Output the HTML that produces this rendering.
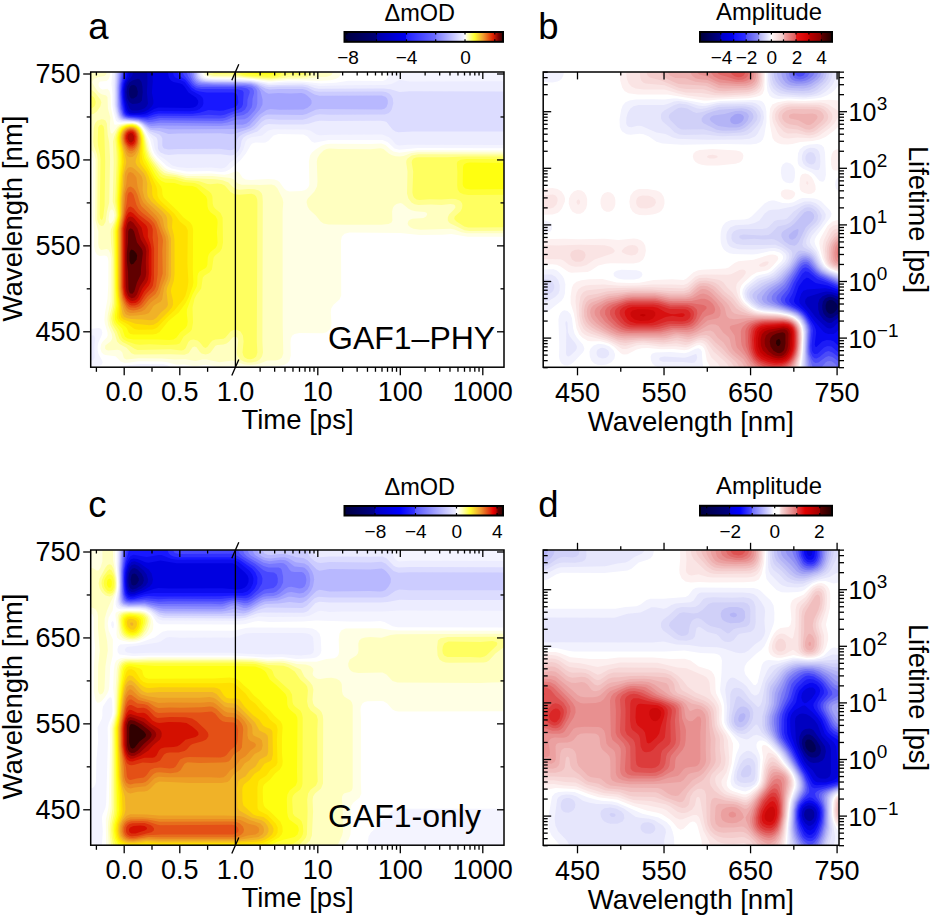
<!DOCTYPE html>
<html><head><meta charset="utf-8"><style>html,body{margin:0;padding:0;background:#fff;}svg{display:block;}text{font-family:"Liberation Sans",sans-serif;}</style></head><body><svg width="931" height="919" viewBox="0 0 931 919" font-family="Liberation Sans, sans-serif" fill="#000"><defs><linearGradient id="cba0" x1="0" x2="1" y1="0" y2="0"><stop offset="0.0000" stop-color="#000040"/><stop offset="0.2019" stop-color="#000078"/><stop offset="0.2025" stop-color="#0000a8"/><stop offset="0.3868" stop-color="#0000f0"/><stop offset="0.3874" stop-color="#2020ff"/><stop offset="0.5741" stop-color="#6c6cff"/><stop offset="0.5748" stop-color="#7a7aff"/><stop offset="0.7539" stop-color="#f4f4ff"/><stop offset="0.7603" stop-color="#ffffff"/><stop offset="0.7678" stop-color="#ffffe0"/><stop offset="0.8202" stop-color="#ffff30"/><stop offset="0.8738" stop-color="#f0a030"/><stop offset="0.9369" stop-color="#e02000"/><stop offset="0.9716" stop-color="#800000"/><stop offset="1.0000" stop-color="#300000"/></linearGradient><linearGradient id="cbb" x1="0" x2="1" y1="0" y2="0"><stop offset="0.0000" stop-color="#000038"/><stop offset="0.1576" stop-color="#000090"/><stop offset="0.1583" stop-color="#0000c8"/><stop offset="0.2553" stop-color="#0000f0"/><stop offset="0.2561" stop-color="#1010ff"/><stop offset="0.3500" stop-color="#3030ff"/><stop offset="0.3508" stop-color="#5050f4"/><stop offset="0.4447" stop-color="#8c8cf4"/><stop offset="0.4455" stop-color="#b0b0f4"/><stop offset="0.5364" stop-color="#f8f8ff"/><stop offset="0.5417" stop-color="#ffffff"/><stop offset="0.5492" stop-color="#fff4f4"/><stop offset="0.6326" stop-color="#f0c4c4"/><stop offset="0.6333" stop-color="#f0a8a8"/><stop offset="0.7273" stop-color="#e05858"/><stop offset="0.7280" stop-color="#e81818"/><stop offset="0.8250" stop-color="#d00000"/><stop offset="0.8258" stop-color="#c00000"/><stop offset="0.9197" stop-color="#880000"/><stop offset="0.9205" stop-color="#600000"/><stop offset="1.0000" stop-color="#200000"/></linearGradient><linearGradient id="cbc" x1="0" x2="1" y1="0" y2="0"><stop offset="0.0000" stop-color="#000040"/><stop offset="0.1924" stop-color="#000088"/><stop offset="0.1931" stop-color="#0000c0"/><stop offset="0.3502" stop-color="#0000ff"/><stop offset="0.4467" stop-color="#3434ff"/><stop offset="0.4473" stop-color="#5858ff"/><stop offset="0.7022" stop-color="#ececff"/><stop offset="0.7066" stop-color="#ffffff"/><stop offset="0.7129" stop-color="#ffffff"/><stop offset="0.7413" stop-color="#ffffc0"/><stop offset="0.7918" stop-color="#ffff30"/><stop offset="0.8549" stop-color="#f0a030"/><stop offset="0.9180" stop-color="#e03010"/><stop offset="0.9369" stop-color="#f00000"/><stop offset="0.9558" stop-color="#c00000"/><stop offset="0.9685" stop-color="#600000"/><stop offset="1.0000" stop-color="#300000"/></linearGradient><linearGradient id="cbd" x1="0" x2="1" y1="0" y2="0"><stop offset="0.0000" stop-color="#000040"/><stop offset="0.2235" stop-color="#000080"/><stop offset="0.2242" stop-color="#0000e0"/><stop offset="0.3030" stop-color="#0000ff"/><stop offset="0.3947" stop-color="#5050ff"/><stop offset="0.3955" stop-color="#7070ff"/><stop offset="0.5303" stop-color="#e0e0ff"/><stop offset="0.5606" stop-color="#ffffff"/><stop offset="0.5985" stop-color="#ffffff"/><stop offset="0.6136" stop-color="#f8dada"/><stop offset="0.7333" stop-color="#e07070"/><stop offset="0.7341" stop-color="#e04040"/><stop offset="0.7955" stop-color="#e00000"/><stop offset="0.9068" stop-color="#a00000"/><stop offset="0.9076" stop-color="#600000"/><stop offset="1.0000" stop-color="#200000"/></linearGradient><clipPath id="clipa"><rect x="90.7" y="72.0" width="413.30" height="295.20"/></clipPath><clipPath id="clipb"><rect x="543.2" y="72.0" width="295.80" height="295.30"/></clipPath><clipPath id="clipc"><rect x="90.7" y="550.0" width="413.30" height="295.20"/></clipPath><clipPath id="clipd"><rect x="543.2" y="550.0" width="295.80" height="295.30"/></clipPath></defs><g clip-path="url(#clipa)"><path fill-rule="evenodd" fill="#ffffe4" d="M257.5 367.5 242.1 367.5 232.5 366.1 218.5 367.0 205.5 364.7 194.5 366.4 184.5 364.4 176.5 364.8 167.5 362.2 161.5 361.4 138.5 361.3 128.5 362.8 124.5 362.8 120.6 361.5 115.5 356.2 105.5 355.1 103.5 354.3 101.5 352.2 100.4 348.5 101.0 344.5 102.5 341.7 106.8 337.5 107.7 335.5 107.5 332.5 104.8 323.5 104.4 319.5 104.9 313.5 107.5 298.7 108.3 284.5 108.4 261.5 107.7 257.5 106.5 255.9 104.5 255.5 99.5 255.9 96.9 254.5 95.1 251.5 94.1 246.5 94.2 231.5 92.5 215.5 92.9 161.5 92.5 158.2 90.5 155.5 90.5 72.5 110.2 72.5 109.7 76.5 108.4 79.5 106.5 80.9 100.3 81.5 99.0 82.5 98.4 84.5 98.9 86.5 100.5 88.6 102.5 89.4 107.5 88.7 109.5 90.9 110.6 95.5 110.9 107.5 114.3 124.5 115.5 124.8 123.5 123.2 131.5 122.7 135.5 123.2 139.5 125.1 142.0 127.5 145.1 132.5 148.3 139.5 151.6 151.5 153.6 155.5 156.5 159.2 164.5 167.4 167.5 169.4 184.5 173.5 190.5 174.1 211.5 173.5 224.5 174.7 228.5 174.1 235.5 171.4 237.5 171.4 239.5 172.9 242.5 177.7 245.5 179.5 250.5 180.0 268.5 179.0 274.5 179.4 277.5 180.4 279.5 181.9 284.1 188.5 286.5 190.6 289.5 191.4 301.5 190.9 304.5 190.3 306.5 189.2 308.5 186.9 309.4 184.5 308.9 161.5 310.0 155.5 312.0 152.5 315.6 149.5 321.5 145.7 325.5 144.2 330.5 143.7 370.5 144.1 381.5 143.6 385.5 145.0 390.5 149.6 393.4 151.5 399.5 152.8 417.5 150.3 503.5 150.5 503.5 236.7 467.5 236.8 451.5 234.0 442.5 234.8 419.5 235.1 400.5 233.1 349.5 232.6 344.5 233.7 341.9 236.5 341.0 240.5 341.2 295.5 339.5 299.6 333.5 304.8 331.2 308.5 330.8 312.5 331.5 323.5 331.1 326.5 329.8 329.5 326.5 332.3 322.5 333.3 299.5 333.0 294.5 333.9 292.3 335.5 290.8 338.5 290.5 342.5 290.8 355.5 289.5 360.5 287.5 363.1 284.5 364.8 280.5 365.7 267.5 366.1 257.5 367.5ZM272.5 81.5 266.5 81.4 253.5 79.3 235.5 78.1 210.5 77.7 205.5 76.1 204.0 74.5 203.4 72.5 340.7 72.5 340.0 75.5 338.5 77.5 335.5 79.1 330.5 80.2 320.5 80.7 288.5 80.2 272.5 81.5Z"/><path fill-rule="evenodd" fill="#ffffc0" d="M255.5 364.6 249.5 365.0 244.5 364.6 232.5 360.5 219.5 362.2 206.5 359.4 202.5 359.6 195.5 361.1 185.5 359.2 174.5 359.4 161.5 358.4 138.5 358.3 126.5 359.5 124.5 358.5 123.7 357.5 122.3 352.5 120.5 350.5 117.5 349.8 108.3 350.5 106.5 350.0 105.0 348.5 105.3 345.5 110.5 341.4 111.8 339.5 112.3 337.5 111.6 333.5 108.2 325.5 107.4 319.5 107.8 314.5 110.5 301.5 110.9 258.5 110.3 253.5 108.5 249.8 106.5 249.1 101.5 249.9 100.3 249.5 98.9 247.5 98.2 243.5 98.4 231.5 95.2 219.5 95.6 159.5 94.1 153.5 92.5 151.1 90.5 149.9 90.5 72.5 106.7 72.5 106.1 74.5 104.5 75.9 98.5 77.0 94.9 78.5 92.7 80.5 92.2 82.5 95.0 87.5 98.5 92.2 101.5 94.2 106.1 95.5 107.5 97.3 107.9 108.5 110.4 117.5 109.8 127.5 110.6 132.5 111.5 133.6 112.5 133.5 117.5 126.5 119.5 125.1 122.5 124.1 127.5 123.3 132.5 123.2 136.5 124.1 139.1 125.5 142.0 128.5 145.1 134.5 146.9 139.5 149.5 150.4 151.7 155.5 155.5 160.8 162.4 168.5 164.9 170.5 168.5 172.0 186.5 176.0 212.5 176.0 230.5 178.1 233.5 179.3 237.8 183.5 241.5 184.7 259.5 184.9 271.5 184.4 274.7 185.5 277.5 188.6 282.5 198.5 283.3 202.5 282.6 211.5 282.7 324.5 283.3 353.5 281.9 357.5 279.5 359.5 275.5 360.4 267.5 360.5 259.8 363.5 255.5 364.6ZM271.5 80.5 233.5 77.0 211.5 76.8 207.1 75.5 206.0 74.5 205.1 72.5 332.7 72.5 331.9 74.5 330.8 75.5 326.5 76.8 318.5 76.9 306.5 78.8 287.5 78.9 271.5 80.5ZM503.5 233.3 466.5 233.3 461.5 232.3 454.5 229.4 450.5 228.7 420.5 229.7 413.5 228.8 410.7 227.5 408.4 225.5 407.6 223.5 408.5 220.8 410.4 219.5 412.5 218.8 423.5 218.1 426.1 216.5 427.1 214.5 427.0 213.5 426.1 212.5 424.5 211.9 415.5 211.3 411.5 210.3 408.5 208.7 402.5 203.8 400.5 203.1 396.5 204.1 394.5 205.5 393.0 207.5 392.1 211.5 392.4 220.5 391.5 222.5 388.5 224.1 381.5 224.8 347.5 224.8 328.5 224.5 323.5 223.5 320.6 221.5 315.8 215.5 309.5 209.7 307.6 206.5 306.6 202.5 306.8 200.5 307.8 198.5 314.4 191.5 317.0 186.5 317.5 181.5 316.8 161.5 317.5 157.9 319.6 154.5 323.5 150.6 326.5 149.0 329.5 148.5 338.5 149.1 370.5 149.3 380.5 148.2 383.5 149.1 388.5 153.3 391.5 155.0 395.5 156.2 399.5 156.6 403.5 155.9 411.5 153.0 417.5 152.2 503.5 152.5 503.5 233.3ZM111.8 222.5 113.5 219.9 114.4 215.5 113.5 210.9 112.5 209.7 111.5 209.4 110.5 210.1 109.4 212.5 108.5 219.5 109.5 223.3 110.5 223.4 111.8 222.5Z"/><path fill-rule="evenodd" fill="#ffff90" d="M279.5 78.6 268.5 79.4 232.5 75.8 213.5 75.7 208.9 74.5 207.3 72.5 312.3 72.5 310.2 75.5 306.5 76.9 300.5 77.4 288.5 77.2 279.5 78.6ZM90.5 114.5 90.5 89.7 92.5 90.5 95.5 93.3 100.4 99.5 101.4 102.5 100.3 106.5 96.8 111.5 93.5 113.9 90.5 114.5ZM103.5 225.6 101.5 226.1 99.5 225.0 98.1 222.5 97.3 219.5 97.7 159.5 97.0 154.5 93.8 145.5 93.2 141.5 93.7 128.5 94.6 124.5 95.6 122.5 97.5 120.6 101.5 119.3 103.5 119.5 105.5 120.5 106.9 123.5 107.7 134.5 109.2 142.5 110.1 158.5 109.2 202.5 107.0 211.5 105.5 222.0 103.5 225.6ZM251.5 362.5 247.5 362.4 243.7 361.5 240.5 359.7 238.5 357.5 237.5 355.5 236.8 352.5 238.3 340.5 237.5 337.8 235.5 336.4 232.5 337.5 229.2 341.5 226.5 343.6 223.5 344.5 217.5 344.9 215.5 345.7 210.5 352.6 208.5 353.8 205.5 354.4 201.5 353.4 199.5 351.6 196.5 347.3 194.5 346.4 192.5 347.3 188.5 353.2 184.5 354.8 170.5 354.3 134.5 354.4 131.5 353.3 126.5 347.7 119.5 344.0 117.1 341.5 114.7 333.5 110.5 325.2 109.5 320.5 109.7 315.5 112.0 306.5 112.5 301.5 112.6 258.5 111.0 243.5 110.6 232.5 110.9 229.5 114.5 221.5 115.8 215.5 115.5 211.4 112.7 201.5 113.7 162.5 113.0 141.5 114.2 136.5 117.0 129.5 118.5 127.4 120.9 125.5 126.5 123.9 132.5 123.6 136.5 124.6 140.5 127.5 142.5 130.5 144.6 135.5 147.8 149.5 150.5 156.5 153.1 160.5 160.5 169.7 164.5 172.9 167.5 173.8 176.5 175.3 186.5 178.0 215.5 179.2 222.5 180.2 228.5 182.4 233.5 187.6 236.5 189.3 239.5 189.7 248.5 188.9 254.5 189.2 258.9 190.5 261.5 192.9 262.4 195.5 262.8 201.5 262.4 341.5 263.0 352.5 262.0 356.5 259.8 359.5 256.4 361.5 251.5 362.5ZM503.5 230.7 469.5 230.9 464.5 230.2 450.5 223.5 449.1 222.5 447.8 220.5 447.8 217.5 449.0 214.5 454.0 209.5 455.4 207.5 455.1 205.5 453.8 204.5 450.5 204.0 441.5 205.0 430.5 204.6 418.5 205.1 414.5 204.2 411.5 202.5 408.4 198.5 407.0 193.5 407.5 171.5 406.2 162.5 406.4 160.5 407.5 158.5 411.7 155.5 418.5 154.2 503.5 154.4 503.5 230.7Z"/><path fill-rule="evenodd" fill="#ffff60" d="M277.5 77.6 271.5 78.2 266.5 78.1 243.5 76.2 231.5 73.5 216.5 73.8 213.8 73.5 211.5 72.5 306.5 72.5 305.5 73.7 303.5 74.6 298.5 74.9 289.5 74.3 277.5 77.6ZM91.5 108.5 90.5 108.8 90.5 95.1 93.5 96.9 94.6 98.5 95.7 101.5 95.5 104.1 94.5 106.3 91.5 108.5ZM253.5 358.6 250.5 359.2 247.5 358.9 244.7 357.5 243.5 356.0 242.5 352.5 243.6 341.5 242.9 335.5 240.5 331.4 236.5 329.8 233.5 330.0 230.5 331.5 225.5 337.5 223.5 338.8 215.5 339.6 212.5 340.6 210.5 342.4 207.5 346.8 205.5 347.9 203.5 347.1 199.9 342.5 197.5 340.6 193.5 339.5 190.5 340.1 188.5 341.8 185.4 348.5 183.5 349.9 181.5 350.4 170.5 349.3 137.5 350.0 134.5 348.8 129.5 345.5 122.5 342.1 119.5 338.9 116.7 331.5 112.5 324.5 111.2 318.5 114.0 303.5 113.8 258.5 112.9 231.5 113.5 227.5 116.4 218.5 116.8 214.5 115.2 201.5 116.6 162.5 116.5 152.5 115.4 139.5 116.0 135.5 117.8 130.5 119.5 127.8 121.5 126.2 126.5 124.4 132.5 124.1 136.5 125.1 139.8 127.5 141.9 130.5 143.9 135.5 146.5 149.8 148.8 156.5 151.5 161.1 158.5 170.7 162.5 174.6 166.5 175.9 175.5 177.0 185.5 180.0 198.5 180.9 207.5 184.1 210.5 184.3 217.5 183.5 221.5 184.0 224.8 185.5 230.5 191.9 234.5 194.2 239.5 194.8 251.5 193.7 254.5 194.8 256.2 196.5 257.2 199.5 257.4 202.5 256.8 341.5 257.4 352.5 256.2 356.5 253.5 358.6ZM101.5 219.9 100.2 218.5 99.7 214.5 100.5 159.5 100.0 154.5 98.0 145.5 97.7 140.5 98.2 127.5 99.5 125.3 101.5 124.6 103.5 126.2 104.2 129.5 105.2 161.5 104.6 205.5 103.3 216.5 102.5 219.2 101.5 219.9ZM472.5 227.5 468.3 227.5 464.3 226.5 456.5 221.5 454.6 219.5 454.3 218.5 454.7 216.5 460.3 211.5 462.0 208.5 462.4 205.5 462.1 203.5 460.9 201.5 459.5 200.4 455.5 199.1 451.5 198.7 441.5 199.4 429.5 199.2 419.5 200.0 416.5 199.4 414.0 197.5 413.0 195.5 412.4 192.5 413.2 171.5 411.7 162.5 412.0 160.5 413.5 158.6 416.1 157.5 419.5 157.2 447.5 157.3 463.5 156.4 503.5 156.4 503.5 227.3 472.5 227.5Z"/><path fill-rule="evenodd" fill="#ffff38" d="M274.5 76.6 267.5 76.8 246.5 75.4 241.9 74.5 238.6 72.5 282.0 72.5 279.5 75.0 274.5 76.6ZM176.5 344.6 165.5 344.9 149.5 344.3 139.5 344.8 135.5 344.2 127.5 341.6 123.5 339.5 121.8 337.5 119.4 330.5 114.5 323.8 113.3 320.5 113.2 315.5 115.0 307.5 115.3 303.5 114.3 231.5 114.8 227.5 117.3 218.5 117.7 214.5 116.6 201.5 118.2 159.5 116.7 138.5 118.0 132.5 120.1 128.5 122.5 126.4 126.5 124.9 131.5 124.5 135.5 125.2 138.5 127.0 140.6 129.5 143.4 136.5 145.4 150.5 147.2 156.5 149.8 161.5 159.5 175.7 161.5 177.2 164.5 178.4 174.5 179.2 183.5 182.1 194.5 182.9 199.5 184.7 209.2 191.5 211.2 193.5 212.4 196.5 212.7 203.5 213.5 206.5 215.0 208.5 220.5 212.9 222.6 217.5 223.0 242.5 221.9 248.5 220.0 251.5 215.1 255.5 213.6 257.5 211.9 269.5 209.5 272.5 204.5 275.5 202.8 277.5 201.2 288.5 196.5 294.7 194.5 298.7 192.5 307.5 193.0 322.5 191.8 329.5 190.3 331.5 183.7 336.5 179.7 343.5 176.5 344.6ZM503.5 194.8 468.5 194.9 463.5 194.2 459.7 192.5 457.7 189.5 457.2 185.5 457.4 171.5 456.8 163.5 457.5 161.5 460.5 159.7 466.5 158.9 503.5 158.9 503.5 194.8Z"/><path fill-rule="evenodd" fill="#ffff10" d="M271.5 74.5 248.5 73.5 244.6 72.5 276.4 72.5 274.5 73.8 271.5 74.5ZM173.5 339.6 169.5 340.1 158.5 339.5 133.5 339.4 127.7 338.5 124.9 336.5 122.2 328.5 116.5 322.8 115.0 319.5 114.9 315.5 116.6 304.5 115.8 290.5 115.4 231.5 115.8 227.5 118.4 215.5 117.7 200.5 119.6 162.5 119.3 152.5 117.8 141.5 117.8 137.5 118.9 132.5 121.2 128.5 123.8 126.5 127.5 125.3 131.5 125.0 135.5 125.8 138.2 127.5 140.6 130.5 142.9 137.5 144.3 151.5 145.8 157.5 155.5 174.7 158.3 178.5 161.5 181.0 165.5 182.8 174.5 183.1 182.5 185.5 192.5 186.1 196.5 187.6 206.1 196.5 207.2 199.5 207.5 206.5 208.4 209.5 210.5 212.2 215.5 216.0 217.3 219.5 217.6 222.5 216.9 232.5 217.6 242.5 217.0 245.5 215.5 248.0 210.5 252.1 208.7 254.5 207.8 257.5 207.4 264.5 206.5 266.9 204.9 268.5 199.5 271.4 198.1 273.5 197.4 276.5 197.3 283.5 196.7 286.5 192.5 294.5 186.9 309.5 186.8 313.5 187.7 321.5 187.1 325.5 185.5 328.0 180.2 332.5 176.5 337.5 173.5 339.6ZM470.5 189.5 465.3 188.5 463.5 186.7 462.7 184.5 463.0 167.5 463.4 165.5 464.5 164.0 466.5 163.0 469.5 162.6 503.5 162.9 503.5 189.1 470.5 189.5Z"/><path fill-rule="evenodd" fill="#ffef08" d="M152.5 334.5 133.5 334.6 130.5 334.1 128.7 332.5 127.0 328.5 125.5 326.7 118.5 321.5 116.7 317.5 117.8 305.5 116.6 289.5 116.3 231.5 119.1 215.5 118.7 199.5 119.7 176.5 120.9 162.5 120.5 152.5 118.8 141.5 118.7 137.5 119.7 132.5 122.2 128.5 125.2 126.5 129.5 125.5 132.5 125.5 135.9 126.5 138.5 128.5 140.4 131.5 142.3 138.5 143.0 152.5 144.3 158.5 154.5 177.9 161.1 186.5 162.1 189.5 162.5 194.5 163.6 197.5 178.2 211.5 183.5 217.5 190.2 222.5 192.2 225.5 193.1 229.5 192.8 269.5 193.4 282.5 192.7 286.5 188.5 297.4 185.5 303.2 178.8 312.5 168.5 321.1 159.5 332.1 156.5 333.7 152.5 334.5Z"/><path fill-rule="evenodd" fill="#ffe000" d="M152.5 329.6 138.5 329.7 134.5 328.9 128.2 324.5 120.9 320.5 119.2 318.5 118.6 316.5 119.0 306.5 117.4 287.5 117.1 231.5 119.8 215.5 119.7 198.5 120.8 175.5 122.3 162.5 121.8 153.5 119.6 141.5 119.5 137.5 120.2 133.5 122.2 129.5 125.5 127.0 129.5 126.0 133.5 126.2 136.5 127.5 138.6 129.5 140.2 132.5 141.8 139.5 141.6 154.5 142.3 159.5 143.9 163.5 149.0 171.5 156.3 186.5 157.1 189.5 157.5 195.5 158.7 198.5 161.2 201.5 174.2 213.5 179.9 221.5 186.0 226.5 187.8 230.5 187.4 263.5 188.4 281.5 187.5 288.3 185.5 295.5 183.5 299.3 174.3 310.5 166.5 317.7 157.5 327.3 155.5 328.6 152.5 329.6Z"/><path fill-rule="evenodd" fill="#f8c914" d="M153.5 324.8 149.5 325.2 135.5 323.8 123.5 319.4 121.4 317.5 120.4 314.5 120.2 306.5 118.7 296.5 118.1 288.5 117.9 230.5 120.5 215.5 120.5 199.5 121.9 176.5 123.9 161.5 122.9 152.5 120.5 141.5 120.2 137.5 121.3 132.5 123.2 129.5 125.9 127.5 129.5 126.5 133.5 126.7 136.5 128.2 138.6 130.5 140.0 133.5 140.9 137.5 141.1 142.5 139.5 157.5 139.7 161.5 141.0 164.5 146.5 172.1 148.6 176.5 152.0 186.5 152.3 194.5 153.2 197.5 157.3 202.5 169.4 213.5 171.5 216.5 172.5 219.5 172.0 227.5 174.0 235.5 174.5 240.5 174.6 273.5 173.9 280.5 171.3 288.5 170.9 291.5 173.0 300.5 173.1 304.5 171.9 307.5 169.5 310.5 157.5 322.4 153.5 324.8Z"/><path fill-rule="evenodd" fill="#f0b228" d="M153.5 319.8 150.5 320.3 142.5 319.4 131.5 319.0 127.5 318.3 124.5 316.9 123.2 315.5 122.4 313.5 119.4 295.5 118.8 284.5 118.8 229.5 121.2 214.5 121.4 198.5 122.8 185.5 123.2 175.5 126.3 162.5 126.0 159.5 121.5 142.5 121.0 137.5 121.7 133.5 123.2 130.5 125.5 128.4 129.5 127.1 133.5 127.3 136.0 128.5 137.9 130.5 139.6 134.5 140.4 139.5 140.0 145.5 138.5 152.5 135.8 159.5 135.6 162.5 137.0 165.5 144.0 173.5 146.0 177.5 147.3 183.5 147.1 192.5 147.8 196.5 151.3 201.5 162.6 211.5 166.1 215.5 167.2 218.5 167.5 227.2 171.0 238.5 171.1 275.5 170.1 280.5 167.2 287.5 166.5 291.5 168.0 304.5 167.2 306.5 165.7 308.5 160.9 312.5 156.5 317.7 153.5 319.8Z"/><path fill-rule="evenodd" fill="#ed9e25" d="M132.5 156.9 129.5 157.3 127.5 155.9 126.5 154.4 122.8 144.5 121.8 139.5 121.9 135.5 123.5 131.3 126.5 128.6 130.5 127.5 134.5 128.3 137.2 130.5 138.7 133.5 139.6 138.5 139.4 143.5 138.0 149.5 135.5 154.2 132.5 156.9ZM136.5 315.6 129.5 315.8 126.5 314.8 125.2 313.5 123.8 310.5 120.7 298.5 119.6 288.5 119.6 228.5 121.9 214.5 122.5 196.9 124.1 185.5 124.9 174.5 125.6 171.5 127.5 168.2 128.5 167.4 130.5 166.9 132.5 167.5 135.5 169.7 139.5 173.5 141.7 176.5 142.8 180.5 142.6 190.5 144.5 198.1 147.5 202.5 158.3 212.5 161.7 216.5 162.9 219.5 164.4 227.5 168.0 236.5 168.7 241.5 168.5 275.5 167.5 279.5 164.1 287.5 162.1 299.5 160.5 301.8 155.5 304.4 153.5 306.0 150.1 311.5 148.5 313.2 144.9 314.5 136.5 315.6Z"/><path fill-rule="evenodd" fill="#ea8a22" d="M131.5 153.8 128.5 153.1 126.5 150.5 123.5 143.7 122.5 138.5 122.9 134.5 124.5 131.2 127.5 128.9 130.5 128.1 133.5 128.5 136.5 130.7 138.3 134.5 138.9 138.5 138.5 143.9 137.0 148.5 134.5 152.1 131.5 153.8ZM136.5 312.6 132.5 313.1 129.5 312.8 127.5 311.8 126.3 310.5 124.5 307.1 121.9 299.5 120.3 288.5 120.3 228.5 122.8 213.5 123.9 194.5 126.4 183.5 127.0 176.5 128.5 172.8 130.5 172.0 133.5 173.6 136.4 177.5 137.5 186.5 141.5 198.7 143.3 202.5 156.1 215.5 159.0 219.5 162.0 228.5 165.4 236.5 166.2 241.5 166.0 274.5 165.0 278.5 162.0 285.5 159.5 294.1 157.5 297.2 150.7 302.5 144.9 309.5 141.5 311.4 136.5 312.6Z"/><path fill-rule="evenodd" fill="#e76d1c" d="M132.5 150.8 129.5 150.8 127.5 149.1 124.5 143.8 123.3 138.5 123.7 134.5 125.2 131.5 127.5 129.6 130.5 128.8 133.5 129.3 135.5 130.6 137.3 133.5 138.1 137.5 137.9 142.5 136.6 146.5 134.5 149.5 132.5 150.8ZM137.5 309.7 133.5 310.4 130.5 310.1 128.5 309.2 126.5 307.2 124.5 303.6 122.6 298.5 121.1 289.5 121.0 228.5 123.8 212.5 125.5 193.3 127.5 188.2 128.5 187.2 130.5 186.6 133.5 188.2 135.5 190.8 137.5 195.1 140.0 203.5 141.5 206.2 153.5 217.7 156.5 221.5 162.2 236.5 163.0 240.5 162.3 250.5 162.7 273.5 158.0 289.5 155.5 294.1 149.0 299.5 143.4 306.5 140.7 308.5 137.5 309.7Z"/><path fill-rule="evenodd" fill="#e45016" d="M132.5 148.6 129.5 148.4 127.5 146.8 125.0 142.5 124.1 138.5 124.3 135.5 125.5 132.5 127.5 130.5 130.5 129.5 133.5 130.1 135.3 131.5 136.5 133.5 137.3 136.5 137.3 140.5 136.5 144.0 134.5 147.2 132.5 148.6ZM135.5 307.7 130.5 307.5 128.5 306.4 126.5 304.3 123.3 297.5 121.8 287.5 121.8 228.5 126.6 203.5 127.5 195.4 128.5 192.8 130.5 191.8 131.8 192.5 133.5 194.7 136.3 204.5 138.5 208.8 141.5 212.0 150.8 219.5 154.3 223.5 156.5 229.3 158.1 238.5 157.7 274.5 156.0 286.5 154.1 290.5 147.5 296.6 141.6 304.5 139.0 306.5 135.5 307.7Z"/><path fill-rule="evenodd" fill="#dc300b" d="M132.5 146.5 129.5 146.4 127.5 144.7 125.7 141.5 125.0 138.5 125.2 135.5 126.5 132.6 128.5 131.0 130.5 130.4 132.5 130.6 134.5 131.9 135.6 133.5 136.5 136.5 136.5 139.6 135.5 143.4 134.5 145.0 132.5 146.5ZM134.5 305.6 131.5 305.5 129.5 304.7 126.3 301.5 123.5 294.6 122.6 286.5 122.6 228.5 123.6 222.5 126.5 211.0 128.5 207.3 130.5 206.6 133.5 208.3 138.8 214.5 148.5 221.9 151.6 225.5 152.8 229.5 152.6 237.5 154.1 248.5 154.0 278.5 152.9 285.5 151.2 288.5 145.5 294.4 140.5 302.2 137.6 304.5 134.5 305.6Z"/><path fill-rule="evenodd" fill="#d41000" d="M132.5 144.5 130.5 144.7 128.5 143.6 127.0 141.5 126.1 138.5 126.3 135.5 127.2 133.5 128.5 132.2 130.5 131.4 132.5 131.7 133.7 132.5 135.5 136.5 134.9 141.5 133.8 143.5 132.5 144.5ZM135.5 302.9 131.5 303.2 129.5 302.4 127.5 300.6 125.6 297.5 124.5 294.5 123.5 287.5 123.5 228.5 124.6 222.5 126.5 216.1 128.5 212.6 130.5 211.7 133.5 213.6 139.5 219.6 145.3 224.5 146.9 226.5 147.8 229.5 147.8 236.5 150.6 244.5 151.4 249.5 151.4 274.5 150.5 282.1 148.9 285.5 144.0 291.5 139.7 299.5 137.5 301.8 135.5 302.9Z"/><path fill-rule="evenodd" fill="#b20800" d="M131.5 142.5 130.5 142.5 129.0 141.5 127.5 138.5 127.5 136.5 128.2 134.5 130.5 132.9 132.6 133.5 134.1 136.5 133.7 140.5 131.5 142.5ZM134.5 300.6 132.5 301.0 130.5 300.5 127.5 298.0 125.5 293.5 124.5 286.5 124.5 229.5 126.9 219.5 128.5 217.1 130.5 216.4 132.5 217.1 134.5 218.8 141.5 227.5 143.6 236.5 148.1 245.5 149.0 250.5 148.6 260.5 148.9 273.5 148.1 279.5 146.8 282.5 142.4 288.5 138.2 297.5 136.5 299.5 134.5 300.6Z"/><path fill-rule="evenodd" fill="#900000" d="M134.5 297.5 131.5 298.2 128.5 296.2 126.5 291.6 125.9 286.5 125.4 258.5 125.9 230.5 127.5 223.8 128.5 221.9 130.5 220.8 133.5 223.0 137.4 228.5 140.8 239.5 145.5 247.0 146.3 251.5 145.8 262.5 146.2 272.5 145.7 276.5 144.5 279.6 139.9 286.5 136.9 294.5 134.5 297.5Z"/><path fill-rule="evenodd" fill="#600000" d="M132.5 293.8 130.4 293.5 129.5 292.4 128.5 289.5 128.0 271.5 126.9 261.5 126.9 252.5 128.0 242.5 128.2 231.5 128.9 229.5 130.5 228.3 132.5 229.2 134.1 231.5 137.0 242.5 141.5 248.5 142.5 250.8 142.8 253.5 141.1 267.5 140.8 274.5 137.0 282.5 134.3 291.5 132.5 293.8Z"/><path fill-rule="evenodd" fill="#300000" d="M133.5 263.7 131.5 264.4 130.5 263.8 129.5 261.1 129.5 252.9 130.5 250.2 131.5 249.6 133.5 250.3 134.8 251.5 136.4 253.5 137.1 255.5 136.6 259.5 133.5 263.7Z"/><path fill-rule="evenodd" fill="#f4f4ff" d="M225.5 171.6 221.5 172.0 209.5 170.9 186.5 171.5 171.5 168.6 166.5 165.7 157.5 157.3 154.5 153.5 152.7 149.5 150.1 139.5 144.2 129.5 140.9 125.5 137.7 123.5 134.5 122.5 119.5 122.5 117.5 122.1 115.9 120.5 113.2 110.5 112.4 105.5 112.4 94.5 111.4 83.5 112.2 72.5 202.0 72.5 202.4 74.5 203.9 76.5 206.5 77.8 210.5 78.6 233.5 78.8 251.5 79.8 268.5 82.7 286.5 81.6 301.5 81.6 320.5 83.5 335.5 82.7 348.5 80.7 382.5 80.9 385.5 80.0 387.4 78.5 388.3 76.5 388.7 72.5 503.5 72.5 503.5 148.3 417.5 148.1 399.5 149.7 394.5 148.5 387.5 141.9 382.5 139.9 328.5 139.9 314.5 142.7 311.6 141.5 307.5 136.5 303.5 134.4 278.5 134.1 273.5 135.6 268.5 140.7 265.5 142.4 262.5 142.8 255.5 142.4 252.2 143.5 250.5 145.5 245.9 153.5 240.5 160.3 229.6 169.5 225.5 171.6ZM99.5 365.9 90.5 366.3 90.5 329.1 98.5 327.9 100.5 328.5 101.5 329.5 102.4 332.5 101.6 335.5 98.5 342.2 97.6 346.5 97.7 350.5 98.5 354.0 102.1 360.5 102.7 362.5 101.8 364.5 99.5 365.9ZM170.5 367.5 118.3 367.5 119.5 366.5 121.5 365.9 140.5 364.0 163.5 364.3 167.9 365.5 170.5 367.5Z"/><path fill-rule="evenodd" fill="#ececff" d="M224.5 167.7 221.5 168.4 210.5 167.5 187.5 168.0 177.5 166.9 172.3 165.5 165.1 159.5 159.5 155.8 157.2 153.5 154.8 148.5 153.0 139.5 141.5 125.2 138.5 123.3 135.5 122.3 121.5 121.7 118.3 120.5 116.1 116.5 113.8 105.5 113.3 83.5 113.8 72.5 200.6 72.5 201.4 75.5 203.3 77.5 205.5 78.5 209.5 79.3 234.5 79.6 251.5 80.5 269.5 84.0 284.5 83.1 303.5 83.0 319.5 86.1 347.5 85.2 384.5 85.1 391.5 83.9 399.5 80.1 409.5 81.5 503.5 81.3 503.5 144.9 408.5 144.7 399.5 145.6 397.5 145.2 395.5 144.0 391.5 139.3 388.5 136.9 382.5 134.6 329.5 134.7 319.5 135.2 316.5 134.5 310.1 130.5 305.5 129.4 273.5 129.3 268.5 130.6 262.1 135.5 251.5 137.3 247.5 139.1 245.7 141.5 243.3 149.5 240.5 153.9 236.5 157.9 230.5 161.9 226.5 166.4 224.5 167.7ZM91.5 360.7 90.5 360.8 90.5 334.9 93.5 335.5 94.6 336.5 95.2 338.5 94.3 347.5 94.7 357.5 93.8 359.5 91.5 360.7ZM144.5 367.5 137.2 367.5 144.5 367.5ZM161.5 367.5 155.0 367.5 161.5 367.5Z"/><path fill-rule="evenodd" fill="#dcdcff" d="M233.5 154.9 230.5 155.4 220.5 154.3 177.5 154.3 168.5 154.9 164.5 154.3 160.6 152.5 158.8 150.5 157.9 148.5 157.6 140.5 156.5 137.5 149.5 133.0 141.6 124.5 138.5 122.7 135.5 121.8 121.5 120.8 119.1 119.5 117.7 117.5 115.9 111.5 114.8 104.5 114.7 84.5 115.1 72.5 199.3 72.5 200.0 75.5 201.4 77.5 203.5 78.8 207.5 79.8 250.5 81.1 256.5 82.0 268.5 85.3 302.5 84.5 307.5 85.3 314.5 88.0 318.5 88.7 383.5 88.4 390.5 89.3 399.5 92.1 409.5 91.3 503.5 91.5 503.5 131.6 413.5 131.5 398.5 132.2 395.5 131.5 392.5 129.6 386.5 122.1 384.5 121.2 380.5 120.7 329.5 121.0 319.5 120.7 315.5 121.4 308.5 123.8 303.5 124.5 279.5 124.6 268.5 123.9 264.5 125.2 257.4 131.5 246.5 135.5 243.5 137.4 241.6 140.5 240.5 146.5 239.4 149.5 236.5 153.1 233.5 154.9Z"/><path fill-rule="evenodd" fill="#ccccff" d="M233.5 149.6 230.5 150.2 219.5 148.8 177.5 148.9 168.5 149.5 164.1 148.5 163.1 147.5 162.3 145.5 162.3 138.5 161.4 136.5 159.4 134.5 149.5 131.1 142.6 124.5 138.5 122.1 133.5 121.0 123.5 120.4 120.9 119.5 118.9 117.5 117.1 112.5 115.8 104.5 115.7 85.5 116.3 72.5 198.1 72.5 198.6 75.5 200.5 78.3 203.5 79.9 207.5 80.7 250.5 81.8 256.5 82.9 265.5 86.4 269.5 87.1 279.5 86.5 302.5 86.4 307.3 87.5 314.5 90.9 318.5 91.7 382.5 91.5 386.5 92.3 389.0 93.5 391.2 95.5 392.8 98.5 393.3 103.5 391.7 109.5 390.4 111.5 388.5 113.2 384.5 114.5 329.5 114.7 319.5 114.3 315.5 114.9 306.5 118.8 302.5 119.7 278.5 119.7 269.5 118.9 265.5 119.6 261.5 122.1 256.5 127.5 254.0 129.5 242.5 134.2 239.1 136.5 237.2 139.5 236.0 146.5 233.5 149.6Z"/><path fill-rule="evenodd" fill="#b8b8ff" d="M235.5 133.5 231.5 134.3 220.5 133.2 178.5 133.4 168.5 134.0 159.5 130.9 150.5 129.7 142.4 123.5 138.4 121.5 122.5 119.3 120.5 117.9 119.0 115.5 116.9 106.5 116.6 88.5 117.4 72.5 196.8 72.5 197.5 76.4 198.8 78.5 201.5 80.2 205.5 81.2 214.5 81.9 237.5 81.9 250.5 82.5 256.5 83.9 265.5 88.6 269.5 89.5 279.5 88.9 302.5 88.9 306.5 90.1 314.5 94.6 319.5 95.7 381.5 95.4 385.5 96.8 387.1 98.5 387.8 100.5 387.8 103.5 386.5 106.9 384.5 108.7 381.5 109.6 319.5 108.9 315.5 109.7 306.5 113.9 302.5 114.9 267.5 114.6 264.5 115.6 261.4 117.5 254.1 125.5 250.5 128.3 235.5 133.5Z"/><path fill-rule="evenodd" fill="#a4a4ff" d="M240.5 128.6 233.5 129.1 169.5 129.2 159.5 128.1 152.5 128.2 149.5 127.4 142.5 122.7 138.5 120.9 123.5 118.9 121.4 117.5 120.0 115.5 118.6 111.5 117.8 106.5 117.4 88.5 118.5 72.5 195.4 72.5 195.7 75.5 197.0 78.5 199.3 80.5 202.5 81.7 212.5 82.6 240.5 82.7 251.4 83.5 257.4 85.5 265.5 92.3 268.5 93.7 278.5 92.9 290.5 93.6 301.5 92.9 304.5 93.8 307.1 95.5 310.3 98.5 311.5 100.5 311.6 103.5 310.3 105.5 307.5 107.8 303.5 109.6 279.5 109.7 270.5 109.1 266.5 109.9 259.5 114.8 249.6 125.5 245.5 127.5 240.5 128.6Z"/><path fill-rule="evenodd" fill="#8e8eff" d="M227.5 125.5 219.5 126.0 159.5 125.4 151.5 126.1 148.5 125.3 142.5 121.9 138.5 120.3 126.5 119.0 123.5 118.0 121.5 116.3 120.0 113.5 118.4 104.5 118.2 88.5 119.5 72.5 193.8 72.5 194.4 76.5 195.9 79.5 198.3 81.5 201.5 82.6 214.5 83.5 245.5 83.8 251.5 84.5 256.3 86.5 258.6 88.5 260.5 91.5 262.6 99.5 262.5 104.5 259.8 109.5 249.5 121.2 246.5 123.5 242.5 124.7 234.5 124.5 227.5 125.5Z"/><path fill-rule="evenodd" fill="#7878ff" d="M154.5 123.6 149.5 123.8 138.5 119.7 126.5 118.3 124.2 117.5 122.0 115.5 119.9 109.5 118.9 98.5 119.0 86.5 120.5 72.5 192.0 72.5 192.7 76.5 194.0 79.5 196.5 82.2 199.5 83.5 212.5 84.5 247.5 85.0 251.5 85.8 254.5 87.3 256.5 89.5 257.3 91.5 257.3 103.5 256.3 107.5 254.5 110.5 250.5 115.0 247.5 117.7 244.5 119.3 235.5 119.7 227.5 122.5 221.5 123.4 160.5 122.8 154.5 123.6Z"/><path fill-rule="evenodd" fill="#6060ff" d="M152.5 121.7 148.5 121.9 138.5 119.0 126.5 117.6 124.1 116.5 122.3 114.5 120.5 108.1 119.6 95.5 119.8 85.5 121.5 72.5 189.8 72.5 190.6 76.5 192.7 80.5 195.5 83.5 198.5 84.9 203.5 85.4 244.5 85.9 251.2 87.5 252.6 88.5 253.8 90.5 254.0 93.5 252.6 98.5 252.3 104.5 251.6 107.5 247.8 112.5 243.5 115.0 234.8 116.5 226.5 120.0 222.5 120.9 160.5 120.3 152.5 121.7Z"/><path fill-rule="evenodd" fill="#4848ff" d="M151.5 119.7 147.5 120.1 137.5 118.2 128.5 117.4 125.5 116.4 123.4 114.5 121.4 108.5 120.2 94.5 120.6 85.5 122.5 72.5 186.8 72.5 188.2 76.5 192.1 82.5 194.5 85.0 197.5 86.5 201.5 87.0 241.5 87.3 247.2 88.5 249.5 90.5 249.7 92.5 247.5 99.4 247.2 105.5 245.1 109.5 241.5 111.9 233.5 114.1 224.5 117.9 219.5 118.4 159.5 118.0 151.5 119.7Z"/><path fill-rule="evenodd" fill="#3030ff" d="M147.5 118.5 128.5 116.6 125.5 115.4 123.5 112.9 121.7 104.5 120.9 92.5 121.4 84.5 123.6 72.5 182.7 72.5 184.1 75.5 192.4 85.5 196.5 88.2 201.5 89.0 237.5 89.2 242.5 90.5 243.7 92.5 242.9 104.5 241.5 107.5 238.5 109.6 224.5 114.7 220.5 115.4 208.5 114.8 191.5 116.0 158.5 115.7 147.5 118.5Z"/><path fill-rule="evenodd" fill="#1818ff" d="M147.5 116.8 143.5 117.1 129.5 116.0 126.5 114.9 124.4 112.5 122.5 103.5 121.7 91.5 122.3 84.5 124.8 72.5 177.7 72.5 179.1 75.5 185.5 80.0 191.6 87.5 195.5 90.2 199.5 91.4 206.5 92.4 233.0 92.5 235.9 93.5 236.9 94.5 237.7 96.5 238.3 102.5 237.1 105.5 234.0 107.5 223.5 110.4 219.5 110.8 208.5 110.0 199.5 112.7 192.5 113.7 158.5 113.4 154.5 114.2 147.5 116.8Z"/><path fill-rule="evenodd" fill="#0c0cef" d="M144.5 115.6 129.5 115.1 126.5 113.6 125.1 111.5 122.9 99.5 122.5 90.5 123.1 84.5 125.5 76.5 126.2 72.5 173.0 72.5 173.7 75.5 175.2 77.5 184.5 82.1 191.4 90.5 200.5 95.5 202.4 97.5 203.2 99.5 203.4 103.5 202.3 106.5 199.5 109.1 196.5 110.5 189.5 111.3 158.5 110.9 154.5 111.8 147.5 114.9 144.5 115.6Z"/><path fill-rule="evenodd" fill="#0000e0" d="M140.5 114.5 132.5 114.5 129.5 113.9 127.3 112.5 125.7 109.5 123.5 97.5 123.3 89.5 124.3 83.5 127.0 76.5 127.8 72.5 167.9 72.5 168.9 77.5 170.9 80.5 173.5 82.1 180.3 83.5 182.5 84.6 184.4 86.5 188.5 92.6 196.0 97.5 198.1 100.5 198.3 102.5 197.5 104.8 195.8 106.5 193.5 107.5 189.5 107.9 158.5 107.5 154.5 108.8 145.8 113.5 140.5 114.5Z"/><path fill-rule="evenodd" fill="#0000c4" d="M141.5 112.6 134.5 113.2 130.5 112.7 128.5 111.4 127.1 108.5 124.5 97.6 124.3 89.5 125.4 83.5 128.9 76.5 129.8 72.5 152.5 72.5 152.8 81.5 151.9 92.5 153.4 100.5 153.4 103.5 151.8 106.5 148.5 109.4 144.9 111.5 141.5 112.6Z"/><path fill-rule="evenodd" fill="#0000a8" d="M137.5 110.5 132.1 110.5 130.5 109.6 129.5 108.2 126.5 101.0 125.5 96.6 125.2 91.5 125.8 86.5 127.5 82.0 132.3 75.5 133.0 72.5 147.2 72.5 147.5 81.5 146.9 92.5 148.0 103.5 146.5 106.5 144.5 108.2 141.7 109.5 137.5 110.5Z"/><path fill-rule="evenodd" fill="#000088" d="M137.5 103.6 132.5 104.1 129.5 102.2 127.5 98.5 126.6 92.5 127.3 86.5 129.5 82.5 132.5 80.4 137.5 78.8 139.5 79.3 141.5 82.0 142.4 86.5 142.7 92.5 141.8 100.5 140.2 102.5 137.5 103.6Z"/><path fill-rule="evenodd" fill="#000068" d="M133.5 98.6 131.5 98.5 130.3 97.5 129.3 95.5 128.9 91.5 129.3 88.5 130.2 86.5 131.5 85.3 133.5 84.9 135.1 85.5 136.5 86.9 137.8 91.5 137.5 94.5 136.6 96.5 133.5 98.6Z"/></g><g clip-path="url(#clipb)"><path fill-rule="evenodd" fill="#fdf0f0" d="M708.5 100.5 703.5 100.4 667.5 94.5 637.5 94.6 628.5 93.3 624.5 90.9 622.2 87.5 620.2 80.5 619.6 72.5 765.0 72.5 764.3 89.5 762.8 93.5 760.5 95.4 755.5 97.0 748.5 98.2 718.5 99.4 708.5 100.5ZM787.5 144.5 781.5 144.2 777.5 143.0 774.5 141.1 772.5 137.9 769.9 124.5 769.4 116.5 770.1 108.5 772.3 104.5 777.5 102.3 787.5 100.6 804.5 101.1 829.5 99.8 838.5 100.6 838.5 126.4 834.3 130.5 825.5 136.9 819.7 139.5 812.5 140.9 800.5 142.1 792.5 144.0 787.5 144.5ZM718.5 165.6 706.5 165.5 701.5 164.8 697.9 163.5 695.5 161.9 693.6 159.5 692.8 156.5 693.5 153.5 695.5 151.4 699.5 149.9 712.5 148.9 736.5 150.4 740.4 151.5 742.7 153.5 743.4 155.5 743.0 158.5 741.5 161.0 739.5 162.5 735.5 163.8 718.5 165.6ZM836.5 170.6 833.5 170.3 832.0 168.5 831.1 164.5 831.0 158.5 831.7 154.5 833.1 151.5 835.5 149.7 838.5 149.0 838.5 170.3 836.5 170.6ZM811.5 193.7 808.5 193.9 804.5 193.1 801.5 191.5 800.0 189.5 799.5 185.5 799.9 178.5 800.9 175.5 802.5 173.9 805.5 173.6 808.5 174.6 811.5 177.0 813.6 180.5 815.4 185.5 815.7 189.5 814.5 192.1 811.5 193.7ZM552.5 214.5 543.5 214.7 543.5 188.7 552.5 188.0 557.5 188.9 561.6 191.5 564.2 195.5 565.0 198.5 564.9 201.5 561.9 208.5 559.5 211.5 557.5 213.0 552.5 214.5ZM652.5 214.5 645.5 215.2 639.5 214.9 635.5 213.7 632.5 211.5 630.2 207.5 629.3 201.5 630.5 195.5 633.5 191.5 636.5 189.8 639.5 189.0 647.5 188.9 656.5 190.4 659.5 191.8 661.6 193.5 663.5 196.5 664.4 199.5 664.5 203.5 663.5 207.5 661.6 210.5 659.5 212.2 656.5 213.6 652.5 214.5ZM789.5 199.5 786.5 199.6 784.5 199.0 781.5 196.6 780.7 193.5 781.4 191.5 782.4 190.5 784.7 189.5 788.5 189.4 792.5 190.5 794.5 191.9 795.3 193.5 794.3 196.5 792.2 198.5 789.5 199.5ZM580.5 213.7 576.5 213.8 572.5 211.7 570.3 208.5 568.7 203.5 569.0 198.5 570.8 194.5 573.7 191.5 577.5 190.0 581.5 190.6 584.3 192.5 586.2 195.5 587.2 199.5 587.1 204.5 586.1 208.5 583.5 212.1 580.5 213.7ZM609.5 211.8 606.5 211.8 603.5 210.3 601.5 207.5 600.5 203.5 600.6 199.5 602.0 195.5 604.5 192.9 607.5 192.0 610.5 192.5 613.2 194.5 614.8 197.5 615.4 200.5 615.3 204.5 614.4 207.5 612.5 210.2 609.5 211.8ZM838.5 271.9 830.5 268.9 827.5 266.8 825.4 264.5 822.6 258.5 820.0 248.5 819.3 243.5 819.6 240.5 820.8 237.5 827.5 225.8 832.5 221.6 838.5 219.8 838.5 271.9ZM576.5 272.5 571.5 272.7 568.5 272.0 560.5 266.4 556.5 264.7 552.5 264.3 543.5 264.6 543.5 239.3 564.5 238.8 578.5 239.3 604.5 238.7 618.5 240.0 633.5 238.4 637.5 238.9 641.3 240.5 643.5 242.5 645.2 245.5 645.9 250.5 645.0 255.5 643.1 259.5 639.5 262.3 633.5 263.4 610.5 263.3 605.5 263.7 598.5 265.6 590.5 270.7 587.5 272.0 576.5 272.5ZM799.5 367.5 710.2 367.5 706.8 360.5 705.2 351.5 704.1 348.5 702.5 346.4 699.5 345.0 696.5 345.4 688.5 349.4 684.5 350.3 673.5 349.0 661.5 349.3 647.5 348.1 641.5 348.2 636.6 349.5 627.5 354.3 624.5 354.6 622.5 354.2 620.5 353.0 613.7 346.5 608.6 343.5 600.5 341.2 590.5 341.3 587.5 340.8 582.5 337.8 579.2 334.5 576.5 328.6 573.9 313.5 570.7 303.5 570.6 296.5 571.9 287.5 573.5 284.2 576.5 281.7 581.5 280.2 589.5 279.2 602.5 278.9 616.5 282.5 629.5 283.1 639.5 282.7 653.5 279.9 672.5 279.2 683.5 279.9 686.5 278.5 693.5 272.3 697.5 270.4 701.5 269.7 725.5 268.6 728.6 267.5 734.5 262.9 738.5 261.2 753.5 259.7 769.5 254.8 772.5 254.5 775.5 254.9 777.8 256.5 778.3 258.5 777.4 260.5 773.2 265.5 770.2 268.5 767.5 270.2 756.5 272.6 751.5 275.6 743.9 282.5 741.4 285.5 739.9 289.5 740.1 294.5 741.4 298.5 744.1 302.5 749.5 307.2 754.5 310.2 761.5 312.1 777.5 313.4 787.5 315.2 793.7 317.5 798.6 321.5 801.7 327.5 802.6 334.5 801.7 352.5 799.5 367.5Z"/><path fill-rule="evenodd" fill="#fae4e4" d="M721.5 97.5 707.5 97.7 687.5 95.5 678.2 93.5 664.5 89.5 643.5 89.6 635.5 88.5 631.4 86.5 628.5 83.2 626.8 78.5 626.2 72.5 763.7 72.5 763.5 81.5 762.7 86.5 761.0 90.5 758.5 92.9 754.5 94.7 748.5 96.1 721.5 97.5ZM788.5 138.6 783.5 138.0 779.5 135.5 777.5 132.4 773.0 122.5 772.1 117.5 772.5 112.5 774.4 108.5 777.9 105.5 782.8 103.5 788.5 102.5 802.5 102.9 820.5 102.6 824.5 103.2 828.3 104.5 838.5 111.0 838.5 116.5 834.2 123.5 829.5 128.3 819.4 135.5 815.5 137.2 810.5 138.2 797.5 137.4 788.5 138.6ZM714.5 158.6 709.5 158.4 707.4 157.5 707.0 156.5 708.5 155.3 712.5 154.8 716.5 155.5 717.7 156.5 717.4 157.5 714.5 158.6ZM838.5 162.6 837.8 160.5 838.5 158.0 838.5 162.6ZM807.5 184.9 806.2 183.5 806.5 181.3 807.5 181.3 808.2 182.5 808.5 183.5 807.5 184.9ZM550.5 208.6 543.5 208.9 543.5 195.3 553.0 194.5 555.5 195.4 557.2 197.5 557.7 200.5 556.5 204.5 553.5 207.5 550.5 208.6ZM646.5 208.5 640.5 208.2 638.5 207.2 636.9 205.5 636.2 203.5 636.2 200.5 636.9 198.5 638.9 196.5 642.5 195.4 648.5 195.8 652.5 197.1 655.3 199.5 656.0 202.5 654.5 205.5 651.5 207.4 646.5 208.5ZM578.5 204.7 577.5 204.5 576.5 202.5 576.9 200.5 578.5 199.3 579.5 199.9 580.1 201.5 579.9 203.5 578.5 204.7ZM838.5 270.9 834.5 269.7 830.5 267.8 827.7 265.5 826.2 263.5 824.0 257.5 822.5 246.5 823.7 240.5 829.5 228.5 833.5 225.4 838.5 224.5 838.5 270.9ZM581.5 266.5 575.5 266.7 571.5 266.0 568.5 264.5 563.5 260.5 560.5 259.3 543.5 258.9 543.5 245.1 556.5 245.5 579.5 244.8 604.5 245.3 610.5 246.8 613.1 248.5 614.7 250.5 614.6 251.5 613.8 252.5 612.2 253.5 594.5 259.6 586.5 265.1 581.5 266.5ZM635.5 254.7 631.5 255.4 626.4 254.5 622.4 252.5 621.7 251.5 621.8 250.5 624.7 247.5 628.5 245.6 632.5 245.0 635.4 245.5 637.5 247.0 638.5 249.5 637.8 252.5 635.5 254.7ZM764.5 266.6 760.5 266.7 759.0 265.5 759.5 264.5 762.5 262.5 765.5 261.4 768.3 261.5 768.7 262.5 767.7 264.5 764.5 266.6ZM798.5 367.5 720.4 367.5 717.8 363.5 711.3 357.5 705.6 345.5 703.5 343.5 700.5 342.5 696.5 343.0 688.5 346.8 685.5 347.5 675.5 346.2 660.5 346.8 648.5 345.0 642.5 344.8 636.5 345.5 626.5 349.1 622.5 348.9 611.5 342.8 606.5 340.7 587.5 336.1 584.5 334.4 581.5 331.7 578.6 325.5 577.0 316.5 575.5 301.5 575.8 296.5 576.7 292.5 578.5 289.2 581.5 287.0 585.5 285.6 590.5 284.9 603.5 284.6 620.5 285.7 637.5 285.4 652.5 284.5 672.5 284.5 683.5 285.0 687.5 283.4 695.5 276.5 699.5 274.9 704.5 274.4 727.5 274.8 731.5 273.9 739.5 270.0 742.5 269.5 744.5 269.9 745.9 271.5 745.6 273.5 743.5 276.5 737.7 282.5 736.6 284.5 736.1 287.5 736.7 291.5 738.8 297.5 741.0 301.5 743.5 304.4 750.3 309.5 756.5 312.2 762.5 313.2 780.5 314.5 790.5 316.7 795.7 319.5 799.9 324.5 801.7 330.5 802.0 339.5 801.0 353.5 798.5 367.5Z"/><path fill-rule="evenodd" fill="#f7d8d8" d="M726.5 95.5 714.5 95.3 701.5 93.0 685.5 92.4 677.5 90.5 664.5 85.3 645.5 83.5 643.2 82.5 641.2 80.5 640.2 77.5 639.9 72.5 762.4 72.5 762.1 80.5 761.1 85.5 759.5 88.6 756.5 91.3 752.5 93.1 747.5 94.2 726.5 95.5ZM808.5 135.5 796.5 133.2 787.5 133.4 783.5 131.6 778.3 125.5 775.3 119.5 775.1 114.5 776.2 111.5 777.5 109.7 780.1 107.5 783.5 105.8 787.5 104.7 791.5 104.3 818.5 104.7 823.5 105.9 827.7 108.5 831.3 112.5 832.4 115.5 832.3 118.5 830.3 122.5 827.4 125.5 817.5 132.9 813.5 134.8 808.5 135.5ZM838.5 269.9 832.1 267.5 829.4 265.5 827.7 263.5 825.8 258.5 824.8 249.5 826.0 242.5 831.1 232.5 834.0 229.5 838.5 228.2 838.5 269.9ZM580.5 261.8 575.5 261.8 572.0 259.5 570.3 255.5 570.5 253.5 571.7 251.5 574.5 250.0 578.5 249.5 582.5 250.4 584.5 251.9 585.6 254.5 585.1 257.5 583.0 260.5 580.5 261.8ZM796.5 367.5 729.3 367.5 727.5 364.5 724.8 361.5 713.5 351.6 706.7 342.5 704.5 340.9 701.5 340.1 697.5 340.6 689.5 344.0 685.5 344.9 676.5 343.2 662.5 344.6 643.5 342.6 636.5 343.1 625.5 345.7 620.5 344.9 607.5 339.2 590.3 333.5 586.5 331.5 583.5 328.7 580.8 323.5 579.2 315.5 579.1 304.5 580.5 296.5 581.5 294.4 583.5 292.1 586.5 290.5 589.5 289.9 607.5 288.3 650.5 287.3 683.3 288.5 687.5 287.1 695.5 280.0 699.5 278.1 706.5 277.7 718.5 279.7 721.5 281.0 723.4 282.5 727.5 287.8 732.5 292.6 740.7 304.5 744.2 307.5 748.9 310.5 753.5 312.5 758.5 313.7 777.5 314.8 786.5 316.2 793.1 318.5 797.5 322.1 799.5 325.1 800.8 328.5 801.5 338.5 800.1 355.5 797.5 367.5 796.5 367.5Z"/><path fill-rule="evenodd" fill="#f4cccc" d="M724.5 93.5 715.5 92.9 703.5 89.2 686.5 89.1 679.5 88.0 660.5 80.2 649.8 77.5 647.5 75.5 646.6 72.5 761.0 72.5 760.7 79.5 759.5 84.5 757.5 87.7 754.5 89.9 750.5 91.5 746.5 92.3 724.5 93.5ZM810.5 132.6 806.2 132.5 797.5 129.5 788.5 128.6 785.5 127.4 781.5 124.0 778.7 119.5 778.2 115.5 779.2 112.5 780.9 110.5 783.7 108.5 786.5 107.3 790.5 106.6 815.5 106.7 820.0 107.5 823.5 109.2 826.0 111.5 827.9 114.5 828.3 117.5 827.2 120.5 824.6 123.5 816.5 130.0 813.5 131.7 810.5 132.6ZM838.5 268.8 832.6 266.5 829.3 263.5 827.6 259.5 826.8 251.5 827.5 245.5 830.1 239.5 834.5 233.5 838.5 231.5 838.5 268.8ZM795.5 367.5 734.7 367.5 731.3 362.5 714.5 346.8 708.5 340.1 706.2 338.5 703.5 337.7 698.5 338.2 689.5 341.7 686.5 342.2 676.5 340.2 664.5 342.4 643.5 340.8 636.5 341.2 625.5 342.9 619.5 342.1 593.5 331.7 589.4 329.5 585.8 326.5 583.3 322.5 581.7 316.5 581.6 308.5 582.9 301.5 585.1 297.5 587.7 295.5 597.5 293.8 607.5 291.3 630.5 289.5 651.5 289.4 669.5 290.9 683.5 291.3 688.5 289.6 695.5 283.2 699.5 280.9 705.5 280.4 712.5 281.8 715.5 282.9 718.5 284.9 724.5 291.6 732.5 298.1 739.2 306.5 747.1 311.5 752.2 313.5 757.5 314.6 777.5 315.6 785.5 316.6 791.8 318.5 796.5 321.8 798.5 324.5 800.2 328.5 800.8 332.5 801.0 338.5 800.5 348.2 799.5 355.5 796.4 367.5 795.5 367.5Z"/><path fill-rule="evenodd" fill="#f1bebe" d="M733.5 90.5 724.5 91.2 719.5 91.0 715.5 90.0 705.5 85.8 678.5 83.9 672.5 81.6 664.5 77.5 662.2 75.5 660.7 72.5 759.6 72.5 759.3 78.5 758.5 82.2 756.7 85.5 754.5 87.5 751.5 89.0 747.5 90.0 733.5 90.5ZM809.5 129.7 805.5 129.2 797.5 125.6 789.5 124.3 786.5 123.1 784.4 121.5 782.3 118.5 782.1 115.5 782.9 113.5 786.5 110.5 792.5 109.1 814.5 109.3 817.5 109.8 820.5 111.1 822.5 112.9 823.8 115.5 823.9 117.5 823.1 119.5 820.5 122.5 814.6 127.5 812.5 128.8 809.5 129.7ZM838.5 267.6 833.5 265.6 830.5 262.5 829.1 258.5 828.7 252.5 829.1 247.5 830.9 242.5 834.5 237.2 838.5 234.4 838.5 267.6ZM794.5 367.5 739.6 367.5 736.5 362.5 728.5 355.3 721.5 347.6 715.5 342.5 709.9 336.5 706.5 335.0 700.5 335.4 690.5 339.0 687.5 339.6 677.5 337.6 663.5 340.3 642.5 339.2 624.5 340.5 617.5 339.4 596.9 330.5 591.8 327.5 588.5 324.8 586.0 321.5 584.3 316.5 584.0 310.5 584.9 305.5 586.5 302.1 589.5 299.5 607.5 293.9 633.5 291.2 655.5 291.4 670.5 293.4 684.5 293.5 689.5 291.9 696.5 285.4 699.5 283.6 703.5 282.9 708.5 283.6 712.5 285.2 715.5 287.2 722.5 294.5 730.5 301.2 736.4 308.5 741.3 311.5 748.5 314.1 754.5 315.3 777.5 316.3 785.5 317.2 791.5 319.0 795.5 321.7 797.8 324.5 799.6 328.5 800.4 333.5 800.4 339.5 799.9 348.5 798.9 355.5 795.2 367.5 794.5 367.5Z"/><path fill-rule="evenodd" fill="#eeb0b0" d="M726.5 88.5 718.5 88.0 707.5 83.1 695.5 81.8 685.5 78.3 675.5 77.9 669.9 75.5 667.4 72.5 758.1 72.5 757.8 77.5 756.8 81.5 754.8 84.5 752.5 86.1 749.5 87.3 745.5 88.0 726.5 88.5ZM810.5 124.7 808.5 125.1 806.5 124.7 798.5 120.3 790.5 118.6 789.1 117.5 789.0 115.5 790.5 114.2 793.5 113.4 803.5 114.1 812.5 113.6 816.2 114.5 817.6 116.5 817.2 118.5 813.8 122.5 810.5 124.7ZM838.5 266.2 834.4 264.5 831.8 261.5 830.9 258.5 830.5 252.5 831.1 247.5 832.6 243.5 835.5 239.4 838.5 237.1 838.5 266.2ZM793.5 367.5 744.5 367.5 743.2 364.5 740.9 361.5 732.5 354.7 729.4 351.5 723.5 342.5 717.5 337.5 713.5 332.0 710.5 330.5 705.5 331.1 692.5 336.1 688.5 337.1 677.5 335.3 673.5 335.8 666.5 337.9 662.5 338.3 642.5 337.7 624.5 338.4 617.5 337.3 610.1 334.5 602.1 330.5 595.5 326.5 591.5 323.3 589.1 320.5 587.3 316.5 586.8 311.5 587.5 307.5 589.1 304.5 591.5 302.5 608.5 296.2 617.5 295.2 627.5 293.3 633.5 292.9 655.5 293.1 670.5 295.5 684.5 295.6 690.5 294.0 697.5 287.8 700.5 286.1 703.5 285.7 707.5 286.3 713.0 289.5 726.4 302.5 728.8 305.5 731.9 311.5 734.5 313.6 738.5 314.6 751.5 316.3 776.5 317.0 784.5 317.7 791.1 319.5 795.5 322.5 798.2 326.5 799.4 330.5 799.7 343.5 799.1 350.5 798.0 356.5 795.5 363.6 793.9 367.5 793.5 367.5Z"/><path fill-rule="evenodd" fill="#eba0a0" d="M746.5 85.7 738.5 86.1 719.5 85.3 707.5 80.1 698.5 79.1 695.5 78.2 692.0 75.5 690.5 72.5 756.4 72.5 755.9 77.5 754.4 81.5 751.5 84.0 746.5 85.7ZM838.5 264.6 835.5 263.1 833.5 260.6 832.7 257.5 832.4 252.5 832.8 248.5 833.7 245.5 835.5 242.5 838.5 239.8 838.5 264.6ZM792.5 367.5 748.8 367.5 743.5 359.2 735.4 352.5 732.7 349.5 731.2 346.5 729.8 339.5 728.5 337.1 723.1 332.5 718.5 326.0 715.5 324.5 711.5 324.3 708.5 325.1 696.5 332.0 689.5 334.5 686.5 334.6 676.5 333.3 665.5 335.9 661.5 336.4 622.5 336.2 616.5 334.9 610.7 332.5 603.6 328.5 596.7 323.5 592.8 319.5 591.0 316.5 590.1 312.5 590.5 309.5 591.5 307.4 593.5 305.3 605.5 299.4 609.5 298.2 617.5 297.1 626.5 295.1 632.5 294.5 654.5 294.6 670.5 297.5 685.5 297.5 689.5 296.8 692.5 295.6 700.5 289.6 702.5 289.0 705.5 289.3 708.5 290.5 711.5 292.8 722.0 303.5 724.6 307.5 726.5 315.5 727.5 317.1 729.5 318.5 734.5 319.2 753.5 317.8 780.5 317.9 788.5 319.2 791.7 320.5 794.5 322.4 797.0 325.5 798.6 329.5 799.2 334.5 799.2 343.5 797.5 355.6 795.5 361.3 792.5 367.5Z"/><path fill-rule="evenodd" fill="#e89090" d="M745.5 83.6 737.5 84.1 719.5 82.4 715.5 80.9 706.5 76.2 699.3 74.5 697.1 72.5 754.4 72.5 753.9 76.5 752.5 79.8 749.5 82.3 745.5 83.6ZM838.5 262.5 836.5 261.1 835.4 259.5 834.6 256.5 834.3 252.5 835.5 246.5 838.5 242.5 838.5 262.5ZM660.5 334.5 626.5 334.6 621.5 334.1 616.5 332.7 607.0 327.5 599.7 321.5 595.2 315.5 594.5 312.5 594.8 310.5 595.8 308.5 597.9 306.5 606.5 301.5 628.5 296.4 654.5 296.2 659.5 296.8 670.5 299.3 685.5 299.3 692.5 298.2 700.5 294.1 703.5 293.5 707.5 294.7 711.5 297.6 716.5 302.5 719.7 307.5 720.6 310.5 720.6 313.5 720.1 315.5 718.8 317.5 716.5 318.6 707.5 320.5 699.1 327.5 693.5 330.9 687.5 332.3 674.5 331.5 660.5 334.5ZM790.5 367.5 752.7 367.5 744.5 355.8 736.9 347.5 735.9 344.5 734.6 335.5 729.8 328.5 729.9 326.5 731.4 325.5 737.5 324.0 747.1 320.5 757.5 318.9 782.5 318.8 788.5 319.8 792.5 321.7 795.6 324.5 798.0 329.5 798.6 334.5 798.6 343.5 797.9 350.5 796.5 356.5 793.5 363.3 790.5 367.5Z"/><path fill-rule="evenodd" fill="#e57c7c" d="M743.5 81.7 736.5 81.9 719.5 79.3 714.0 76.5 710.8 72.5 752.0 72.5 751.5 75.6 749.9 78.5 747.2 80.5 743.5 81.7ZM838.5 259.2 837.1 256.5 836.6 252.5 837.2 248.5 838.5 246.2 838.5 259.2ZM660.5 332.6 629.5 332.9 624.3 332.5 619.5 331.4 612.0 327.5 604.8 321.5 600.4 315.5 599.7 312.5 600.1 310.5 603.2 306.5 608.5 303.2 625.5 298.5 632.5 297.6 655.5 297.7 668.5 300.8 673.5 301.2 691.5 300.9 701.5 298.8 704.5 298.8 707.5 299.7 710.3 301.5 712.5 303.6 714.4 306.5 715.2 309.5 714.4 312.5 712.5 314.0 706.5 316.1 704.5 317.3 697.5 325.3 692.5 328.7 686.5 330.1 673.5 329.6 660.5 332.6ZM788.5 367.5 756.4 367.5 750.3 360.5 743.6 349.5 741.8 345.5 741.1 341.5 740.8 331.5 741.7 328.5 743.1 326.5 746.6 323.5 750.8 321.5 755.5 320.3 762.5 319.5 784.5 319.7 789.5 320.9 793.8 323.5 796.5 327.2 797.7 331.5 798.1 339.5 797.6 348.5 796.5 354.0 794.5 359.4 791.5 364.4 789.0 367.5 788.5 367.5Z"/><path fill-rule="evenodd" fill="#e26868" d="M742.5 79.5 738.5 79.9 734.5 79.3 726.5 76.5 720.5 75.0 718.5 73.9 717.3 72.5 749.1 72.5 747.5 76.6 745.5 78.3 742.5 79.5ZM660.5 330.7 653.5 331.3 631.5 331.3 625.5 330.7 621.5 329.6 615.6 326.5 608.5 320.1 605.1 314.5 605.2 310.5 607.1 307.5 611.9 304.5 625.5 300.2 631.5 299.2 655.5 299.3 669.5 302.7 691.5 303.2 703.5 304.9 706.4 306.5 706.6 308.5 702.5 312.6 697.3 321.5 694.6 324.5 691.6 326.5 685.5 328.0 671.5 327.9 660.5 330.7ZM786.5 367.5 760.4 367.5 754.2 362.5 749.1 354.5 745.7 345.5 745.3 331.5 746.2 328.5 748.3 325.5 751.0 323.5 755.5 321.7 760.5 320.8 767.5 320.3 785.5 320.5 790.5 322.1 793.8 324.5 796.3 328.5 797.2 332.5 797.4 342.5 796.8 349.5 795.5 354.8 793.5 359.5 790.5 363.8 786.5 367.5Z"/><path fill-rule="evenodd" fill="#df5252" d="M741.5 76.8 738.5 77.3 735.0 76.5 732.1 74.5 730.7 72.5 745.4 72.5 743.7 75.5 741.5 76.8ZM653.5 329.5 631.5 329.5 626.5 328.8 622.6 327.5 618.0 324.5 612.2 318.5 610.0 314.5 610.1 310.5 612.4 307.5 618.1 304.5 626.5 301.6 632.5 300.8 654.5 300.8 659.1 301.5 670.5 304.7 687.5 304.8 693.5 306.5 696.8 309.5 697.4 313.5 696.0 318.5 693.1 322.5 689.5 324.9 684.5 326.0 670.5 325.9 659.5 328.8 653.5 329.5ZM782.5 367.5 765.4 367.5 757.5 363.0 753.5 358.9 751.1 354.5 749.1 349.5 748.0 341.5 748.5 330.5 749.8 327.5 752.5 324.8 756.5 322.9 762.5 321.6 782.5 321.0 789.5 322.4 792.5 324.2 794.5 326.4 796.2 330.5 796.7 335.5 796.6 345.5 795.4 352.5 793.5 357.5 790.5 362.1 786.5 365.6 782.5 367.5Z"/><path fill-rule="evenodd" fill="#dc3c3c" d="M653.5 327.6 633.5 327.6 629.5 327.2 625.5 326.0 620.6 322.5 616.4 317.5 614.7 313.5 615.1 310.5 616.5 308.5 619.2 306.5 627.5 303.1 632.5 302.5 652.5 302.5 658.5 303.2 670.5 306.7 682.5 306.5 687.5 307.1 691.1 308.5 693.6 311.5 694.1 314.5 693.0 318.5 690.5 321.4 687.5 323.1 682.5 323.9 669.5 323.7 658.5 326.8 653.5 327.6ZM779.5 366.7 772.5 366.9 764.5 364.6 758.4 361.5 756.1 359.5 754.0 356.5 752.1 352.5 750.7 347.5 750.2 335.5 751.5 329.1 753.4 326.5 755.5 325.0 759.5 323.4 764.5 322.5 783.5 321.9 787.5 322.5 790.1 323.5 792.5 325.2 794.3 327.5 795.8 332.5 796.0 341.5 795.5 348.5 793.9 354.5 791.5 359.1 788.5 362.5 784.5 365.0 779.5 366.7Z"/><path fill-rule="evenodd" fill="#da2626" d="M651.5 325.5 634.5 325.6 630.5 324.9 627.5 323.8 624.4 321.5 620.7 316.5 619.6 313.5 619.9 310.5 621.5 308.5 623.5 307.0 629.5 304.8 653.5 304.4 658.5 305.3 669.5 309.0 685.5 309.3 688.5 310.5 690.6 313.5 690.5 316.5 689.5 318.3 687.5 320.0 685.5 320.9 681.5 321.4 672.5 320.9 667.5 321.2 656.5 324.7 651.5 325.5ZM781.5 364.5 774.5 365.0 766.5 363.3 760.0 360.5 755.9 356.5 753.9 352.5 752.7 348.5 752.0 339.5 752.8 331.5 754.3 328.5 756.5 326.4 760.5 324.5 764.5 323.7 783.5 322.7 789.5 324.1 791.6 325.5 793.3 327.5 794.8 331.5 795.2 336.5 794.9 346.5 793.6 352.5 791.5 357.2 788.9 360.5 785.5 363.0 781.5 364.5Z"/><path fill-rule="evenodd" fill="#d81010" d="M647.5 323.5 636.5 323.4 630.2 321.5 627.5 319.2 625.2 315.5 624.6 312.5 625.2 310.5 627.5 308.3 632.5 306.8 652.5 306.7 657.5 307.8 665.5 312.2 670.5 314.1 674.5 314.3 681.5 313.2 683.6 313.5 684.7 314.5 684.5 315.8 682.5 316.9 679.5 316.9 672.5 315.8 665.5 317.0 653.5 322.5 647.5 323.5ZM782.5 362.7 776.5 363.4 768.5 362.0 761.5 359.3 757.4 355.5 755.8 352.5 754.5 348.5 753.9 339.5 755.0 331.5 756.1 329.5 758.0 327.5 761.5 325.8 765.5 324.9 783.5 323.7 788.5 324.6 792.2 327.5 793.7 330.5 794.2 334.5 794.1 344.5 793.2 350.5 791.5 355.0 789.2 358.5 786.5 360.9 782.5 362.7Z"/><path fill-rule="evenodd" fill="#cc0808" d="M648.5 320.6 640.5 321.1 634.5 319.6 631.2 316.5 630.5 314.5 630.6 312.5 632.5 310.5 637.5 309.3 648.5 309.4 653.3 310.5 655.3 312.5 655.2 315.5 652.9 318.5 648.5 320.6ZM781.5 361.5 775.5 361.7 767.5 359.7 761.5 356.8 758.5 353.6 757.0 350.5 756.1 346.5 755.9 337.5 757.3 331.5 760.5 328.1 766.5 326.2 783.5 324.7 788.5 325.7 791.7 328.5 792.9 331.5 793.2 335.5 793.0 345.5 792.1 350.5 790.5 354.4 788.4 357.5 785.5 359.9 781.5 361.5Z"/><path fill-rule="evenodd" fill="#c00000" d="M643.5 316.5 640.5 315.8 640.1 315.5 640.3 314.5 642.5 313.9 645.4 314.5 645.6 315.5 643.5 316.5ZM782.5 359.7 777.5 360.2 771.5 359.0 764.5 356.0 760.5 352.4 758.2 346.5 758.0 338.5 759.5 332.5 762.4 329.5 767.5 327.8 783.5 325.9 787.5 326.5 790.5 328.9 791.7 331.5 792.0 334.5 791.8 344.5 791.1 349.5 789.5 353.5 787.5 356.4 785.5 358.2 782.5 359.7Z"/><path fill-rule="evenodd" fill="#a00000" d="M782.5 357.8 778.5 358.5 773.4 357.5 767.3 354.5 762.8 350.5 760.9 345.5 760.6 339.5 761.8 334.5 764.3 331.5 768.5 329.8 783.5 327.3 787.5 328.2 789.5 330.1 790.6 334.5 789.7 348.5 788.5 352.0 786.9 354.5 784.9 356.5 782.5 357.8Z"/><path fill-rule="evenodd" fill="#800000" d="M781.5 355.9 778.5 356.3 775.5 355.7 772.5 354.3 768.8 351.5 765.4 346.5 764.7 343.5 764.7 339.5 766.0 335.5 769.5 332.6 780.5 329.6 784.5 329.3 787.2 330.5 788.5 333.4 788.2 345.5 787.3 349.5 785.8 352.5 784.0 354.5 781.5 355.9Z"/><path fill-rule="evenodd" fill="#540000" d="M781.5 352.5 779.5 353.2 777.5 353.0 773.5 350.8 770.6 346.5 769.7 341.5 770.5 338.1 772.5 335.4 776.5 333.4 782.5 332.3 784.5 333.0 785.4 334.5 785.5 343.5 784.5 348.9 783.5 350.7 781.5 352.5Z"/><path fill-rule="evenodd" fill="#280000" d="M779.5 345.6 778.5 346.1 777.5 345.9 776.0 343.5 776.3 340.5 778.5 338.9 779.8 339.5 780.5 341.5 780.4 343.5 779.5 345.6Z"/><path fill-rule="evenodd" fill="#f2f2fe" d="M557.5 81.5 552.5 82.4 543.5 82.0 543.5 72.5 563.9 72.5 563.3 75.5 561.8 78.5 559.6 80.5 557.5 81.5ZM815.5 98.5 803.5 99.4 788.5 98.6 778.5 99.0 774.5 98.5 771.8 97.5 769.4 95.5 767.5 91.2 766.7 84.5 766.4 72.5 838.5 72.5 838.5 84.8 835.3 89.5 832.0 92.5 826.9 95.5 821.5 97.4 815.5 98.5ZM750.5 144.5 724.5 144.1 681.5 144.7 662.5 143.4 656.5 141.8 648.5 136.3 643.5 134.3 639.5 133.8 630.5 134.8 626.5 134.2 622.2 131.5 620.9 129.5 619.8 126.5 619.5 119.5 621.2 109.5 622.7 105.5 625.5 102.2 629.5 100.4 635.5 99.5 652.5 99.2 664.5 99.6 672.5 98.5 677.5 98.4 704.5 103.4 720.5 101.0 754.5 100.0 760.0 100.5 762.2 101.5 764.1 103.5 765.5 106.7 766.4 111.5 766.5 121.7 764.3 135.5 762.8 139.5 760.5 141.9 756.5 143.7 750.5 144.5ZM822.5 181.8 819.5 180.9 814.0 174.5 811.5 172.5 802.7 168.5 798.9 165.5 798.0 163.5 797.6 160.5 798.0 153.5 799.7 149.5 803.5 146.2 809.5 144.4 817.5 144.1 821.5 145.1 823.9 147.5 825.0 152.5 825.9 174.5 825.0 179.5 823.5 181.4 822.5 181.8ZM792.5 182.7 789.5 183.3 785.9 182.5 783.2 180.5 781.7 177.5 780.9 172.5 781.3 167.5 782.7 164.5 785.5 162.6 787.5 162.5 790.5 163.6 792.8 165.5 794.5 168.5 795.0 172.5 794.8 177.5 794.1 180.5 792.5 182.7ZM838.5 191.6 835.9 188.5 835.1 184.5 835.7 180.5 838.5 176.5 838.5 191.6ZM838.5 367.5 800.5 367.5 802.4 351.5 803.1 333.5 802.0 326.5 800.6 323.5 798.5 320.5 793.5 316.7 787.5 314.5 778.5 312.8 763.5 311.4 757.5 310.1 751.5 306.9 745.5 301.5 743.1 297.5 742.2 293.5 742.7 289.5 745.1 285.5 755.8 276.5 759.5 275.0 767.5 273.2 771.5 271.0 781.4 261.5 783.1 258.5 783.1 256.5 782.1 254.5 779.6 252.5 774.5 251.0 769.5 251.3 757.5 254.0 752.5 254.5 733.5 254.0 729.5 253.2 726.5 251.8 723.8 249.5 722.0 246.5 720.8 242.5 720.5 238.5 720.7 232.5 721.6 228.5 722.9 225.5 725.5 222.6 728.5 220.9 731.5 220.1 744.5 219.4 748.5 218.4 751.5 216.4 764.5 203.4 768.5 201.2 771.5 200.4 774.5 200.5 782.5 202.9 788.5 203.3 793.5 202.3 799.5 199.1 802.5 198.1 807.5 197.9 814.5 198.6 818.5 199.7 821.4 201.5 830.2 210.5 831.6 213.5 831.0 216.5 816.2 236.5 814.8 239.5 814.5 241.5 815.2 244.5 818.5 251.2 822.3 261.5 824.5 265.3 826.7 267.5 829.7 269.5 838.5 272.9 838.5 367.5ZM544.5 233.6 543.5 233.7 543.5 220.3 546.5 220.7 549.5 221.9 551.3 223.5 552.2 226.5 551.8 229.5 550.4 231.5 548.5 232.6 544.5 233.6ZM545.5 312.6 543.5 313.1 543.5 269.5 553.5 269.2 556.5 270.3 558.5 271.7 562.1 275.5 564.0 278.5 565.4 284.5 564.9 293.5 563.7 297.5 561.5 300.8 548.5 311.0 545.5 312.6ZM634.5 279.5 623.5 279.4 617.9 278.5 614.5 276.5 613.8 275.5 613.5 273.5 614.5 271.9 616.5 270.7 621.5 269.8 636.5 270.2 639.5 270.9 641.5 272.2 642.5 274.5 641.5 276.8 639.1 278.5 634.5 279.5ZM567.5 365.6 564.5 365.3 561.5 363.5 559.7 360.5 559.0 356.5 559.3 345.5 558.4 319.5 559.3 315.5 560.5 313.1 562.5 311.1 564.5 310.3 567.5 310.9 570.5 314.0 572.0 318.5 573.2 328.5 574.5 333.5 576.8 337.5 582.9 344.5 584.4 348.5 584.0 350.5 582.8 352.5 573.5 362.2 570.5 364.6 567.5 365.6ZM606.5 364.6 601.5 365.2 597.5 364.8 594.3 363.5 591.5 360.7 589.8 356.5 589.4 351.5 590.6 348.5 593.6 345.5 598.5 343.8 604.5 344.4 609.5 346.5 613.6 350.5 615.1 354.5 614.5 358.6 611.5 362.2 606.5 364.6ZM703.5 367.5 658.5 367.4 654.5 365.6 652.4 363.5 651.0 360.5 650.6 356.5 651.4 354.5 652.5 353.6 655.5 352.6 670.5 352.1 684.5 353.2 688.5 352.3 695.5 348.7 698.5 348.2 700.5 349.2 701.8 351.5 702.5 362.5 703.5 367.5Z"/><path fill-rule="evenodd" fill="#e6e6fc" d="M805.5 97.5 780.5 96.2 777.3 95.5 774.5 94.1 771.5 91.3 769.2 86.5 768.2 80.5 767.9 72.5 838.1 72.5 836.2 77.5 832.6 84.5 829.5 88.3 825.8 91.5 821.5 94.3 817.5 95.8 805.5 97.5ZM741.5 139.5 706.5 139.7 677.5 138.8 672.9 137.5 665.5 134.1 656.5 132.6 641.5 125.9 637.5 125.8 631.5 127.3 628.5 126.8 627.1 125.5 626.2 123.5 626.4 117.5 627.9 112.5 630.4 108.5 633.5 106.3 638.5 105.0 663.5 104.9 667.5 104.0 674.1 101.5 678.5 100.9 686.5 101.9 698.5 105.4 702.5 106.0 706.5 105.7 716.5 103.3 721.5 102.8 747.5 102.3 752.5 102.6 756.1 103.5 760.3 106.5 763.2 111.5 764.0 117.5 762.5 124.2 757.7 133.5 755.0 136.5 749.5 138.8 741.5 139.5ZM818.5 169.9 815.5 170.0 808.5 167.6 805.5 165.9 803.3 163.5 801.9 159.5 802.0 155.5 803.6 151.5 806.5 149.0 810.5 147.8 814.5 148.1 817.4 149.5 818.9 151.5 820.1 155.5 820.4 162.5 819.9 167.5 818.5 169.9ZM838.5 367.5 801.5 367.5 802.9 351.5 803.7 333.5 802.6 326.5 799.5 320.8 794.5 316.6 788.5 314.2 777.5 311.9 762.5 310.2 757.5 308.9 752.0 305.5 746.8 300.5 745.1 297.5 744.3 293.5 744.9 290.5 746.7 287.5 750.5 284.0 757.5 278.8 769.5 275.0 773.5 272.6 784.5 262.1 786.4 258.5 786.4 255.5 785.4 253.5 782.5 250.9 779.5 249.2 775.5 248.1 771.5 247.9 759.5 249.3 752.5 249.6 738.5 249.2 731.9 247.5 729.5 245.9 727.6 243.5 726.3 238.5 726.4 234.5 727.2 231.5 730.2 227.5 735.5 225.3 748.5 224.5 754.5 223.1 759.4 220.5 764.7 213.5 768.5 210.6 771.5 209.8 778.5 209.4 792.5 206.5 804.5 201.5 810.5 201.4 815.5 203.0 819.5 205.9 823.7 210.5 825.8 214.5 825.3 218.5 820.5 225.8 812.0 235.5 810.1 239.5 809.9 242.5 811.4 245.5 816.5 251.7 821.4 262.5 824.1 266.5 829.5 270.4 838.5 273.9 838.5 367.5ZM544.5 302.5 543.5 302.8 543.5 274.4 551.5 274.6 555.5 276.7 558.4 280.5 559.8 285.5 559.6 290.5 558.5 293.5 555.5 296.8 549.5 300.4 544.5 302.5ZM570.5 355.5 568.5 356.4 567.5 356.3 566.5 355.3 566.0 353.5 566.3 330.5 565.4 323.5 565.5 322.1 566.5 321.0 567.5 322.7 568.0 332.5 569.9 336.5 575.5 343.5 576.9 346.5 576.8 348.5 575.8 350.5 570.5 355.5ZM602.5 358.5 598.5 357.3 597.1 355.5 596.5 353.5 596.7 351.5 597.5 349.7 600.5 347.9 602.5 347.7 605.5 348.5 608.2 350.5 609.1 352.5 609.1 354.5 607.8 356.5 605.5 357.9 602.5 358.5ZM694.5 362.5 691.5 362.9 683.5 362.1 662.5 361.7 659.7 360.5 659.2 358.5 660.5 357.3 664.5 356.6 684.5 357.7 688.5 356.8 695.5 354.1 696.6 354.5 697.2 357.5 696.4 360.5 694.5 362.5Z"/><path fill-rule="evenodd" fill="#dbdbfa" d="M806.5 95.5 799.5 95.5 785.5 94.3 780.9 93.5 777.5 92.1 773.5 88.7 771.1 84.5 769.9 79.5 769.5 72.5 832.7 72.5 832.1 76.5 830.5 80.8 828.0 84.5 824.5 88.0 820.1 91.5 816.4 93.5 811.5 94.9 806.5 95.5ZM742.5 135.6 721.5 136.3 704.5 134.4 684.5 135.0 679.2 134.5 674.5 132.2 669.5 127.2 662.6 121.5 661.0 118.5 661.0 114.5 662.0 112.5 664.3 110.5 674.5 104.9 679.5 103.6 687.0 104.5 696.5 108.2 700.5 108.9 705.5 108.3 716.5 105.3 721.5 104.6 744.5 104.2 752.5 105.4 756.5 107.7 759.7 111.5 761.0 115.5 760.4 120.5 757.5 125.5 751.5 132.1 747.5 134.4 742.5 135.6ZM811.5 164.5 809.5 164.1 807.1 162.5 805.8 160.5 805.4 158.5 805.5 156.5 806.5 154.2 808.5 152.5 810.5 152.0 812.5 152.4 814.1 153.5 815.8 157.5 815.7 160.5 815.1 162.5 813.5 164.1 811.5 164.5ZM838.5 367.5 802.5 367.5 804.2 332.5 802.9 325.5 800.1 320.5 795.5 316.5 789.5 313.8 778.5 311.3 763.5 309.3 758.5 307.9 752.0 303.5 749.1 300.5 747.2 297.5 746.5 294.5 746.7 292.5 748.2 289.5 750.1 287.5 759.5 280.8 769.5 277.4 773.5 275.4 785.5 264.4 787.7 261.5 789.3 257.5 789.3 254.5 788.4 252.5 786.5 250.4 782.5 247.7 775.5 244.8 743.5 245.1 736.5 244.1 732.7 241.5 731.4 238.5 731.6 234.5 733.6 231.5 736.5 229.9 740.5 229.1 762.5 229.1 766.5 228.3 769.1 226.5 774.5 220.9 777.5 219.9 784.5 219.5 787.0 218.5 793.8 211.5 801.5 206.2 805.5 204.5 809.5 204.2 812.5 205.0 816.5 207.4 819.4 210.5 821.8 215.5 821.2 219.5 818.0 224.5 811.7 230.5 809.3 233.5 806.5 239.5 806.1 243.5 807.9 246.5 812.5 250.1 815.5 253.5 820.6 263.5 823.7 267.5 829.5 271.3 838.5 274.8 838.5 367.5ZM546.5 294.7 543.5 295.1 543.5 279.0 547.5 279.3 550.8 280.5 553.0 282.5 554.3 285.5 554.2 288.5 552.7 291.5 550.0 293.5 546.5 294.7Z"/><path fill-rule="evenodd" fill="#d0d0f8" d="M810.5 92.7 803.5 93.5 793.5 93.0 785.5 92.0 780.5 90.3 776.5 87.4 773.5 83.4 771.9 78.5 771.4 72.5 829.5 72.5 828.2 78.5 825.5 82.6 817.5 89.6 814.2 91.5 810.5 92.7ZM727.5 133.5 717.5 133.1 703.5 129.2 681.5 129.4 677.8 127.5 670.5 120.2 668.8 117.5 668.9 115.5 670.3 113.5 675.6 109.5 678.5 108.0 681.5 107.4 687.3 108.5 693.5 112.0 696.5 113.0 701.5 112.3 718.5 107.1 739.5 106.2 745.5 106.4 749.5 107.2 752.5 108.6 755.7 111.5 757.6 115.5 757.1 119.5 754.4 123.5 748.5 129.2 744.5 131.5 740.5 132.6 727.5 133.5ZM838.5 367.5 803.5 367.5 804.8 332.5 803.8 326.5 800.8 320.5 796.5 316.4 790.5 313.5 780.5 310.9 764.5 308.3 759.5 306.9 754.5 303.5 751.6 300.5 749.6 297.5 749.2 293.5 750.1 291.5 752.0 289.5 761.5 283.0 774.5 277.4 777.5 275.1 786.5 266.2 789.5 262.3 791.7 257.5 792.4 253.5 791.3 250.5 778.5 241.6 774.5 239.6 771.5 239.1 763.5 239.5 754.5 238.8 742.5 239.4 739.5 238.0 739.2 236.5 739.8 235.5 743.5 234.4 761.5 235.5 768.5 234.9 771.5 233.1 777.7 226.5 786.5 224.4 790.1 222.5 793.3 219.5 800.1 211.5 804.5 208.1 807.5 207.2 810.5 207.4 813.5 208.9 816.3 211.5 818.1 215.5 817.6 219.5 815.7 222.5 809.5 228.3 807.1 231.5 803.4 239.5 802.3 244.5 803.0 246.5 804.0 247.5 810.5 251.1 813.5 253.7 815.6 256.5 819.9 264.5 823.3 268.5 828.5 271.8 838.5 275.8 838.5 367.5ZM544.5 287.5 543.5 288.0 543.5 285.5 544.8 286.5 544.5 287.5Z"/><path fill-rule="evenodd" fill="#c2c2f7" d="M808.5 90.6 802.5 91.1 792.5 90.6 787.5 89.9 783.3 88.5 779.1 85.5 775.9 81.5 774.3 77.5 773.7 72.5 826.8 72.5 825.6 77.5 822.5 81.8 814.5 88.1 808.5 90.6ZM735.5 130.6 722.5 130.7 716.0 129.5 703.5 123.3 701.8 121.5 701.6 118.5 703.9 115.5 707.2 113.5 713.5 111.2 719.5 109.8 741.5 108.3 746.5 109.0 750.5 111.0 752.7 113.5 753.6 116.5 753.2 118.5 751.4 121.5 747.6 125.5 744.5 127.9 740.5 129.7 735.5 130.6ZM794.5 245.7 789.5 244.8 784.6 241.5 783.0 239.5 781.5 236.5 781.3 234.5 781.9 232.5 784.0 230.5 790.5 226.8 794.5 223.6 804.5 212.3 807.5 210.9 810.5 211.2 812.4 212.5 813.8 214.5 814.2 216.5 813.9 218.5 812.5 220.7 805.7 227.5 798.5 242.2 796.5 244.7 794.5 245.7ZM838.5 367.5 804.6 367.5 805.4 331.5 804.2 325.5 801.5 320.3 797.5 316.3 791.5 313.2 778.5 309.6 764.5 307.0 760.5 305.6 756.2 302.5 752.7 297.5 752.5 294.5 754.7 291.5 764.5 284.7 775.5 279.4 780.3 275.5 789.5 265.4 796.5 252.8 798.5 250.9 800.5 250.5 804.5 250.9 810.5 253.3 813.8 256.5 819.2 265.5 822.5 269.2 827.5 272.3 838.5 276.8 838.5 367.5Z"/><path fill-rule="evenodd" fill="#b4b4f6" d="M803.5 88.6 791.5 88.1 787.5 87.2 784.5 85.8 781.5 83.3 778.7 79.5 777.5 76.5 776.9 72.5 824.2 72.5 822.6 77.5 818.5 81.9 810.5 87.0 803.5 88.6ZM736.5 127.6 729.2 127.5 718.5 125.9 715.5 124.5 711.2 121.5 709.8 119.5 709.7 118.5 711.4 116.5 713.6 115.5 724.5 114.0 735.5 110.9 741.5 110.8 746.5 112.5 748.3 114.5 748.9 116.5 747.6 120.5 745.1 123.5 742.6 125.5 739.5 127.0 736.5 127.6ZM792.5 239.7 791.1 239.5 789.5 238.5 788.7 236.5 789.3 234.5 793.5 230.7 797.5 228.9 798.4 229.5 798.6 230.5 797.5 234.9 795.5 238.0 792.5 239.7ZM838.5 367.5 805.7 367.5 805.3 351.5 806.0 331.5 804.9 325.5 802.4 320.5 798.5 316.2 792.5 312.8 762.4 304.5 758.7 301.5 757.1 298.5 756.9 296.5 757.8 294.5 763.0 289.5 767.5 286.2 777.5 280.7 781.3 277.5 789.5 268.1 797.5 256.1 799.5 254.3 801.5 253.4 805.5 253.3 809.5 254.7 812.7 257.5 818.5 266.4 821.5 269.7 826.5 272.8 838.5 277.9 838.5 367.5Z"/><path fill-rule="evenodd" fill="#a2a2f5" d="M806.5 85.5 796.5 86.1 791.5 85.5 788.4 84.5 785.5 82.5 783.2 79.5 781.9 76.5 781.3 72.5 821.5 72.5 820.1 76.5 817.4 79.5 811.5 83.6 806.5 85.5ZM738.5 123.8 735.5 124.2 733.5 123.9 731.5 122.9 730.4 121.5 730.1 119.5 730.9 117.5 734.6 114.5 737.5 113.8 740.5 113.9 742.5 114.9 743.8 116.5 743.8 118.5 742.9 120.5 741.0 122.5 738.5 123.8ZM838.5 367.5 806.9 367.5 805.9 351.5 806.7 331.5 805.6 325.5 803.2 320.5 799.9 316.5 795.5 313.4 789.5 311.1 767.5 304.4 763.9 302.5 761.8 299.5 762.2 296.5 765.8 291.5 769.5 288.3 778.5 282.8 781.5 280.4 790.5 269.5 797.5 259.1 799.5 257.1 802.5 255.5 806.5 255.4 809.5 256.7 812.5 259.5 817.9 267.5 821.5 271.0 825.8 273.5 838.5 279.0 838.5 367.5Z"/><path fill-rule="evenodd" fill="#9090f4" d="M803.5 83.6 796.5 83.8 790.5 82.2 788.3 80.5 786.9 78.5 785.5 72.5 818.5 72.5 816.5 76.5 813.5 79.3 808.5 82.2 803.5 83.6ZM838.5 367.5 808.3 367.5 806.6 351.5 807.4 330.5 806.3 325.5 804.1 320.5 800.5 316.0 796.5 313.1 771.1 303.5 768.0 301.5 766.7 299.5 767.0 296.5 769.6 292.5 772.8 289.5 782.6 282.5 790.5 272.4 797.8 261.5 800.5 258.8 802.5 257.7 805.5 257.2 809.1 258.5 811.5 260.6 817.2 268.5 820.5 271.6 824.5 274.0 838.5 280.1 838.5 367.5Z"/><path fill-rule="evenodd" fill="#7a7af5" d="M801.5 81.6 795.5 81.3 791.7 79.5 789.6 76.5 788.8 72.5 814.6 72.5 813.1 75.5 809.8 78.5 806.1 80.5 801.5 81.6ZM838.5 367.5 810.0 367.5 807.3 351.5 808.1 329.5 806.8 324.5 804.9 320.5 801.5 315.9 797.5 312.8 777.5 304.5 773.0 301.5 771.7 299.5 771.8 296.5 773.6 293.5 784.2 284.5 798.5 263.4 800.5 261.3 803.5 259.6 806.5 259.4 809.5 261.0 816.4 269.5 820.5 273.0 838.5 281.4 838.5 367.5Z"/><path fill-rule="evenodd" fill="#6464f6" d="M803.5 78.8 799.5 79.4 795.3 78.5 792.9 76.5 791.6 72.5 810.1 72.5 807.5 76.5 803.5 78.8ZM838.5 367.5 837.5 367.5 835.6 364.5 833.5 362.5 831.5 361.3 829.5 360.9 827.5 361.3 825.5 362.5 821.4 367.5 812.7 367.5 808.5 354.2 808.1 346.5 809.1 330.5 808.1 325.5 805.9 320.5 803.1 316.5 799.5 313.1 795.5 310.7 780.9 304.5 778.3 302.5 776.4 299.5 776.4 297.5 777.5 295.2 785.5 287.3 798.5 266.4 801.0 263.5 803.5 261.9 806.5 261.7 808.5 262.6 816.5 271.5 820.5 274.5 838.5 282.7 838.5 367.5Z"/><path fill-rule="evenodd" fill="#4a4af8" d="M800.5 76.6 798.5 76.5 796.5 75.6 794.6 72.5 805.6 72.5 803.5 75.4 800.5 76.6ZM818.5 362.6 815.5 363.1 813.5 361.8 811.5 359.1 809.7 354.5 809.0 347.5 810.1 330.5 809.1 325.5 806.3 319.5 803.5 315.6 800.5 312.7 796.5 310.1 784.2 304.5 781.9 302.5 780.6 299.5 781.7 296.5 787.6 289.5 792.2 280.5 799.4 268.5 802.1 265.5 804.5 264.3 806.5 264.3 808.5 265.3 815.5 272.6 819.5 275.6 838.5 284.2 838.5 361.6 832.5 357.0 828.5 356.0 825.5 357.2 818.5 362.6Z"/><path fill-rule="evenodd" fill="#3030fa" d="M816.5 358.5 814.5 358.2 812.5 356.6 810.5 351.9 810.1 345.5 811.4 330.5 810.3 325.5 808.1 320.5 804.8 315.5 801.5 312.1 797.5 309.4 787.7 304.5 785.6 302.5 784.9 300.5 785.3 298.5 789.5 292.3 793.8 282.5 799.6 272.5 802.5 268.6 805.5 267.3 808.5 268.4 814.9 274.5 818.5 277.1 838.5 285.8 838.5 357.0 832.5 352.4 828.5 351.1 825.5 352.1 819.5 357.1 816.5 358.5Z"/><path fill-rule="evenodd" fill="#1c1cf5" d="M817.5 353.8 814.5 354.1 812.9 352.5 812.0 350.5 811.6 345.5 813.1 330.5 812.3 326.5 810.0 321.5 807.0 316.5 803.5 312.3 799.5 309.1 791.5 304.5 789.2 301.5 789.3 299.5 792.6 293.5 796.5 283.0 802.5 273.5 805.5 271.3 808.5 272.1 817.5 279.3 827.5 282.8 838.5 287.7 838.5 352.4 831.5 346.6 827.5 345.9 824.0 347.5 817.5 353.8Z"/><path fill-rule="evenodd" fill="#0808f0" d="M816.5 347.1 815.5 347.0 814.7 344.5 816.2 332.5 815.8 329.5 814.2 325.5 806.5 313.5 802.5 309.4 795.1 303.5 794.0 301.5 794.2 299.5 798.7 286.5 803.5 279.9 806.5 277.7 808.5 278.0 815.5 282.9 827.5 285.5 838.5 289.7 838.5 345.8 833.5 341.3 830.5 340.3 826.5 340.0 822.1 341.5 816.5 347.1Z"/><path fill-rule="evenodd" fill="#0404d8" d="M833.5 333.9 828.5 334.1 825.5 333.1 823.5 331.8 814.5 321.2 807.3 311.5 800.6 304.5 799.5 302.5 799.3 299.5 801.4 293.5 803.5 290.8 807.5 289.4 825.5 288.3 830.5 289.2 838.5 291.9 838.5 329.4 835.9 332.5 833.5 333.9Z"/><path fill-rule="evenodd" fill="#0000c0" d="M830.5 328.5 828.5 328.3 826.5 327.4 818.8 320.5 815.1 316.5 806.7 305.5 805.5 303.5 805.1 301.5 805.5 299.4 807.5 297.0 822.5 292.2 826.5 291.4 831.5 291.9 838.5 294.3 838.5 322.0 833.5 327.2 830.5 328.5Z"/><path fill-rule="evenodd" fill="#00009c" d="M831.5 322.8 829.5 323.1 827.5 322.6 823.4 319.5 819.6 314.5 818.3 309.5 818.1 303.5 819.4 299.5 822.5 296.2 827.5 294.2 832.5 294.5 838.5 297.1 838.5 317.5 831.5 322.8Z"/><path fill-rule="evenodd" fill="#000078" d="M832.5 317.8 829.5 318.3 826.5 317.0 823.6 313.5 822.4 309.5 822.2 305.5 823.0 301.5 825.2 298.5 828.5 296.9 830.5 296.8 833.5 297.5 838.5 300.5 838.5 313.4 832.5 317.8Z"/><path fill-rule="evenodd" fill="#000054" d="M832.5 313.5 830.5 313.9 828.5 313.3 826.8 311.5 825.7 308.5 825.6 305.5 826.5 302.5 827.5 301.2 829.5 300.1 832.5 300.3 834.5 301.4 836.4 303.5 837.4 305.5 837.5 307.5 836.8 309.5 834.5 312.2 832.5 313.5Z"/></g><g clip-path="url(#clipc)"><path fill-rule="evenodd" fill="#ffffe4" d="M99.5 702.6 97.5 702.7 95.6 700.5 93.8 691.5 93.9 667.5 95.0 647.5 93.7 629.5 93.7 617.5 92.6 614.5 90.5 613.2 90.5 550.5 115.3 550.5 115.2 561.5 117.3 580.5 117.3 587.5 116.5 592.2 114.0 600.5 112.7 610.5 108.7 617.5 107.7 623.5 108.7 630.5 112.9 639.5 112.7 655.5 110.2 666.5 109.3 686.5 108.6 690.5 107.3 693.5 104.5 697.8 101.5 701.2 99.5 702.6ZM135.5 641.7 129.5 641.9 123.5 641.1 119.2 639.5 117.1 637.5 116.5 634.5 116.7 625.5 115.4 615.5 115.6 613.5 116.5 612.2 119.5 611.0 123.5 610.4 140.5 610.5 144.5 611.4 147.1 612.5 149.6 614.5 151.1 616.5 152.8 620.5 153.4 624.5 153.1 628.5 152.1 631.5 149.5 634.5 144.1 638.5 139.5 640.7 135.5 641.7ZM343.5 845.5 106.0 845.5 105.8 819.5 108.3 808.5 108.8 803.5 110.2 741.5 109.9 728.5 110.6 724.5 113.4 716.5 114.2 712.5 114.2 698.5 113.2 688.5 113.8 670.5 114.8 663.5 116.4 660.5 120.5 658.2 125.5 657.4 135.5 657.8 149.5 657.1 230.5 657.2 255.5 658.1 267.5 659.4 282.5 659.0 297.5 661.6 316.5 661.7 326.5 658.9 334.5 658.2 337.3 656.5 338.5 654.5 339.1 651.5 338.7 639.5 339.5 633.5 341.5 630.2 345.5 628.5 380.5 628.3 391.5 630.2 398.5 630.5 503.5 630.7 503.5 711.2 398.5 711.4 395.5 711.0 392.5 709.5 387.3 703.5 383.5 701.3 380.5 700.9 367.5 701.2 364.5 702.0 362.4 703.5 360.9 706.5 360.5 709.5 361.0 719.5 360.8 780.5 361.3 793.5 359.5 797.8 353.4 802.5 351.3 805.5 350.6 809.5 351.0 827.5 350.5 834.5 348.6 839.5 343.5 845.5Z"/><path fill-rule="evenodd" fill="#ffffc0" d="M102.5 693.5 100.5 694.4 99.5 694.0 98.5 692.3 98.0 689.5 98.2 665.5 99.8 650.5 98.0 628.5 98.1 616.5 97.4 612.5 95.7 609.5 93.5 607.9 90.5 607.3 90.5 567.5 93.5 568.5 96.5 570.6 98.5 570.5 100.5 567.4 102.4 561.5 102.4 550.5 113.0 550.5 113.1 560.5 116.5 578.5 116.7 586.5 115.5 592.5 110.9 601.5 107.0 610.5 104.7 618.5 104.6 627.5 107.2 641.5 107.8 650.5 105.4 666.5 104.5 688.5 103.8 691.5 102.5 693.5ZM137.5 639.7 132.5 640.5 126.5 639.9 122.5 638.2 120.0 635.5 118.8 631.5 117.6 617.5 118.3 614.5 120.3 612.5 126.5 611.1 140.5 611.5 145.5 613.0 147.7 614.5 149.4 616.5 150.5 619.5 150.7 622.5 149.9 626.5 148.3 630.5 146.3 633.5 143.4 636.5 140.5 638.5 137.5 639.7ZM491.5 682.5 480.5 682.9 397.5 682.6 392.5 681.0 386.5 674.4 382.5 672.4 358.5 672.9 353.5 672.2 351.5 671.2 349.5 669.2 348.4 666.5 348.2 663.5 349.8 659.5 356.3 655.5 357.8 653.5 358.5 650.5 358.3 643.5 359.2 640.5 361.5 638.6 365.0 637.5 370.5 637.0 381.5 637.7 390.5 635.0 396.5 634.3 503.5 633.8 503.5 682.3 491.5 682.5ZM337.5 845.5 108.7 845.5 107.9 827.5 108.3 821.5 110.2 811.5 110.8 805.5 111.8 741.5 111.5 728.5 112.1 724.5 115.2 713.5 115.6 689.5 116.8 669.5 117.8 664.5 119.5 661.6 122.5 659.7 125.5 659.0 137.5 659.2 149.5 658.6 231.5 658.7 254.5 659.4 267.5 661.1 282.5 660.8 287.2 661.5 296.5 664.0 305.5 664.6 310.5 666.0 313.2 668.5 313.4 670.5 312.6 673.5 313.1 675.5 315.1 677.5 317.5 678.8 320.5 679.1 326.5 677.9 331.5 677.7 336.5 678.7 339.5 680.4 341.1 682.5 341.8 684.5 342.1 691.5 342.8 694.5 344.5 696.7 350.6 700.5 351.9 702.5 352.7 705.5 352.7 786.5 352.5 788.6 351.5 790.8 349.5 791.9 344.5 793.3 343.1 794.5 342.1 796.5 341.9 799.5 342.8 808.5 343.0 831.5 342.1 835.5 337.5 845.5Z"/><path fill-rule="evenodd" fill="#ffff90" d="M109.5 596.6 105.5 595.6 102.1 592.5 99.7 588.5 98.6 583.5 99.6 578.5 105.5 567.6 107.5 565.1 109.5 564.3 111.5 565.0 113.4 568.5 115.5 577.2 116.1 583.5 115.7 588.5 114.5 592.3 112.5 595.2 109.5 596.6ZM136.5 638.6 132.5 639.2 127.5 638.5 124.5 637.2 121.8 634.5 120.1 629.5 119.0 619.5 119.7 615.5 121.5 613.5 123.8 612.5 127.5 611.9 139.5 612.4 144.5 613.8 147.5 616.5 148.4 618.5 148.7 621.5 147.8 625.5 146.2 629.5 142.0 635.5 139.5 637.3 136.5 638.6ZM483.5 662.6 449.5 662.8 445.5 662.5 442.5 661.6 439.5 659.4 437.6 655.5 437.1 647.5 437.9 640.5 440.5 638.2 447.5 637.0 494.5 636.8 499.5 637.2 503.5 638.2 503.5 647.4 495.4 653.5 489.0 660.5 486.5 661.9 483.5 662.6ZM304.5 845.5 111.1 845.5 109.9 836.5 109.6 829.5 110.0 823.5 112.5 808.5 112.7 728.5 116.2 712.5 117.0 690.5 118.5 669.5 119.4 665.5 121.3 662.5 124.5 660.7 128.5 660.2 230.5 660.1 252.5 660.6 267.5 662.8 279.5 662.6 284.5 663.0 289.8 664.5 300.9 669.5 304.3 676.5 310.3 682.5 312.4 685.5 313.4 689.5 312.5 699.5 313.1 703.5 314.5 705.9 319.5 709.8 321.5 712.1 322.8 715.5 323.2 719.5 323.0 783.5 321.0 788.5 315.0 793.5 313.1 796.5 312.6 800.5 313.1 811.5 311.9 835.5 310.0 840.5 304.5 845.5Z"/><path fill-rule="evenodd" fill="#ffff60" d="M110.5 593.8 107.5 593.4 104.5 591.0 102.4 587.5 101.5 583.5 101.8 580.5 103.4 576.5 107.5 570.7 109.5 569.3 111.5 570.3 113.5 574.2 114.5 577.5 115.2 582.5 114.9 587.5 114.0 590.5 112.5 592.8 110.5 593.8ZM134.5 637.7 130.5 637.7 127.5 637.0 124.5 635.2 122.5 632.5 121.0 627.5 120.2 619.5 121.4 615.5 123.5 613.8 129.5 612.7 139.5 613.4 143.5 614.7 146.2 617.5 146.9 620.5 146.4 623.5 143.1 631.5 139.5 635.6 134.5 637.7ZM484.5 656.5 480.5 657.4 470.5 656.9 447.5 657.1 444.5 655.7 442.9 653.5 442.4 650.5 442.8 646.5 444.5 643.2 448.5 641.6 480.5 642.1 492.5 641.1 496.5 642.1 497.4 643.5 496.7 645.5 486.5 655.3 484.5 656.5ZM298.5 845.5 113.4 845.5 111.7 837.5 111.2 829.5 111.7 823.5 113.7 814.5 114.2 809.5 113.8 728.5 116.9 713.5 118.1 690.5 120.0 669.5 120.7 666.5 122.5 663.6 125.5 661.9 129.5 661.5 137.5 661.9 148.5 661.5 230.5 661.5 252.5 662.0 257.1 662.5 268.5 665.0 283.5 665.7 288.7 667.5 294.7 671.5 300.2 679.5 305.5 684.3 307.1 686.5 307.9 690.5 307.1 701.5 308.1 706.5 310.5 710.3 316.5 715.1 317.8 719.5 317.3 729.5 317.3 770.5 317.7 781.5 316.0 785.5 310.5 789.7 308.1 793.5 307.2 799.5 307.6 811.5 306.9 834.5 305.9 837.5 304.5 839.5 298.5 845.5Z"/><path fill-rule="evenodd" fill="#ffff38" d="M109.5 591.5 107.5 590.7 105.5 588.6 104.4 586.5 103.8 583.5 104.1 580.5 105.5 577.4 107.5 575.1 109.5 574.2 111.5 574.9 112.7 576.5 113.7 579.5 114.0 583.5 113.6 587.5 112.8 589.5 111.5 591.1 109.5 591.5ZM132.5 636.5 129.5 636.2 126.1 634.5 124.2 632.5 122.5 628.8 121.4 622.5 121.6 618.5 123.2 615.5 125.5 614.2 130.5 613.6 139.0 614.5 142.5 615.8 144.7 618.5 145.0 620.5 144.7 623.5 141.3 631.5 137.5 635.2 132.5 636.5ZM276.5 845.5 115.9 845.5 113.5 838.5 112.6 830.5 113.0 824.5 115.4 814.5 115.8 810.5 114.7 728.5 117.7 713.5 119.1 690.5 121.2 670.5 122.4 666.5 123.9 664.5 126.5 663.2 129.5 662.8 138.5 663.3 231.5 663.3 255.5 663.9 267.4 667.5 271.4 669.5 272.7 671.5 274.0 675.5 275.4 677.5 289.8 690.5 292.0 694.5 292.5 701.9 293.3 704.5 295.0 706.5 300.5 710.8 301.9 713.5 302.7 717.5 302.5 783.5 301.9 786.5 300.3 789.5 294.9 793.5 293.2 795.5 292.4 797.5 292.2 800.5 292.9 813.5 294.5 816.1 299.5 819.2 301.5 821.3 302.9 825.5 303.3 831.5 302.7 834.5 301.2 837.5 298.5 840.2 293.5 843.6 290.5 844.6 282.5 844.4 276.5 845.5Z"/><path fill-rule="evenodd" fill="#ffff10" d="M110.5 587.7 108.5 587.4 107.2 585.5 106.8 583.5 107.5 580.1 109.5 578.5 111.1 579.5 111.8 581.5 111.7 585.5 110.5 587.7ZM135.5 634.6 132.5 635.2 129.0 634.5 126.5 632.9 124.5 630.3 122.9 625.5 122.5 620.5 123.3 617.5 125.4 615.5 129.5 614.6 136.5 615.2 140.5 616.5 142.6 618.5 143.1 622.5 141.3 628.5 138.7 632.5 135.5 634.6ZM269.5 845.5 118.8 845.5 118.5 845.1 115.1 838.5 113.9 830.5 114.4 824.5 116.8 815.5 117.4 810.5 116.3 776.5 115.6 728.5 118.3 713.5 120.1 689.5 122.5 671.5 123.5 667.8 125.4 665.5 127.5 664.5 130.5 664.3 154.5 665.9 231.5 665.9 255.2 666.5 260.9 668.5 264.5 670.7 266.1 672.5 269.7 679.5 276.5 685.2 285.5 694.0 287.0 697.5 287.3 704.5 288.3 707.5 289.8 709.5 295.8 714.5 297.2 717.5 297.5 720.5 297.0 771.5 297.3 781.5 295.8 785.5 289.6 790.5 287.4 794.5 286.8 799.5 287.2 812.5 287.9 816.5 289.3 819.5 297.5 825.5 298.5 827.7 298.8 830.5 297.5 834.5 294.5 837.1 282.5 840.0 275.5 842.5 269.5 845.5Z"/><path fill-rule="evenodd" fill="#ffef08" d="M133.5 633.6 130.8 633.5 128.5 632.6 126.5 630.8 125.1 628.5 123.9 624.5 123.8 620.5 124.5 618.2 126.5 616.4 130.5 615.7 135.5 616.3 138.8 617.5 140.8 619.5 141.2 623.5 139.5 628.7 136.5 632.4 133.5 633.6ZM263.5 845.5 122.6 845.5 118.5 842.0 116.2 837.5 115.2 830.5 115.7 824.5 118.4 815.5 119.0 810.5 118.6 794.5 117.3 776.5 116.4 728.5 119.0 713.5 121.7 684.5 124.4 670.5 126.5 667.2 128.5 666.3 131.5 666.2 140.0 668.5 142.2 670.5 143.1 674.5 144.1 676.5 145.5 677.7 148.5 678.7 213.5 678.5 229.5 677.5 235.5 678.3 239.1 680.5 244.0 685.5 248.9 689.5 253.9 695.5 259.5 700.1 264.5 705.9 269.8 710.5 274.5 716.1 280.7 721.5 282.2 724.5 282.6 727.5 281.9 738.5 281.9 752.5 282.7 761.5 282.2 765.5 279.9 769.5 275.0 773.5 270.1 779.5 264.1 784.5 263.1 786.5 262.7 790.5 263.0 801.5 263.8 805.5 265.2 807.5 270.1 811.5 280.3 821.5 282.4 826.5 282.7 831.5 281.7 834.5 278.9 837.5 265.5 845.0 263.5 845.5Z"/><path fill-rule="evenodd" fill="#ffe000" d="M134.5 631.6 132.5 632.0 130.1 631.5 128.4 630.5 126.5 628.1 125.3 624.5 125.1 621.5 125.6 619.5 127.5 617.6 130.5 617.0 134.3 617.5 136.9 618.5 138.9 620.5 139.3 623.5 138.5 626.9 136.5 630.2 134.5 631.6ZM237.5 844.5 159.5 844.7 146.5 844.1 130.5 845.2 126.5 844.8 123.5 843.8 120.5 841.9 118.6 839.5 116.8 834.5 116.4 828.5 117.2 823.5 120.2 814.5 120.7 809.5 120.2 794.5 118.3 776.5 117.2 727.5 119.5 714.5 120.8 699.5 122.7 685.5 125.5 674.4 126.7 671.5 128.5 669.5 131.5 669.2 134.3 670.5 136.1 672.5 140.5 679.5 143.5 681.9 147.5 683.3 220.5 683.2 229.5 682.7 233.5 683.3 235.7 684.5 245.5 693.4 249.9 699.5 255.5 703.7 260.3 709.5 266.4 714.5 269.9 719.5 276.5 725.0 277.6 729.5 276.9 739.5 277.5 762.5 276.2 765.5 270.5 769.7 266.4 775.5 260.1 779.5 258.4 781.5 257.4 787.5 257.5 806.5 257.7 808.5 258.8 810.5 267.5 815.0 275.7 823.5 277.7 827.5 277.6 832.5 275.9 835.5 273.7 837.5 268.5 840.6 263.5 842.8 258.5 843.6 237.5 844.5Z"/><path fill-rule="evenodd" fill="#f8c914" d="M133.5 629.7 130.5 629.5 127.6 626.5 126.8 622.5 127.3 620.5 128.5 619.3 130.5 618.8 133.5 619.2 135.5 620.2 136.6 621.5 137.1 623.5 136.5 626.5 135.2 628.5 133.5 629.7ZM136.5 843.5 128.5 843.6 125.5 843.0 122.5 841.6 120.5 839.9 119.0 837.5 117.6 831.5 118.2 824.5 122.0 814.5 122.6 810.5 122.1 795.5 119.3 777.5 118.1 746.5 118.0 727.5 120.2 714.5 121.5 700.3 123.4 687.5 125.5 680.3 127.5 676.5 129.5 675.2 132.5 675.9 140.5 684.2 143.5 686.5 146.5 687.7 149.5 688.0 159.5 687.2 214.5 687.4 217.5 688.2 220.0 689.5 224.0 695.5 226.5 697.7 229.5 698.4 236.5 698.3 239.5 699.4 244.5 706.5 253.5 715.5 259.0 719.5 263.1 725.5 265.5 727.1 270.5 728.9 271.9 730.5 272.5 732.1 272.9 754.5 271.8 759.5 270.5 760.9 264.5 763.7 259.7 770.5 254.5 773.8 249.5 780.1 243.9 784.5 242.5 787.5 242.3 790.5 242.5 801.5 243.5 805.5 253.4 814.5 256.5 815.8 263.5 817.1 268.2 820.5 272.2 825.5 273.5 828.5 273.4 831.5 272.0 834.5 268.7 837.5 265.5 839.5 261.5 841.0 256.5 841.7 232.5 843.1 159.5 843.2 146.5 842.5 136.5 843.5Z"/><path fill-rule="evenodd" fill="#f0b228" d="M132.5 625.8 131.5 625.8 130.5 625.1 130.1 623.5 130.5 622.4 132.5 622.5 133.3 623.5 133.4 624.5 132.5 625.8ZM134.5 842.5 127.5 842.2 122.5 840.0 120.0 836.5 118.7 830.5 119.8 823.5 124.7 813.5 125.5 809.5 125.0 797.5 121.5 784.9 120.4 777.5 120.1 763.5 118.9 746.5 118.7 727.5 123.5 693.4 125.4 685.5 127.5 681.7 129.5 680.2 131.5 680.5 134.5 682.7 142.0 690.5 144.5 691.9 147.5 692.7 159.5 692.1 212.5 692.0 216.5 693.9 221.5 699.5 224.5 701.9 227.5 703.0 234.5 703.4 237.5 705.0 255.0 722.5 259.4 730.5 265.5 733.4 267.5 735.5 268.1 738.5 268.2 751.5 267.5 754.5 266.5 755.9 259.8 759.5 255.5 766.4 249.8 770.5 245.5 776.3 239.9 779.5 238.2 781.5 237.0 788.5 237.5 807.5 239.4 810.5 251.5 817.4 261.5 820.2 264.5 822.0 267.3 825.5 268.5 828.5 268.5 831.5 267.0 834.5 263.7 837.5 258.5 839.4 235.5 841.6 159.5 841.8 146.5 841.1 134.5 842.5Z"/><path fill-rule="evenodd" fill="#ed9e25" d="M130.5 793.5 127.5 792.6 125.5 790.3 123.5 786.2 121.9 780.5 119.6 747.5 119.4 730.5 119.7 724.5 124.0 696.5 126.5 687.7 127.5 686.2 129.5 684.9 131.5 685.1 133.5 686.3 139.0 692.5 141.5 694.5 148.5 696.6 158.5 697.7 200.5 697.8 209.5 697.0 213.5 697.7 216.5 699.6 224.5 706.4 227.5 707.4 233.5 707.8 238.5 710.9 245.4 717.5 251.3 724.5 252.3 727.5 252.5 733.5 253.5 735.4 260.0 738.5 261.9 740.5 262.7 745.5 261.5 749.8 259.5 751.5 254.5 754.1 249.5 760.2 244.5 763.5 240.4 769.5 233.6 774.5 229.5 780.5 227.5 782.0 221.5 783.1 189.5 783.1 159.5 781.5 155.5 783.2 150.5 788.6 147.5 790.7 144.5 791.6 137.5 791.8 130.5 793.5ZM132.5 841.5 127.5 841.0 123.5 839.1 120.9 835.5 120.0 831.5 120.4 825.5 122.5 820.6 126.5 815.8 130.5 814.3 146.5 814.5 158.5 815.6 223.5 815.5 239.5 816.0 243.5 817.0 250.5 820.3 260.5 823.5 263.2 826.5 264.0 829.5 263.6 832.5 262.5 834.3 258.5 837.0 235.5 840.2 159.5 840.5 146.5 839.8 132.5 841.5Z"/><path fill-rule="evenodd" fill="#ea8a22" d="M134.5 787.5 130.5 788.4 127.5 787.6 125.5 785.6 123.6 781.5 122.7 776.5 122.2 764.5 120.3 746.5 120.2 726.5 123.5 705.0 125.5 695.8 127.5 691.4 129.5 689.4 130.5 689.3 132.5 690.4 137.6 695.5 140.5 697.5 158.5 703.0 169.5 702.4 200.5 702.8 209.5 702.0 213.5 702.6 216.5 704.4 224.5 711.3 227.5 712.4 234.5 713.0 237.5 714.5 241.5 717.8 244.7 721.5 247.0 725.5 247.6 728.5 247.4 735.5 248.5 739.3 250.5 741.1 254.5 742.8 256.0 744.5 255.5 746.5 254.6 747.5 250.5 750.6 245.5 756.3 240.2 759.5 235.5 766.5 230.0 770.5 226.0 775.5 223.5 777.3 219.5 777.8 210.5 777.3 168.5 777.2 158.5 776.7 154.5 778.3 148.5 784.3 145.5 786.3 134.5 787.5ZM139.5 839.5 133.5 840.4 129.5 840.2 125.5 838.9 122.9 836.5 121.4 832.5 121.5 826.6 123.5 821.8 126.5 818.7 130.5 817.3 142.5 817.3 159.5 819.0 235.5 819.0 240.5 819.9 248.5 823.7 255.8 825.5 258.5 827.4 259.3 829.5 258.5 832.5 255.5 834.4 247.5 835.5 239.5 838.0 234.5 838.9 159.5 839.1 147.5 838.4 139.5 839.5Z"/><path fill-rule="evenodd" fill="#e76d1c" d="M134.5 783.6 130.5 784.4 128.5 784.1 126.5 782.7 125.3 780.5 124.3 776.5 123.8 766.5 121.1 747.5 120.8 729.5 121.3 723.5 125.5 701.2 126.5 698.0 128.5 695.2 129.5 694.7 131.5 694.9 138.5 699.9 148.5 702.6 155.5 706.9 158.5 708.1 169.5 707.4 181.5 707.7 201.5 707.3 209.5 706.5 212.5 706.8 216.5 709.0 223.5 715.8 226.5 717.0 232.5 717.3 235.5 718.0 238.5 719.8 241.5 723.5 242.8 726.5 243.2 729.5 241.9 747.5 239.8 750.5 233.7 754.5 230.5 759.8 228.5 761.5 225.5 762.3 221.5 762.6 199.5 762.9 187.5 762.3 184.5 763.8 180.5 770.3 177.5 772.2 170.5 773.3 159.5 772.2 156.5 772.5 153.5 774.1 147.5 780.5 145.5 781.9 142.5 782.9 134.5 783.6ZM138.5 838.5 133.5 839.2 129.5 839.0 126.5 837.9 123.9 835.5 122.6 831.5 122.7 827.5 124.3 823.5 126.5 821.0 130.5 819.5 142.5 819.2 147.5 819.5 159.5 821.8 232.5 821.5 236.5 822.1 239.8 823.5 242.9 826.5 244.0 829.5 243.3 832.5 241.4 834.5 237.5 836.4 233.5 837.2 159.5 837.3 148.5 836.9 138.5 838.5Z"/><path fill-rule="evenodd" fill="#e45016" d="M132.5 779.6 130.5 779.9 128.8 779.5 127.5 778.1 126.9 776.5 126.0 767.5 122.5 752.5 121.7 744.5 121.6 728.5 122.4 721.5 125.5 706.5 127.5 701.6 129.5 699.4 131.5 699.6 137.5 703.4 144.5 704.3 147.5 705.3 155.5 711.9 158.5 713.1 169.5 712.4 200.5 712.4 211.5 711.6 215.0 713.5 219.5 718.9 222.5 721.2 225.5 722.0 233.5 722.6 235.5 723.6 237.1 725.5 238.2 730.5 237.6 740.5 237.0 743.5 235.5 746.0 230.5 750.0 226.5 754.9 224.5 756.5 220.5 757.4 189.5 757.0 184.5 757.5 180.1 759.5 175.7 766.5 173.5 768.0 169.5 768.6 160.5 767.4 154.5 767.9 150.5 769.8 146.3 775.5 143.8 777.5 136.5 778.5 132.5 779.6ZM136.5 837.6 132.5 838.0 129.5 837.6 127.0 836.5 125.1 834.5 124.1 831.5 124.3 827.5 125.5 824.7 127.7 822.5 131.5 821.3 142.5 820.9 147.7 821.5 157.5 824.8 160.5 825.2 231.5 824.8 234.5 825.3 236.5 826.3 237.8 827.5 238.6 829.5 238.3 831.5 237.5 832.6 235.5 833.8 232.5 834.6 161.5 834.6 146.5 835.3 136.5 837.6Z"/><path fill-rule="evenodd" fill="#dc300b" d="M134.5 764.7 131.5 765.3 129.5 765.1 127.5 763.7 126.5 762.3 124.1 755.5 122.7 746.5 122.4 729.5 123.0 722.5 126.5 708.6 127.5 706.5 129.5 704.9 131.5 705.1 137.5 708.1 143.5 707.8 146.5 708.7 148.9 710.5 154.5 716.5 157.5 717.9 170.5 717.0 185.5 717.3 192.0 718.5 196.5 721.2 205.4 729.5 207.8 732.5 208.4 734.5 208.3 736.5 206.2 739.5 202.5 741.3 192.5 744.0 190.2 745.5 186.7 749.5 184.5 750.9 178.5 752.4 169.5 752.4 166.5 752.9 164.0 754.5 160.1 760.5 156.5 762.3 151.5 762.9 142.5 762.6 134.5 764.7ZM137.5 835.7 131.5 836.3 129.5 835.8 127.5 834.5 126.3 832.5 125.9 830.5 126.3 827.5 127.5 825.4 129.5 824.0 132.5 823.2 144.5 823.0 150.5 825.0 152.6 826.5 154.0 828.5 153.8 830.5 151.5 832.2 137.5 835.7Z"/><path fill-rule="evenodd" fill="#d41000" d="M132.5 761.5 129.5 761.3 127.5 759.8 126.5 758.3 124.5 752.5 123.4 744.5 123.3 728.5 123.9 722.5 126.5 713.8 128.5 710.5 129.5 709.8 131.5 710.0 137.5 712.9 143.5 712.8 145.5 713.4 147.5 714.9 152.5 720.4 156.5 722.6 159.5 723.0 168.5 722.1 180.5 722.2 186.5 723.1 192.1 726.5 196.8 730.5 198.3 732.5 198.5 734.5 197.5 735.8 195.5 736.9 185.5 739.8 180.3 744.5 177.5 746.2 173.5 747.0 164.5 747.4 161.0 748.5 159.0 750.5 156.5 755.5 154.5 757.2 152.5 757.7 144.5 757.8 132.5 761.5ZM135.5 833.5 131.5 833.5 129.8 832.5 129.2 831.5 128.9 829.5 130.0 827.5 133.5 826.1 140.5 825.5 144.5 826.1 146.8 827.5 147.0 828.5 146.5 829.4 144.7 830.5 135.5 833.5Z"/><path fill-rule="evenodd" fill="#b20800" d="M133.5 758.6 130.5 758.7 127.5 756.4 125.5 751.8 124.4 744.5 124.2 728.5 124.8 722.5 126.0 718.5 127.5 715.7 128.5 714.7 130.5 714.1 144.5 718.2 151.5 724.2 159.9 729.5 161.2 731.5 161.7 733.5 161.5 736.5 160.0 739.5 153.5 744.9 148.5 750.5 140.5 755.8 133.5 758.6Z"/><path fill-rule="evenodd" fill="#900000" d="M134.5 755.8 131.5 756.1 128.5 754.4 126.5 750.5 125.6 745.5 125.6 724.5 127.5 718.8 128.5 717.7 130.5 717.0 133.5 717.7 143.5 721.9 154.4 730.5 155.7 732.5 156.2 734.5 155.8 736.5 153.7 739.5 140.1 752.5 134.5 755.8Z"/><path fill-rule="evenodd" fill="#600000" d="M134.5 752.7 131.5 753.1 129.5 751.9 128.0 749.5 127.1 745.5 127.0 725.5 128.5 721.2 130.5 719.9 134.5 720.8 141.6 724.5 149.3 730.5 151.0 732.5 151.7 734.5 151.2 736.5 149.9 738.5 143.2 744.5 137.8 750.5 134.5 752.7Z"/><path fill-rule="evenodd" fill="#300000" d="M132.5 748.7 130.5 747.5 129.2 742.5 129.3 727.5 130.4 724.5 131.5 723.9 134.2 724.5 137.7 726.5 144.0 731.5 146.1 734.5 145.6 736.5 144.7 737.5 139.5 741.5 134.5 747.8 132.5 748.7Z"/><path fill-rule="evenodd" fill="#f4f4ff" d="M499.5 627.5 397.5 627.2 392.5 626.2 384.5 621.9 380.5 621.1 371.5 621.6 348.5 621.6 316.5 620.5 302.5 621.6 269.5 621.9 258.5 621.0 254.5 621.4 245.5 624.0 240.5 624.4 160.5 624.2 158.5 623.5 156.5 621.9 153.1 616.5 150.4 613.5 145.5 610.6 139.5 609.6 120.5 609.2 117.8 608.5 116.5 607.3 115.6 604.5 115.6 601.5 117.6 590.5 118.1 584.5 116.5 563.5 116.7 550.5 503.5 550.5 503.5 627.4 499.5 627.5ZM113.5 627.9 112.5 628.2 111.2 625.5 111.3 622.5 112.5 621.1 113.5 622.1 114.0 624.5 113.5 627.9ZM309.5 658.5 296.5 658.9 282.5 657.1 266.5 657.4 231.5 655.4 149.5 655.4 132.5 656.1 119.5 654.5 117.8 652.5 117.4 649.5 118.1 646.5 120.2 644.5 135.5 643.4 140.5 642.4 154.6 637.5 162.5 631.7 167.5 630.4 231.5 630.8 235.5 630.4 245.5 628.0 250.5 627.5 305.5 627.7 312.5 628.6 316.5 630.4 319.5 633.5 320.7 637.5 321.4 650.5 320.6 653.5 319.0 655.5 316.5 657.2 313.5 658.1 309.5 658.5ZM101.5 845.5 95.5 845.5 93.5 843.7 90.5 842.9 90.5 788.5 92.5 787.9 94.2 786.5 95.3 784.5 96.0 781.5 96.4 760.5 98.2 740.5 97.6 727.5 101.9 718.5 102.4 715.5 102.4 709.5 103.0 706.5 107.5 699.4 109.5 697.5 110.5 697.3 111.5 698.1 112.1 700.5 112.5 711.5 111.6 716.5 108.9 722.5 107.6 727.5 107.9 741.5 106.2 802.5 105.5 807.6 102.6 814.5 101.9 817.5 102.8 831.5 101.9 845.5 101.5 845.5ZM503.5 845.5 368.4 845.5 368.0 840.5 368.6 836.5 370.9 832.5 376.5 827.4 381.5 821.5 387.2 816.5 391.5 811.3 393.5 809.8 396.5 808.8 503.5 808.8 503.5 845.5Z"/><path fill-rule="evenodd" fill="#ececff" d="M243.5 620.5 236.5 621.0 162.5 620.5 158.5 619.3 151.2 612.5 145.5 609.6 139.5 608.7 124.5 608.5 120.0 607.5 117.9 605.5 116.9 601.5 118.6 585.5 117.5 565.5 117.7 550.5 392.4 550.5 392.9 554.5 394.5 558.2 396.6 560.5 399.5 561.5 409.5 560.7 503.5 560.9 503.5 610.7 399.5 610.5 382.5 611.5 342.5 611.5 329.5 612.0 320.5 610.7 317.5 611.4 309.8 615.5 304.5 616.7 269.5 617.0 258.5 616.5 243.5 620.5ZM300.5 655.5 282.5 654.3 266.5 654.5 245.5 653.7 231.5 652.7 149.5 652.7 133.5 653.6 127.0 652.5 125.5 651.5 124.8 649.5 126.4 647.5 128.5 646.8 137.5 645.8 157.5 642.5 160.5 641.4 166.5 637.5 169.5 636.9 179.5 637.7 220.5 637.4 230.5 637.8 235.5 637.0 245.5 633.5 252.5 632.9 302.5 633.1 306.9 633.5 310.2 634.5 312.5 636.5 313.2 638.5 314.0 649.5 313.5 652.1 312.3 653.5 310.3 654.5 300.5 655.5Z"/><path fill-rule="evenodd" fill="#dcdcff" d="M239.5 618.5 163.5 618.0 158.5 616.5 150.5 610.6 145.5 608.6 139.5 607.8 126.5 607.8 121.1 606.5 119.1 604.5 118.0 600.5 119.2 585.5 118.3 566.5 118.7 550.5 312.9 550.5 313.6 553.5 315.1 555.5 316.7 556.5 319.5 557.2 329.5 556.4 370.5 556.8 382.5 556.4 386.5 558.2 393.5 565.5 395.5 566.8 398.5 567.6 409.5 567.1 503.5 567.2 503.5 600.0 409.5 600.1 399.5 599.7 387.5 602.1 380.5 602.5 329.5 602.6 319.5 601.8 315.5 603.0 308.5 610.4 306.5 611.7 303.5 612.7 262.5 612.4 256.5 613.6 245.5 617.7 239.5 618.5Z"/><path fill-rule="evenodd" fill="#ccccff" d="M244.5 615.7 240.5 616.1 164.5 615.8 159.5 614.6 150.8 609.5 145.5 607.5 140.5 606.9 127.5 607.0 122.5 605.9 120.0 603.5 119.0 599.5 119.7 585.5 119.1 568.5 119.6 550.5 307.5 550.5 308.4 554.5 310.4 557.5 314.5 561.1 317.5 562.6 320.5 562.9 329.5 562.0 370.5 562.4 381.5 561.7 385.5 563.4 393.5 570.9 398.5 572.8 409.5 572.3 503.5 572.5 503.5 590.2 409.5 590.3 399.5 589.5 395.5 590.7 387.5 596.2 382.5 597.5 329.5 597.5 318.5 596.8 314.5 598.3 306.5 606.0 302.5 608.0 266.5 607.4 259.5 609.5 248.5 614.5 244.5 615.7Z"/><path fill-rule="evenodd" fill="#b8b8ff" d="M243.5 613.5 233.5 612.6 221.5 613.8 165.5 613.6 159.5 612.4 150.5 608.1 145.5 606.5 140.5 605.9 128.5 606.2 123.5 605.1 120.8 602.5 119.8 598.5 120.2 584.5 119.7 568.5 120.5 550.5 262.6 550.5 264.4 553.5 267.5 554.8 271.5 555.0 279.5 554.0 284.5 554.1 289.5 555.0 296.5 557.2 303.5 557.9 307.5 560.2 316.5 569.2 319.5 570.7 329.5 568.9 370.5 569.5 381.5 568.5 383.9 569.5 386.5 571.8 389.5 575.5 390.9 578.5 390.7 582.5 388.6 586.5 385.5 589.9 382.5 591.3 379.5 591.6 369.5 590.9 329.5 591.4 319.5 589.7 316.5 591.1 306.5 600.5 302.5 602.7 299.5 603.1 289.5 601.9 278.5 603.6 265.5 604.1 260.5 605.9 248.5 612.2 243.5 613.5Z"/><path fill-rule="evenodd" fill="#a4a4ff" d="M221.5 611.5 164.5 611.2 159.5 610.4 145.5 605.4 140.5 605.0 128.5 605.4 123.5 603.9 121.5 601.4 120.5 596.5 120.4 569.5 121.3 550.5 257.4 550.5 257.9 552.5 259.3 554.5 262.0 556.5 265.5 557.9 270.5 558.5 280.5 557.3 284.5 557.3 288.8 558.5 295.5 562.2 304.5 563.4 308.5 566.0 312.2 571.5 313.6 575.5 314.2 579.5 313.0 586.5 311.1 590.5 308.8 593.5 306.5 595.7 303.5 597.4 299.5 598.1 291.5 596.8 288.5 596.8 277.5 600.6 264.5 601.6 259.9 603.5 249.5 609.5 245.5 610.8 241.5 610.6 234.5 608.4 226.5 610.8 221.5 611.5Z"/><path fill-rule="evenodd" fill="#8e8eff" d="M224.5 608.7 220.5 609.2 163.5 608.8 158.5 608.1 144.5 604.1 129.5 604.6 124.9 603.5 123.5 602.5 122.2 600.5 121.3 595.5 121.0 570.5 122.2 550.5 252.7 550.5 253.8 553.5 255.7 555.5 263.5 560.0 269.5 561.3 280.5 559.8 285.5 560.3 288.0 561.5 294.5 566.4 302.5 567.2 304.5 567.8 307.5 570.4 309.2 573.5 310.3 579.5 309.5 585.5 307.5 589.6 303.5 592.8 299.5 593.5 291.5 592.1 287.5 592.4 279.5 596.9 276.5 598.1 266.5 598.8 262.5 599.7 250.5 606.6 246.5 608.1 243.5 608.1 237.5 605.8 234.5 605.2 231.5 605.8 224.5 608.7Z"/><path fill-rule="evenodd" fill="#7878ff" d="M222.5 606.5 161.5 606.3 156.5 605.7 144.5 602.9 130.5 603.6 125.5 602.6 122.9 599.5 121.9 593.5 121.6 571.5 123.1 550.5 247.7 550.5 248.9 553.5 250.8 555.5 263.5 562.8 269.5 564.1 280.5 562.9 283.5 563.2 286.5 565.2 289.5 569.7 291.5 571.4 294.5 572.0 301.5 571.9 303.5 572.7 305.6 575.5 306.4 579.5 305.9 583.5 304.5 586.4 302.5 587.9 299.5 588.5 291.5 586.8 288.5 586.9 285.5 588.4 279.5 593.4 276.5 595.1 273.5 595.9 266.5 596.2 263.5 596.8 259.5 598.6 250.5 604.2 247.5 605.4 243.5 605.4 237.5 603.4 234.5 603.0 231.5 603.4 222.5 606.5Z"/><path fill-rule="evenodd" fill="#6060ff" d="M224.5 603.6 220.5 604.2 210.5 603.7 159.5 604.0 144.5 601.5 130.5 602.6 126.5 601.8 124.8 600.5 123.6 598.5 122.5 591.5 122.2 571.5 124.1 550.5 243.0 550.5 244.2 553.5 247.2 556.5 263.5 566.0 268.5 567.4 278.5 567.4 280.5 568.3 281.6 569.5 283.1 576.5 283.1 582.5 280.7 587.5 276.5 591.6 273.5 592.8 266.5 593.2 263.5 593.9 251.5 601.2 247.5 603.0 244.5 603.2 234.5 601.1 230.5 601.6 224.5 603.6Z"/><path fill-rule="evenodd" fill="#4848ff" d="M222.5 601.5 169.5 601.3 158.5 601.8 144.5 600.0 130.5 601.5 126.6 600.5 124.5 598.0 123.5 594.5 122.8 580.5 123.0 569.5 125.3 550.5 238.1 550.5 239.6 553.5 242.9 556.5 255.5 564.1 263.5 570.2 267.5 571.9 274.0 572.5 276.7 574.5 277.8 578.5 277.7 582.5 276.4 585.5 273.5 587.9 264.5 589.4 251.7 598.5 247.5 600.5 244.5 600.8 233.5 599.3 222.5 601.5Z"/><path fill-rule="evenodd" fill="#3030ff" d="M136.5 599.6 131.5 600.3 128.5 600.0 126.2 598.5 124.4 594.5 123.5 585.5 123.4 572.5 126.7 550.5 173.2 550.5 174.3 552.5 175.5 553.3 179.5 554.1 232.5 553.8 237.5 555.9 254.5 566.8 259.8 572.5 261.6 575.5 262.5 578.5 262.0 583.5 258.3 589.5 251.5 595.7 248.5 597.5 245.5 598.3 233.5 597.5 220.5 599.1 169.5 598.8 158.5 599.3 146.5 598.2 136.5 599.6Z"/><path fill-rule="evenodd" fill="#1818ff" d="M134.5 598.7 130.5 599.0 127.5 597.9 125.5 594.9 124.5 590.2 124.0 578.5 124.3 570.5 125.5 563.6 128.9 550.5 167.6 550.5 168.8 553.5 170.5 555.0 173.5 556.5 177.5 557.2 233.5 557.2 239.1 559.5 251.9 568.5 255.4 572.5 257.4 577.5 257.2 583.5 254.8 588.5 249.9 593.5 247.5 594.9 244.5 595.8 232.5 595.5 220.5 596.3 158.5 596.4 148.5 596.0 143.5 596.5 134.5 598.7Z"/><path fill-rule="evenodd" fill="#0c0cef" d="M132.5 597.5 128.5 596.8 126.1 593.5 125.0 587.5 124.6 577.5 125.4 568.5 127.5 560.9 130.5 556.1 133.5 554.7 146.5 557.1 158.5 555.0 161.5 555.1 171.5 558.9 177.5 559.8 229.5 559.4 233.5 559.8 238.5 562.1 249.2 570.5 252.2 574.5 253.5 578.5 253.0 583.5 250.5 588.4 247.0 591.5 242.5 593.1 153.5 593.0 145.5 594.0 132.5 597.5Z"/><path fill-rule="evenodd" fill="#0000e0" d="M134.5 595.6 130.5 595.8 128.5 594.8 127.5 593.5 126.1 589.5 125.4 581.5 125.7 572.5 127.5 564.7 130.5 559.6 133.5 558.4 137.5 558.9 145.5 562.2 148.5 562.8 160.5 560.6 176.5 563.3 232.5 563.2 236.5 565.1 244.9 572.5 247.5 575.5 248.6 578.5 248.5 582.0 246.9 585.5 244.5 587.7 240.5 589.2 236.5 589.4 222.5 588.3 169.5 588.4 158.5 587.9 153.5 589.1 134.5 595.6Z"/><path fill-rule="evenodd" fill="#0000c4" d="M134.5 593.8 130.5 593.8 128.0 591.5 126.6 586.5 126.2 579.5 126.7 572.5 128.5 566.0 131.5 562.0 134.5 561.2 139.5 563.0 148.7 569.5 151.6 573.5 153.0 579.5 152.2 583.5 149.7 586.5 144.7 589.5 134.5 593.8Z"/><path fill-rule="evenodd" fill="#0000a8" d="M134.5 591.7 131.5 591.9 129.3 590.5 127.7 586.5 127.1 580.5 127.7 573.5 129.5 567.8 131.5 565.3 134.5 564.3 138.5 566.0 143.6 570.5 146.6 574.5 148.1 579.5 147.7 582.5 145.7 585.5 141.5 588.5 134.5 591.7Z"/><path fill-rule="evenodd" fill="#000088" d="M132.5 589.5 130.5 588.6 129.3 586.5 128.5 582.8 128.5 577.5 129.2 573.5 130.5 570.4 132.5 568.4 134.5 568.1 137.6 569.5 141.4 573.5 143.5 577.5 143.8 580.5 142.8 583.5 141.0 585.5 136.3 588.5 132.5 589.5Z"/><path fill-rule="evenodd" fill="#000068" d="M133.5 585.6 131.5 584.5 130.7 579.5 131.5 575.4 132.5 573.9 134.5 573.4 136.2 574.5 137.8 576.5 138.7 578.5 138.8 580.5 137.2 583.5 135.5 584.9 133.5 585.6Z"/></g><g clip-path="url(#clipd)"><path fill-rule="evenodd" fill="#fdf0f0" d="M754.5 581.5 744.5 582.2 710.5 582.4 699.5 581.9 690.5 582.4 685.5 581.6 681.7 578.5 679.6 573.5 679.3 569.5 680.2 558.5 680.1 550.5 765.0 550.5 764.1 563.5 761.5 574.5 758.8 579.5 754.5 581.5ZM814.5 657.5 806.5 657.9 793.5 655.0 781.5 657.8 776.5 657.8 772.9 656.5 770.3 654.5 768.7 651.5 768.5 647.5 769.4 643.5 771.5 638.1 774.0 633.5 776.5 630.4 780.5 628.0 788.5 627.0 790.5 624.7 791.4 619.5 790.4 606.5 790.8 603.5 792.2 600.5 794.7 598.5 803.5 594.7 810.5 587.5 813.5 585.2 817.5 583.5 821.5 583.1 824.5 584.0 827.6 586.5 829.3 589.5 830.2 593.5 830.4 600.5 829.8 608.5 825.9 624.5 828.1 634.5 828.2 639.5 826.2 647.5 823.5 652.5 820.0 655.5 814.5 657.5ZM784.5 845.5 701.9 845.5 701.5 840.4 697.5 826.0 696.4 823.5 694.5 821.8 692.5 821.6 690.0 822.5 683.5 828.7 680.5 829.7 677.5 828.1 673.0 822.5 669.9 819.5 661.5 814.0 657.5 812.7 646.6 810.5 632.5 805.8 617.5 799.8 598.5 797.2 588.5 794.1 577.5 789.8 573.5 788.9 555.5 788.1 543.5 790.3 543.5 652.1 555.5 651.9 560.5 653.2 570.5 657.3 590.5 658.9 606.5 658.9 618.5 657.6 625.5 657.4 653.5 657.4 670.5 659.0 684.5 658.7 690.5 660.4 698.7 666.5 708.5 669.5 711.5 671.3 713.9 674.5 715.2 678.5 715.5 689.5 716.2 693.5 720.2 701.5 721.5 705.5 721.9 710.5 721.5 719.5 722.1 723.5 723.8 727.5 730.6 737.5 733.0 743.5 733.1 746.5 731.7 763.5 726.6 782.5 726.9 785.5 727.9 787.5 729.9 789.5 732.5 790.9 742.5 794.3 745.5 794.6 749.5 793.0 757.5 786.3 759.5 783.1 760.5 779.5 763.1 757.5 761.7 747.5 762.5 745.5 763.5 745.0 765.5 745.2 767.5 746.3 776.5 754.3 783.3 763.5 789.5 770.6 792.9 776.5 794.3 781.5 794.4 785.5 789.4 802.5 785.8 840.5 785.2 845.5 784.5 845.5ZM838.5 827.3 836.5 825.2 834.3 820.5 833.2 815.5 832.9 810.5 833.2 803.5 834.0 799.5 835.7 796.5 838.5 794.5 838.5 827.3Z"/><path fill-rule="evenodd" fill="#fae4e4" d="M746.5 577.5 712.5 577.6 707.5 577.0 698.5 574.2 691.5 575.4 688.5 574.8 686.5 572.6 685.9 570.5 686.5 560.5 685.8 550.5 763.6 550.5 762.6 562.5 761.3 567.5 759.5 571.5 757.5 574.1 754.5 576.2 751.5 577.0 746.5 577.5ZM812.5 656.6 807.5 656.8 802.5 655.7 798.2 653.5 793.5 650.0 792.5 650.0 784.3 654.5 780.5 655.2 777.5 654.9 774.8 653.5 773.0 651.5 772.0 648.5 772.0 645.5 773.0 641.5 774.5 638.4 776.5 635.8 779.5 633.9 781.5 633.5 784.5 634.0 791.5 638.4 792.5 638.4 793.5 636.4 795.4 626.5 795.6 609.5 796.8 604.5 798.5 602.4 805.5 597.1 810.5 590.5 813.5 587.5 817.5 585.6 820.5 585.4 823.2 586.5 825.1 588.5 826.4 591.5 827.1 596.5 826.9 603.5 826.1 609.5 821.4 623.5 821.5 626.5 824.1 635.5 824.1 642.5 822.8 648.5 820.6 652.5 817.5 655.0 812.5 656.6ZM782.5 845.5 710.3 845.5 709.1 841.5 703.3 830.5 699.5 818.3 698.4 816.5 696.5 815.0 693.5 815.0 682.5 819.3 679.5 819.6 675.5 817.7 666.5 810.2 662.5 808.4 647.5 805.2 634.5 803.3 616.5 796.8 605.5 795.8 600.5 794.8 587.5 790.9 575.5 786.2 564.5 785.5 553.5 784.0 543.5 784.6 543.5 655.6 551.5 655.0 555.5 655.4 559.5 656.8 569.5 662.2 580.5 663.3 597.5 667.1 620.5 662.6 657.5 662.8 677.5 667.6 686.5 668.3 703.5 675.4 706.5 677.3 708.3 679.5 709.5 682.5 710.2 690.5 711.0 693.5 716.5 701.5 718.5 705.5 719.3 709.5 719.1 719.5 719.8 724.5 721.5 728.2 726.2 735.5 727.9 740.5 729.2 757.5 728.7 764.5 726.5 772.3 722.0 779.5 721.3 781.5 721.9 785.5 724.4 789.5 726.6 791.5 729.5 793.0 743.5 797.3 746.5 797.2 750.5 794.8 757.5 788.4 760.8 783.5 761.9 779.5 764.0 764.5 766.9 754.5 768.5 752.5 772.5 753.7 776.5 756.8 781.7 763.5 788.5 770.8 791.5 775.5 793.1 780.5 793.3 785.5 789.0 800.5 784.9 837.5 783.4 845.5 782.5 845.5ZM838.5 824.7 836.5 822.5 835.1 819.5 834.1 815.5 833.8 810.5 834.6 800.5 836.1 797.5 838.5 795.5 838.5 824.7Z"/><path fill-rule="evenodd" fill="#f7d8d8" d="M750.5 573.5 718.5 574.0 713.5 573.7 709.5 572.8 705.5 570.5 693.9 559.5 691.7 555.5 690.7 550.5 762.3 550.5 761.6 559.5 759.5 566.5 757.5 569.7 755.5 571.6 750.5 573.5ZM810.5 655.6 806.5 655.4 803.5 654.4 800.7 652.5 798.8 649.5 798.3 644.5 799.0 611.5 799.6 608.5 801.2 605.5 806.9 599.5 812.5 591.3 816.0 588.5 819.5 587.9 821.5 588.7 823.5 591.1 824.6 594.5 824.9 598.5 824.6 604.5 823.6 609.5 819.1 620.5 818.4 623.5 818.7 627.5 821.4 636.5 821.3 644.5 820.0 649.5 818.0 652.5 814.9 654.5 810.5 655.6ZM781.5 651.6 778.9 651.5 777.1 650.5 775.6 648.5 775.2 646.5 775.5 643.7 776.5 641.4 778.5 639.3 780.5 638.6 782.5 639.0 784.4 640.5 785.5 642.5 786.1 645.5 785.9 647.5 785.0 649.5 783.5 650.8 781.5 651.6ZM781.5 845.5 748.2 845.5 745.5 843.5 743.5 843.1 733.5 843.9 726.5 843.7 721.5 843.1 717.5 841.6 710.5 835.7 707.5 831.8 705.8 828.5 704.1 822.5 700.2 799.5 699.5 797.7 698.5 796.9 697.5 796.9 696.5 797.7 694.8 805.5 692.1 809.5 687.5 812.3 684.5 813.1 681.5 813.0 677.5 811.7 670.3 806.5 665.5 804.3 650.5 800.9 633.5 799.9 628.5 798.6 618.5 794.6 603.5 792.9 587.5 788.0 575.5 782.6 565.5 782.1 553.5 780.2 543.5 780.5 543.5 659.1 551.5 658.4 555.5 658.9 559.2 660.5 566.5 665.6 569.5 667.1 585.5 669.1 589.5 670.5 597.5 674.7 600.5 674.0 608.8 669.5 618.5 667.6 655.5 667.7 664.5 668.9 671.5 671.4 677.6 675.5 682.1 679.5 687.5 686.5 695.5 692.4 705.5 696.8 709.5 699.3 713.7 703.5 715.9 707.5 716.6 711.5 716.7 720.5 717.2 724.5 718.7 728.5 722.9 735.5 723.9 739.5 724.0 747.5 725.6 758.5 725.2 764.5 723.2 769.5 716.6 775.5 715.5 777.5 715.1 779.5 715.5 782.5 716.7 785.5 721.3 791.5 724.5 793.9 727.5 795.3 736.5 797.5 742.5 799.5 745.5 800.0 748.5 798.9 758.1 789.5 761.1 785.5 763.0 780.5 764.4 770.5 765.7 765.5 768.5 759.5 769.5 758.3 771.5 757.2 773.5 757.6 776.5 759.8 787.5 771.1 790.4 775.5 792.0 780.5 792.1 785.5 788.3 799.5 786.7 816.5 784.2 834.5 781.5 845.5ZM838.5 822.5 836.5 819.9 835.5 817.5 834.6 810.5 835.5 801.1 836.6 798.5 838.5 796.6 838.5 822.5Z"/><path fill-rule="evenodd" fill="#f4cccc" d="M750.5 570.6 745.5 571.1 721.5 571.2 716.5 570.9 712.5 570.0 707.5 566.8 699.1 557.5 697.0 554.5 695.7 550.5 761.0 550.5 760.3 558.5 758.3 564.5 755.1 568.5 750.5 570.6ZM812.5 653.7 808.5 654.2 805.5 653.5 802.6 651.5 801.1 648.5 800.7 644.5 801.5 615.5 802.1 611.5 803.3 608.5 808.5 601.7 812.8 594.5 815.5 591.6 818.5 590.7 820.5 591.6 821.9 593.5 822.9 599.5 821.5 608.5 816.7 619.5 815.7 623.5 815.9 627.5 819.1 637.5 819.2 643.5 818.5 647.5 817.1 650.5 815.1 652.5 812.5 653.7ZM779.5 845.5 754.2 845.5 749.5 840.1 744.5 837.3 741.5 837.0 732.5 837.9 723.5 837.7 718.5 836.6 714.5 834.5 710.4 830.5 707.5 824.5 706.6 817.5 706.0 794.5 704.5 790.6 701.5 788.7 697.5 789.0 693.5 791.7 690.5 796.4 689.1 803.5 688.1 805.5 685.5 807.6 682.5 808.0 678.5 806.8 669.5 802.2 654.5 797.0 633.5 796.5 628.8 795.5 619.5 792.1 605.5 790.6 596.5 787.1 586.5 784.6 578.5 779.3 574.5 777.6 553.5 776.6 543.5 776.6 543.5 663.0 551.5 662.1 555.5 662.7 558.5 664.2 565.5 669.8 569.5 672.1 572.5 672.8 581.5 672.5 585.5 673.1 588.8 674.5 594.5 678.9 597.5 680.2 600.5 679.6 608.5 674.0 613.5 672.6 658.5 672.5 665.5 673.2 670.5 675.1 675.5 679.0 678.2 682.5 680.7 688.5 682.5 690.6 694.5 697.0 704.5 700.8 708.5 703.2 711.5 706.3 713.2 709.5 714.0 713.5 714.8 725.5 716.1 729.5 719.1 735.5 720.0 739.5 719.8 748.5 721.1 758.5 720.9 762.5 719.0 766.5 711.5 774.5 709.8 779.5 709.8 782.5 710.6 785.5 714.3 790.5 719.5 794.5 725.3 797.5 736.5 799.8 743.5 802.3 746.5 802.4 750.5 799.7 761.8 786.5 764.0 781.5 766.5 769.0 768.5 764.8 770.5 762.5 772.5 761.6 775.5 762.5 785.5 770.6 789.3 775.5 790.9 780.5 790.8 785.5 787.5 799.4 786.1 816.5 783.4 833.5 779.5 845.5ZM838.5 820.3 836.4 816.5 835.6 810.5 836.2 802.5 837.3 799.5 838.5 798.0 838.5 820.3Z"/><path fill-rule="evenodd" fill="#f1bebe" d="M745.5 568.5 721.5 568.6 714.5 567.4 710.5 565.0 707.2 561.5 702.8 555.5 700.9 550.5 759.6 550.5 758.7 558.5 757.5 561.9 755.9 564.5 753.7 566.5 751.5 567.6 745.5 568.5ZM809.5 652.5 806.5 651.9 804.5 650.5 802.9 646.5 802.9 642.5 804.2 631.5 804.2 616.5 805.2 612.5 806.5 609.9 814.5 596.9 815.7 595.5 817.5 594.6 819.2 595.5 820.1 597.5 820.2 603.5 818.5 609.4 813.8 619.5 812.7 625.5 813.4 629.5 816.6 637.5 817.0 644.5 816.3 647.5 814.5 650.5 812.5 651.9 809.5 652.5ZM682.5 801.7 679.5 802.2 675.5 801.1 666.0 797.5 658.5 793.3 655.5 792.2 630.5 792.0 620.5 789.4 608.5 788.5 605.5 787.5 598.5 783.8 588.5 781.8 585.5 780.1 579.5 774.5 573.8 770.5 571.8 768.5 570.3 765.5 569.3 758.5 568.5 756.9 567.5 756.4 566.5 756.9 565.8 758.5 564.7 767.5 563.5 769.5 561.5 771.2 555.5 772.8 543.5 772.5 543.5 667.6 550.5 666.4 554.5 666.7 558.5 668.7 565.5 674.8 568.5 676.7 572.5 677.7 581.5 676.7 585.5 677.2 588.5 678.8 594.5 684.4 597.5 685.4 600.5 684.6 608.5 678.7 612.5 677.5 619.5 677.3 630.5 676.0 643.5 675.8 666.5 677.5 669.5 678.8 672.6 681.5 674.2 684.5 675.2 690.5 677.5 693.2 686.5 696.7 693.5 700.2 702.5 703.2 707.4 706.5 709.7 709.5 710.9 712.5 712.2 726.5 715.5 738.5 715.2 750.5 715.8 759.5 715.3 762.5 713.8 765.5 703.6 779.5 701.5 781.3 695.5 784.7 690.5 789.3 687.2 793.5 684.5 799.5 682.5 801.7ZM776.5 845.5 758.3 845.5 755.1 841.5 749.5 836.1 746.5 833.6 743.5 832.0 740.5 831.8 723.5 832.8 718.5 832.0 715.4 830.5 712.5 827.6 711.0 824.5 710.2 820.5 710.5 804.5 711.4 800.5 712.5 798.8 714.5 797.8 716.5 797.9 725.5 800.6 736.5 802.1 744.5 805.2 747.5 804.8 750.5 802.3 762.5 787.5 764.9 782.5 768.5 769.5 770.5 766.8 773.5 765.5 775.5 765.9 778.5 767.3 785.5 772.2 788.5 776.5 789.7 781.5 789.4 785.5 786.9 797.5 785.5 815.5 782.7 831.5 780.5 838.9 777.2 845.5 776.5 845.5ZM838.5 817.9 837.1 814.5 836.6 809.5 837.1 803.5 838.5 799.9 838.5 817.9Z"/><path fill-rule="evenodd" fill="#eeb0b0" d="M749.5 565.6 742.5 566.3 724.5 566.2 716.5 565.1 712.5 562.6 709.8 559.5 706.9 554.5 705.8 550.5 758.0 550.5 757.4 556.5 756.0 560.5 753.5 563.7 749.5 565.6ZM811.5 649.9 809.5 650.4 806.9 649.5 805.5 647.6 805.0 645.5 805.2 641.5 806.5 637.2 808.5 634.1 809.5 633.7 810.5 634.0 812.5 635.8 814.0 638.5 814.7 641.5 814.3 646.5 813.2 648.5 811.5 649.9ZM678.5 795.5 675.5 796.1 671.5 795.2 667.8 793.5 661.5 789.0 657.5 787.9 631.5 787.8 610.5 785.5 606.5 783.6 600.5 778.6 590.5 777.1 587.5 775.2 578.5 765.9 577.1 762.5 576.1 754.5 574.9 751.5 572.5 749.0 569.5 747.9 564.5 748.0 561.5 750.0 560.3 753.5 559.4 763.5 558.5 765.6 556.7 767.5 552.5 768.7 543.5 767.8 543.5 672.2 551.5 671.1 555.5 671.8 558.5 673.7 566.5 680.6 571.5 682.8 575.5 683.0 581.5 682.0 584.5 682.4 587.5 684.5 591.5 689.7 593.5 690.9 595.5 691.3 599.5 690.2 607.5 684.1 611.5 682.4 618.5 681.6 630.5 679.0 644.5 678.7 650.5 679.3 666.5 683.3 668.4 685.5 670.2 691.5 673.3 694.5 684.5 699.2 691.5 703.5 700.3 705.5 704.5 708.0 707.5 711.8 709.0 717.5 709.3 727.5 710.7 739.5 710.4 750.5 710.8 759.5 710.3 762.5 708.4 766.5 703.5 772.9 700.5 775.6 692.5 780.3 678.5 795.5ZM773.5 845.5 762.6 845.5 752.3 835.5 746.5 828.8 743.5 826.8 741.5 826.5 733.5 827.6 724.5 827.6 721.5 827.5 718.5 826.5 715.7 823.5 714.9 818.5 715.5 807.5 716.5 805.2 718.5 803.8 733.5 804.0 737.5 805.0 744.5 808.7 746.5 808.7 748.5 807.5 763.8 787.5 765.8 783.5 768.5 774.7 770.1 771.5 772.2 769.5 774.5 768.8 779.5 770.1 784.8 773.5 787.5 777.5 788.3 782.5 785.9 797.5 784.6 816.5 782.0 830.5 779.0 838.5 774.0 845.5 773.5 845.5ZM838.5 814.6 837.8 809.5 838.5 803.3 838.5 814.6Z"/><path fill-rule="evenodd" fill="#eba0a0" d="M747.5 563.6 735.5 564.2 723.5 563.6 718.5 562.6 715.5 560.9 713.4 558.5 711.4 554.5 710.6 550.5 756.3 550.5 755.8 555.5 754.2 559.5 751.5 562.1 747.5 563.6ZM810.5 645.7 809.5 646.0 808.5 645.1 808.5 643.1 809.5 641.8 810.5 642.0 811.1 643.5 810.5 645.7ZM663.5 783.6 655.5 784.1 629.5 784.2 616.7 782.5 612.5 780.7 611.0 778.5 610.5 776.5 610.3 760.5 609.5 756.6 607.5 753.9 602.5 749.7 601.1 747.5 600.2 744.5 599.5 737.7 598.5 735.5 596.5 734.1 594.5 733.5 585.5 733.2 580.5 733.7 577.5 735.2 573.5 739.9 571.2 741.5 567.5 742.5 559.5 742.8 557.2 743.5 556.2 744.5 555.5 746.5 555.9 757.5 555.5 760.0 554.5 762.0 551.5 763.7 543.5 762.9 543.5 675.8 551.5 675.4 555.5 676.5 571.6 689.5 577.5 694.9 580.5 696.6 584.5 697.2 593.5 697.2 597.5 696.5 600.5 695.0 606.5 689.4 609.5 687.4 627.5 682.0 641.5 681.3 648.5 681.9 654.4 684.5 669.8 695.5 683.1 701.5 686.2 704.5 689.5 710.5 690.5 711.0 695.5 709.0 697.5 708.7 700.5 709.4 702.5 710.7 705.1 714.5 706.0 719.5 705.7 749.5 706.1 759.5 705.7 762.5 704.4 765.5 701.5 769.3 698.5 771.4 690.5 773.3 688.0 774.5 683.5 779.9 680.5 781.9 663.5 783.6ZM770.5 843.6 767.5 843.8 764.5 842.6 759.5 839.3 754.5 835.0 749.1 827.5 746.1 820.5 745.5 817.5 756.0 799.5 765.2 787.5 771.0 774.5 773.5 772.3 776.5 771.8 780.5 772.8 783.4 774.5 785.1 776.5 786.4 779.5 786.6 783.5 785.1 795.5 784.3 812.5 782.4 824.5 779.5 834.5 775.5 840.2 770.5 843.6ZM736.5 822.7 732.5 823.3 728.5 822.9 725.5 822.2 722.7 820.5 721.5 818.5 720.8 815.5 721.3 811.5 722.4 809.5 726.3 807.5 731.5 806.8 736.1 807.5 739.5 809.6 742.6 813.5 744.0 817.5 741.1 820.5 736.5 822.7Z"/><path fill-rule="evenodd" fill="#e89090" d="M745.5 561.7 734.5 562.1 726.5 561.3 721.5 560.1 718.7 558.5 717.0 556.5 716.0 553.5 715.6 550.5 754.4 550.5 753.6 555.5 751.9 558.5 749.3 560.5 745.5 561.7ZM659.5 780.7 653.5 781.4 629.5 781.4 622.5 780.2 618.5 778.3 616.5 775.5 615.8 772.5 615.7 757.5 615.0 752.5 613.5 750.0 608.5 746.3 606.5 743.6 605.1 733.5 604.0 730.5 601.5 728.1 598.5 727.1 584.5 726.8 576.5 727.4 573.5 728.8 568.7 735.5 566.5 737.1 563.5 737.7 554.5 737.6 551.0 738.5 549.0 740.5 548.5 742.5 550.0 752.5 549.5 755.5 547.5 756.9 543.5 757.1 543.5 678.8 550.5 678.9 555.5 680.7 576.5 700.7 580.5 703.0 583.5 703.6 595.5 702.9 600.5 701.7 603.5 699.4 607.8 693.5 610.5 691.1 626.5 684.7 633.5 683.7 646.5 684.4 650.5 686.2 658.7 692.5 669.0 697.5 678.5 701.3 681.5 703.3 684.0 707.5 685.5 717.2 686.5 719.0 688.5 720.7 690.5 721.3 692.5 720.9 697.5 716.6 699.7 716.5 700.9 718.5 701.2 721.5 700.3 732.5 700.4 759.5 699.3 763.5 697.5 765.5 695.5 766.5 688.5 767.2 685.5 768.1 683.5 769.5 679.5 774.5 677.5 775.9 668.5 777.8 659.5 780.7ZM769.5 840.5 766.5 840.3 762.5 838.7 758.5 836.1 754.8 832.5 752.6 829.5 750.8 825.5 749.9 821.5 750.1 817.5 752.1 810.5 755.8 802.5 758.9 797.5 766.0 788.5 771.5 778.2 774.5 775.4 778.5 774.9 782.5 776.8 783.8 778.5 784.6 781.5 783.1 816.5 780.8 827.5 778.5 833.6 774.5 838.4 771.5 840.1 769.5 840.5ZM733.5 817.6 731.5 817.5 729.4 816.5 728.5 814.5 729.6 812.5 732.5 811.5 735.5 812.9 736.1 815.5 735.5 816.5 733.5 817.6Z"/><path fill-rule="evenodd" fill="#e57c7c" d="M744.5 559.6 740.5 560.2 735.5 560.1 726.5 558.2 722.4 555.5 721.4 553.5 720.8 550.5 752.0 550.5 751.5 553.6 750.0 556.5 747.5 558.5 744.5 559.6ZM559.5 733.7 552.5 733.8 543.5 732.6 543.5 681.5 550.5 682.2 555.0 684.5 569.5 699.1 573.1 703.5 575.3 707.5 575.6 712.5 573.7 717.5 564.5 731.5 562.5 732.9 559.5 733.7ZM655.5 778.6 628.5 778.4 623.2 776.5 621.5 774.8 620.5 772.6 620.1 769.5 620.9 752.5 620.6 748.5 618.5 744.9 612.5 739.9 610.9 735.5 610.0 700.5 611.1 696.5 613.5 693.5 618.7 690.5 626.5 687.0 630.5 686.1 634.5 686.0 641.5 686.5 645.5 687.3 656.7 694.5 676.5 702.5 679.4 704.5 681.2 707.5 682.1 718.5 685.1 726.5 686.0 730.5 685.6 740.5 684.8 745.5 682.8 749.5 676.1 757.5 675.3 760.5 674.9 767.5 673.3 770.5 662.5 776.5 655.5 778.6ZM771.5 837.5 768.5 838.0 764.5 837.1 760.5 835.1 757.2 832.5 754.7 829.5 753.2 826.5 752.2 822.5 752.1 818.5 754.3 809.5 759.2 799.5 772.5 781.2 774.5 779.4 777.5 778.5 780.5 779.8 782.0 783.5 782.9 802.5 782.5 814.5 780.6 824.5 778.5 830.8 775.5 835.1 771.5 837.5Z"/><path fill-rule="evenodd" fill="#e26868" d="M742.5 557.7 736.5 558.1 730.5 556.5 727.5 554.3 725.8 550.5 749.1 550.5 748.3 553.5 746.8 555.5 742.5 557.7ZM558.5 730.6 552.5 730.7 543.5 727.7 543.5 684.1 549.5 685.1 553.4 687.5 566.5 700.8 570.1 706.5 570.6 711.5 568.8 717.5 563.0 727.5 560.8 729.5 558.5 730.6ZM656.5 775.7 651.5 776.1 631.5 775.6 627.5 774.2 625.3 771.5 624.9 768.5 626.0 751.5 625.6 747.5 623.6 743.5 617.1 736.5 615.6 732.5 615.9 710.5 615.1 700.5 615.7 697.5 617.9 694.5 622.3 691.5 626.5 689.5 630.5 688.5 634.5 688.3 643.5 690.0 653.2 695.5 674.1 703.5 677.0 705.5 678.8 708.5 678.9 719.5 680.3 731.5 680.3 740.5 679.5 744.5 677.9 747.5 671.2 755.5 670.2 758.5 669.4 765.5 667.9 768.5 662.5 773.1 656.5 775.7ZM769.5 835.6 766.5 835.4 763.5 834.4 760.5 832.8 757.5 830.2 755.7 827.5 754.5 824.5 754.1 817.5 756.4 808.5 760.9 799.5 771.5 786.3 774.5 784.0 776.5 783.6 778.1 784.5 779.4 786.5 781.0 793.5 782.0 805.5 781.6 815.5 779.6 824.5 777.5 829.9 774.5 833.6 772.5 834.8 769.5 835.6Z"/><path fill-rule="evenodd" fill="#df5252" d="M738.5 555.6 733.5 554.4 731.4 552.5 730.5 550.5 745.4 550.5 744.5 552.6 742.5 554.5 738.5 555.6ZM557.5 727.9 555.5 728.3 552.5 728.0 543.5 723.8 543.5 687.2 547.5 688.0 550.5 689.8 556.1 696.5 563.5 702.7 566.5 707.5 567.0 712.5 565.2 718.5 561.5 724.9 559.5 726.9 557.5 727.9ZM655.5 772.6 650.5 772.9 635.5 772.2 632.5 771.1 630.6 768.5 630.3 746.5 628.2 742.5 621.7 735.5 620.3 732.5 620.0 729.5 620.8 711.5 620.0 699.5 621.2 696.5 623.0 694.5 628.5 691.5 634.5 690.9 641.5 692.4 651.5 697.3 662.5 700.7 669.3 703.5 673.5 705.9 675.6 708.5 676.0 711.5 674.9 720.5 676.0 739.5 675.4 743.5 673.7 746.5 667.3 753.5 666.2 756.5 665.3 763.5 663.5 767.4 660.2 770.5 655.5 772.6ZM771.5 832.8 768.5 833.2 765.5 832.8 762.5 831.6 759.5 829.5 757.5 827.0 756.4 824.5 755.7 818.5 757.7 809.5 762.1 800.5 769.5 791.4 772.5 789.0 774.5 788.3 776.5 789.0 777.5 790.0 779.5 794.8 780.8 803.5 780.9 812.5 779.7 820.5 777.5 827.0 774.5 831.1 771.5 832.8Z"/><path fill-rule="evenodd" fill="#dc3c3c" d="M544.5 694.6 543.5 695.2 543.5 692.8 544.6 693.5 544.5 694.6ZM655.5 767.5 651.5 768.2 641.5 767.7 638.1 766.5 636.5 764.4 635.8 760.5 635.5 747.5 634.7 742.5 633.1 739.5 626.9 734.5 625.2 730.5 625.6 710.5 624.9 700.5 625.4 698.5 626.5 696.7 629.8 694.5 633.5 693.8 637.5 694.3 649.5 699.0 661.5 702.3 668.2 705.5 670.6 707.5 671.7 709.5 671.8 712.5 670.4 721.5 670.7 741.5 669.2 744.5 662.3 750.5 661.1 753.5 660.4 760.5 659.7 763.5 658.4 765.5 655.5 767.5ZM555.5 725.6 553.5 725.5 550.9 724.5 543.5 718.9 543.5 715.5 543.5 712.8 546.5 710.6 552.5 704.2 555.5 703.2 558.5 703.9 561.5 706.1 563.5 709.5 563.9 712.5 563.2 716.5 560.9 721.5 558.5 724.3 555.5 725.6ZM770.5 830.7 765.5 830.4 762.5 829.1 760.5 827.5 758.1 823.5 757.5 817.5 759.5 809.5 763.5 801.6 768.5 795.3 771.5 793.0 773.5 792.4 775.5 793.0 776.5 793.9 778.5 798.0 779.7 804.5 779.9 812.5 778.6 820.5 776.5 825.9 773.5 829.4 770.5 830.7Z"/><path fill-rule="evenodd" fill="#da2626" d="M650.5 751.6 646.5 752.3 644.5 751.9 642.5 750.5 640.7 746.5 640.0 738.5 639.0 735.5 637.5 733.7 632.5 730.1 631.0 727.5 630.1 720.5 630.3 703.5 631.0 700.5 633.5 698.3 638.5 698.2 647.5 701.1 659.5 703.6 665.2 706.5 667.5 709.5 667.8 713.5 666.2 723.5 664.8 737.5 662.8 740.5 657.7 744.5 653.3 749.5 650.5 751.6ZM556.5 721.9 554.5 722.4 552.0 721.5 550.0 719.5 548.9 716.5 549.2 714.5 551.0 711.5 553.5 709.3 555.5 708.5 557.5 708.7 558.8 709.5 560.2 711.5 560.6 713.5 559.5 718.5 556.5 721.9ZM771.5 827.9 769.5 828.3 766.5 828.0 762.5 826.1 760.0 822.5 759.4 817.5 761.1 810.5 765.5 802.5 769.5 797.9 771.5 796.7 773.5 796.4 775.5 797.6 777.5 801.5 778.5 806.5 778.7 812.5 778.0 817.5 776.5 822.5 774.5 825.8 771.5 827.9Z"/><path fill-rule="evenodd" fill="#d81010" d="M650.5 742.8 648.5 743.5 646.9 742.5 645.0 732.5 642.8 729.5 637.8 725.5 636.1 722.5 635.5 717.5 635.9 708.5 636.9 705.5 638.5 704.1 640.5 703.8 657.5 705.3 662.3 707.5 664.3 710.5 664.6 713.5 664.1 716.5 660.8 726.5 659.2 733.5 656.5 737.5 650.5 742.8ZM769.5 825.5 766.5 825.1 763.5 823.2 762.0 820.5 761.7 816.5 763.0 811.5 765.5 806.9 769.5 802.4 772.5 801.1 774.5 802.0 776.5 805.7 777.2 809.5 777.1 814.5 776.2 818.5 774.5 822.5 772.5 824.5 769.5 825.5Z"/><path fill-rule="evenodd" fill="#cc0808" d="M657.5 720.6 655.5 721.3 653.5 720.9 651.6 719.5 650.3 717.5 649.3 714.5 649.4 711.5 650.5 709.5 652.1 708.5 654.5 708.0 657.5 708.3 660.5 710.5 661.2 712.5 660.9 715.5 659.5 718.6 657.5 720.6ZM770.5 821.9 767.5 821.6 765.9 820.5 764.8 818.5 764.6 815.5 765.5 812.4 767.5 809.3 770.5 806.8 772.5 806.6 773.8 807.5 774.8 809.5 775.1 814.5 773.5 819.5 772.5 820.7 770.5 821.9Z"/><path fill-rule="evenodd" fill="#f2f2fe" d="M547.5 579.5 543.5 580.4 543.5 550.5 654.1 550.5 652.8 555.5 650.5 558.3 647.5 559.8 638.7 562.5 631.5 568.7 627.5 570.5 604.5 573.0 561.5 572.7 556.5 574.2 547.5 579.5ZM787.5 592.5 781.5 592.2 776.5 590.0 769.5 583.1 766.5 578.9 765.4 572.5 766.4 550.5 838.5 550.5 838.5 582.4 833.5 583.4 825.5 581.1 818.5 581.3 812.5 583.6 804.5 589.7 801.5 591.3 797.5 592.1 787.5 592.5ZM838.5 845.5 786.9 845.5 787.6 827.5 789.7 805.5 791.1 798.5 795.2 787.5 795.6 784.5 795.1 780.5 793.9 776.5 791.5 772.0 784.0 762.5 779.3 755.5 769.5 744.9 765.5 741.7 762.5 740.5 759.5 740.6 757.5 741.9 756.4 744.5 756.6 747.5 759.5 754.5 760.4 759.5 759.2 778.5 758.5 781.5 756.5 785.1 750.5 789.6 745.5 791.4 742.5 791.0 736.5 789.1 733.5 787.5 731.6 785.5 730.5 781.5 731.0 776.5 736.2 754.5 739.1 747.5 739.5 744.5 738.1 741.5 727.1 728.5 724.3 722.5 724.2 705.5 723.2 700.5 720.5 692.5 720.1 689.5 721.5 673.5 721.9 660.5 721.1 657.5 719.5 655.3 717.5 654.2 714.5 653.5 700.5 653.1 684.5 650.6 665.5 651.4 573.5 651.5 569.5 651.1 556.5 648.1 543.5 648.1 543.5 608.8 615.5 608.8 625.5 607.1 636.5 606.3 640.5 604.5 646.5 600.1 650.5 598.8 663.5 598.8 685.5 597.1 688.3 595.5 692.9 589.5 695.5 588.1 698.5 587.4 753.5 588.0 757.5 589.0 760.2 590.5 770.7 600.5 773.6 605.5 774.4 612.5 774.3 620.5 773.5 624.5 768.5 637.4 764.5 645.9 761.5 649.8 756.5 653.6 747.0 662.5 744.7 666.5 744.3 670.5 745.4 674.5 753.5 684.7 755.5 685.3 757.5 683.0 761.7 665.5 763.3 662.5 765.5 660.7 768.5 660.1 778.5 660.7 793.5 657.5 807.5 659.2 814.5 658.8 819.7 657.5 823.9 655.5 830.5 649.0 832.5 647.7 834.5 647.4 838.5 648.2 838.5 793.6 835.5 795.5 833.4 798.5 832.4 802.5 832.1 810.5 832.5 816.8 833.8 822.5 836.5 828.8 838.5 830.9 838.5 845.5ZM673.5 845.5 560.0 845.5 551.6 835.5 549.8 831.5 548.8 827.5 548.3 817.5 552.0 796.5 554.6 793.5 558.5 792.0 566.5 791.4 574.5 792.1 587.5 797.2 595.5 799.6 601.5 800.7 612.5 801.6 617.5 802.7 642.5 813.8 658.5 817.6 666.5 822.0 670.6 826.5 672.6 831.5 674.0 837.5 674.3 845.5 673.5 845.5Z"/><path fill-rule="evenodd" fill="#e6e6fc" d="M546.5 573.8 543.5 574.4 543.5 550.5 644.6 550.5 642.1 553.5 634.5 557.0 628.5 561.2 625.5 562.5 617.5 563.6 605.5 566.3 560.5 567.3 556.4 568.5 546.5 573.8ZM797.5 587.5 787.5 587.0 782.5 585.6 779.5 583.5 770.5 574.3 769.0 571.5 768.2 567.5 767.9 550.5 838.5 550.5 838.5 572.5 836.5 573.0 829.5 576.9 814.5 580.7 803.5 586.5 797.5 587.5ZM744.5 652.8 740.5 653.3 736.5 652.8 723.5 648.6 717.5 647.3 700.5 646.7 688.5 645.1 676.5 644.6 663.5 641.4 652.5 642.5 543.5 642.3 543.5 617.6 614.5 617.7 627.5 613.8 640.5 612.4 651.5 607.3 655.5 607.2 663.5 608.8 666.5 607.9 671.5 605.1 675.5 603.6 690.5 602.2 693.6 600.5 697.5 594.5 699.5 593.1 701.5 592.5 742.5 592.5 749.5 593.0 753.5 594.1 757.0 596.5 761.0 601.5 764.5 607.5 765.1 611.5 764.4 620.5 765.2 631.5 764.2 635.5 761.5 639.7 754.5 644.7 748.5 650.6 744.5 652.8ZM833.5 845.5 788.6 845.5 788.3 828.5 790.1 807.5 791.7 799.5 796.3 787.5 796.6 783.5 795.5 778.5 792.2 771.5 785.3 762.5 780.1 754.5 766.5 739.7 760.5 736.0 756.5 734.7 753.6 735.5 748.5 739.0 746.5 739.4 743.5 738.8 739.5 737.2 735.5 734.6 731.5 730.9 728.9 727.5 727.3 724.5 726.4 720.5 727.1 706.5 725.2 689.5 726.5 683.1 728.5 679.8 730.5 678.1 732.5 677.5 734.5 677.9 742.5 682.7 746.5 686.3 751.5 693.5 754.5 695.4 756.5 695.3 758.5 693.7 759.5 692.0 763.5 679.1 767.3 670.5 769.3 667.5 772.0 665.5 792.5 659.5 797.5 659.3 807.5 660.3 813.5 660.1 822.5 658.5 832.5 654.6 838.5 654.8 838.5 792.8 835.5 794.3 833.4 796.5 832.0 799.5 831.5 802.5 831.6 816.5 835.2 836.5 835.0 840.5 833.5 845.5ZM750.5 786.5 744.5 787.4 738.5 786.1 734.9 783.5 733.5 779.5 734.5 771.7 739.5 757.3 741.5 754.4 743.5 752.7 746.5 751.1 748.5 750.8 751.5 751.7 755.5 755.2 757.2 758.5 757.9 762.5 757.6 776.5 756.9 780.5 754.5 784.2 750.5 786.5ZM664.5 845.5 569.6 845.5 566.7 840.5 558.2 831.5 555.4 825.5 554.6 818.5 557.1 799.5 558.5 797.3 561.5 795.3 566.5 794.4 571.5 794.7 576.6 796.5 583.5 801.0 589.5 802.8 596.5 804.0 610.5 804.2 617.0 805.5 623.8 808.5 635.5 816.8 639.5 817.8 649.5 818.8 654.5 820.2 662.8 825.5 665.5 828.9 665.9 832.5 664.1 840.5 664.5 845.5Z"/><path fill-rule="evenodd" fill="#dbdbfa" d="M546.5 569.5 543.5 570.2 543.5 550.5 586.4 550.5 586.4 555.5 585.9 558.5 584.5 560.3 582.5 561.5 575.5 562.8 563.5 562.6 559.5 563.0 555.5 564.5 546.5 569.5ZM802.5 583.7 794.5 583.8 787.5 582.1 784.5 580.1 779.3 574.5 773.5 569.9 771.5 567.1 770.4 563.5 769.6 550.5 838.1 550.5 837.4 555.5 836.0 559.5 831.0 569.5 828.5 572.8 824.3 575.5 802.5 583.7ZM730.5 641.8 727.5 642.1 724.5 641.4 721.6 639.5 718.5 635.8 716.5 634.2 707.5 632.0 700.5 627.3 698.5 626.8 696.5 628.3 694.9 636.5 692.5 639.2 686.5 640.7 678.5 640.3 674.2 638.5 663.2 630.5 661.2 627.5 660.9 623.5 661.7 621.5 663.3 619.5 668.7 615.5 676.5 608.5 681.5 607.1 691.5 607.3 695.5 606.8 699.1 604.5 703.5 599.1 706.5 597.7 712.5 597.2 732.5 597.8 743.5 597.3 749.5 598.3 751.7 599.5 753.6 601.5 755.5 606.5 755.7 622.5 754.8 627.5 753.5 629.8 750.5 631.9 739.5 633.7 737.5 635.3 733.5 640.3 730.5 641.8ZM828.5 845.5 790.4 845.5 789.2 828.5 790.8 807.5 792.2 800.5 796.8 789.5 797.6 785.5 797.1 780.5 794.8 774.5 780.5 753.2 769.5 740.2 761.8 732.5 757.5 725.0 756.5 724.5 755.5 724.8 749.5 731.0 746.5 733.2 744.5 733.9 741.5 734.1 737.5 732.9 733.5 730.0 730.7 726.5 729.1 722.5 728.7 718.5 730.1 706.5 730.3 694.5 731.1 691.5 732.5 689.3 734.5 688.1 736.5 687.8 739.5 688.2 741.5 689.2 743.5 691.0 749.1 698.5 757.5 706.7 758.5 707.1 760.5 705.2 761.9 701.5 765.3 683.5 767.1 679.5 769.5 675.9 773.7 670.5 777.1 667.5 785.2 663.5 792.5 661.2 797.5 660.8 811.5 661.4 838.5 659.5 838.5 792.0 835.3 793.5 833.0 795.5 831.7 797.5 830.8 800.5 830.6 814.5 832.2 830.5 831.3 836.5 829.0 845.5 828.5 845.5ZM750.5 782.6 744.5 783.0 740.5 782.5 737.5 780.5 736.4 777.5 737.2 771.5 740.5 764.1 743.5 760.0 747.5 758.1 750.5 758.3 752.7 759.5 754.5 761.9 755.4 765.5 755.4 773.5 754.7 778.5 753.5 780.8 750.5 782.6ZM568.5 812.7 565.5 812.6 563.2 811.5 561.5 809.4 560.7 806.5 560.8 803.5 562.0 800.5 563.5 799.1 566.5 798.0 569.5 798.1 572.7 799.5 574.5 801.5 575.4 804.5 575.0 807.5 573.5 810.1 571.5 811.6 568.5 812.7ZM617.5 823.7 610.5 823.8 607.5 823.1 604.4 821.5 602.4 819.5 600.9 816.5 600.4 813.5 601.3 810.5 604.5 808.2 610.5 807.5 616.5 808.7 621.5 811.5 623.9 814.5 624.3 818.5 622.5 821.5 617.5 823.7ZM650.5 833.7 645.5 833.6 642.1 831.5 640.9 829.5 640.5 827.5 640.8 825.5 642.3 823.5 644.5 822.4 648.5 822.2 652.3 823.5 654.4 825.5 655.4 828.5 654.9 830.5 653.2 832.5 650.5 833.7Z"/><path fill-rule="evenodd" fill="#d0d0f8" d="M546.5 565.7 543.5 566.4 543.5 550.5 579.6 550.5 578.7 554.5 576.5 556.6 572.5 557.4 564.5 556.8 560.5 557.3 556.5 559.2 549.5 564.2 546.5 565.7ZM804.5 580.7 799.5 581.2 794.5 580.5 790.5 579.1 787.5 577.0 781.5 570.7 775.5 565.7 773.8 563.5 772.1 558.5 771.5 550.5 834.1 550.5 833.3 555.5 830.9 562.5 828.2 568.5 825.9 571.5 820.5 575.0 804.5 580.7ZM685.5 635.6 681.5 635.9 677.9 634.5 670.8 628.5 668.9 625.5 669.9 622.5 679.5 613.3 683.5 612.3 693.5 613.4 697.5 613.0 702.5 610.0 708.5 603.9 712.5 602.6 743.5 602.3 747.3 603.5 749.5 606.1 750.4 610.5 750.2 621.5 749.1 624.5 746.6 626.5 735.5 628.4 733.3 629.5 729.5 633.0 727.5 633.5 720.5 628.4 710.5 626.1 707.7 624.5 701.5 619.4 698.5 618.2 696.5 618.2 693.5 619.5 691.5 621.6 689.8 625.5 688.5 633.0 687.4 634.5 685.5 635.6ZM826.5 845.5 792.1 845.5 790.1 829.5 791.3 809.5 793.0 800.5 798.2 788.5 798.6 784.5 798.0 780.5 796.1 775.5 792.8 769.5 781.3 752.5 765.0 732.5 763.5 729.5 762.4 725.5 762.3 716.5 766.0 702.5 766.7 689.5 768.5 683.5 777.7 671.5 780.7 668.5 787.5 664.6 794.5 662.5 821.5 662.2 832.5 663.6 838.5 663.6 838.5 791.2 835.4 792.5 832.7 794.5 831.1 796.5 830.0 799.5 829.8 813.5 830.6 829.5 829.7 834.5 826.5 845.5ZM742.5 730.7 738.5 730.4 735.5 728.7 732.7 725.5 731.3 721.5 731.6 715.5 735.6 699.5 736.5 697.1 738.5 696.1 740.5 697.1 750.3 705.5 752.3 708.5 753.4 712.5 752.9 718.5 750.7 723.5 746.5 728.6 742.5 730.7ZM748.5 776.7 743.5 777.4 741.6 776.5 740.8 774.5 741.4 771.5 743.1 768.5 745.5 766.0 747.5 765.1 749.5 765.3 750.5 766.2 751.5 769.5 750.8 774.5 748.5 776.7ZM614.5 816.7 612.5 816.9 610.9 816.5 609.5 814.5 610.1 813.5 611.5 813.0 614.4 813.5 615.5 814.5 615.6 815.5 614.5 816.7Z"/><path fill-rule="evenodd" fill="#c2c2f7" d="M545.5 561.9 543.5 562.4 543.5 550.5 554.7 550.5 553.5 554.5 551.5 557.5 548.5 560.3 545.5 561.9ZM803.5 578.5 799.5 578.5 795.5 577.7 790.1 574.5 776.5 561.1 774.5 556.7 773.8 550.5 831.4 550.5 830.8 555.5 828.6 562.5 826.3 567.5 823.9 570.5 821.4 572.5 817.3 574.5 808.5 577.5 803.5 578.5ZM739.5 622.7 730.5 623.2 727.5 622.6 724.5 621.3 722.3 619.5 720.9 616.5 720.7 613.5 721.9 610.5 724.5 608.4 729.5 607.1 737.5 607.1 742.6 608.5 744.8 611.5 745.2 617.5 743.5 621.0 739.5 622.7ZM824.5 845.5 794.0 845.5 791.8 836.5 791.0 829.5 791.9 810.5 793.5 801.5 799.3 788.5 799.7 785.5 799.2 781.5 797.5 776.5 794.3 770.5 782.6 752.5 775.3 743.5 768.1 733.5 766.0 729.5 765.0 725.5 765.0 716.5 768.8 703.5 769.3 691.5 770.5 686.5 780.5 672.5 783.3 669.5 788.5 666.2 795.5 663.9 800.5 663.5 819.5 663.8 824.0 664.5 832.5 666.9 838.5 667.5 838.5 790.5 835.5 791.5 832.4 793.5 830.5 795.5 829.1 798.5 828.8 802.5 829.3 828.5 828.1 834.5 824.5 845.5ZM740.5 727.5 737.5 726.7 735.2 724.5 734.0 721.5 734.1 717.5 735.5 712.8 737.5 709.3 740.5 706.8 743.5 706.4 746.5 707.6 748.6 709.5 749.9 712.5 750.0 716.5 748.7 720.5 746.5 724.0 743.5 726.6 740.5 727.5Z"/><path fill-rule="evenodd" fill="#b4b4f6" d="M543.5 556.8 543.5 550.5 548.2 550.5 546.8 554.5 543.5 556.8ZM808.5 575.6 804.5 576.2 800.5 576.1 796.5 574.9 793.5 573.0 779.5 559.1 777.6 555.5 776.8 550.5 829.2 550.5 828.6 555.5 827.3 560.5 825.3 565.5 823.3 568.5 821.2 570.5 817.9 572.5 808.5 575.6ZM735.5 616.9 733.5 617.2 731.0 616.5 730.0 615.5 729.8 614.5 730.3 613.5 733.5 612.5 736.3 613.5 737.0 615.5 735.5 616.9ZM822.5 845.5 795.8 845.5 793.3 837.5 792.1 830.5 791.8 823.5 792.4 812.5 794.1 802.5 800.1 789.5 800.7 785.5 800.2 781.5 798.0 775.5 794.5 769.2 783.9 752.5 776.0 742.5 770.8 734.5 768.3 729.5 767.2 724.5 767.3 716.5 771.5 703.5 772.0 692.5 773.5 687.7 782.1 674.5 785.5 670.6 791.5 666.9 797.5 665.2 811.5 664.9 819.5 665.4 838.5 671.7 838.5 789.7 832.2 792.5 829.9 794.5 828.1 797.5 827.7 800.5 828.2 827.5 826.3 835.5 823.0 845.5 822.5 845.5ZM742.5 721.6 740.5 722.3 739.5 722.0 738.4 720.5 738.2 718.5 739.3 715.5 740.5 713.9 743.5 712.9 745.3 714.5 745.5 716.5 744.5 719.3 742.5 721.6Z"/><path fill-rule="evenodd" fill="#a2a2f5" d="M809.5 573.6 802.5 573.9 799.5 573.1 796.8 571.5 790.5 564.5 783.2 557.5 781.4 554.5 780.6 550.5 827.3 550.5 825.8 559.5 824.4 563.5 822.5 566.8 820.5 568.9 817.5 571.0 809.5 573.6ZM820.5 845.5 797.8 845.5 796.1 841.5 794.0 835.5 792.9 828.5 793.2 811.5 794.9 802.5 801.3 789.5 801.8 785.5 801.2 781.5 799.4 776.5 795.6 769.5 785.2 752.5 777.4 742.5 773.1 735.5 770.5 729.5 769.3 723.5 769.5 716.5 773.8 704.5 774.8 693.5 776.5 688.8 783.6 676.5 786.7 672.5 792.6 668.5 800.5 666.4 812.5 666.2 819.5 667.3 825.0 669.5 838.5 676.6 838.5 706.8 837.4 707.5 836.7 709.5 838.5 713.6 838.5 788.9 834.5 790.3 830.6 792.5 828.3 794.5 826.7 797.5 827.4 813.5 827.1 826.5 824.6 836.5 821.3 845.5 820.5 845.5Z"/><path fill-rule="evenodd" fill="#9090f4" d="M811.5 571.6 804.5 571.9 801.5 571.0 799.1 569.5 792.5 560.8 787.7 555.5 786.5 553.5 785.6 550.5 825.4 550.5 824.2 559.5 821.5 565.4 817.5 569.2 811.5 571.6ZM819.5 845.5 799.8 845.5 796.4 838.5 794.6 832.5 793.7 826.5 794.0 810.5 795.8 802.5 802.2 790.5 802.9 786.5 802.5 782.5 800.9 777.5 797.2 770.5 785.8 751.5 778.9 742.5 775.8 737.5 772.9 730.5 771.6 723.5 771.9 716.5 776.3 704.5 778.0 693.5 785.1 678.5 788.0 674.5 792.5 671.0 797.5 668.7 803.5 667.6 812.5 667.7 819.5 669.4 828.8 674.5 835.5 680.4 838.5 681.9 838.5 702.4 833.5 704.4 832.4 705.5 831.7 707.5 831.8 709.5 833.5 713.2 836.5 718.2 838.5 720.4 838.5 788.2 834.5 789.4 830.2 791.5 827.5 793.5 825.4 796.5 825.1 799.5 826.5 811.5 826.1 824.5 824.2 833.5 819.5 845.5Z"/><path fill-rule="evenodd" fill="#7a7af5" d="M812.5 569.7 808.5 570.3 805.5 570.0 802.5 568.8 800.8 567.5 798.4 564.5 794.0 556.5 791.9 550.5 823.7 550.5 823.0 557.5 820.9 563.5 817.5 567.3 812.5 569.7ZM817.5 845.5 802.1 845.5 798.5 839.6 796.7 835.5 795.4 830.5 794.5 823.8 794.8 809.5 796.8 802.5 802.2 793.5 803.5 790.5 804.0 786.5 803.6 782.5 801.9 777.5 798.8 771.5 787.1 751.5 779.7 741.5 777.4 737.5 775.2 731.5 774.0 723.5 773.9 719.5 774.6 715.5 778.5 705.5 781.6 693.5 786.7 680.5 789.6 676.5 794.7 672.5 799.5 670.2 805.5 669.1 813.3 669.5 819.0 671.5 826.8 676.5 834.5 684.5 838.5 686.2 838.5 699.4 834.5 700.7 831.2 702.5 829.3 704.5 828.4 707.5 829.6 711.5 834.5 720.5 836.5 723.1 838.5 724.5 838.5 787.3 833.5 788.9 828.0 791.5 825.3 793.5 823.8 795.5 823.5 798.5 825.5 810.5 825.1 823.5 822.5 834.5 817.5 845.5Z"/><path fill-rule="evenodd" fill="#6464f6" d="M813.5 567.7 810.5 568.4 807.5 568.4 804.7 567.5 802.5 566.0 800.5 563.5 797.8 558.5 796.4 554.5 795.7 550.5 822.0 550.5 821.6 556.5 820.1 561.5 817.5 565.2 813.5 567.7ZM814.5 845.5 804.9 845.5 800.3 839.5 797.5 833.5 795.4 822.5 795.2 815.5 795.6 809.5 797.8 802.5 804.7 791.5 805.4 787.5 805.0 783.5 803.5 778.5 801.1 773.5 788.6 751.5 779.1 737.5 777.2 731.5 776.5 723.5 776.6 718.5 777.4 714.5 784.4 696.5 787.5 685.5 789.3 681.5 792.5 677.7 798.1 673.5 802.6 671.5 807.5 670.8 813.5 671.5 820.5 675.0 825.5 678.9 832.5 687.0 838.5 690.8 838.5 695.6 828.5 701.5 826.7 703.5 825.7 706.5 826.6 710.5 832.9 722.5 835.5 725.9 838.5 727.7 838.5 786.5 833.5 787.9 827.2 790.5 823.7 792.5 821.9 794.5 821.4 797.5 823.8 805.5 824.6 810.5 824.0 823.5 822.5 830.2 820.3 836.5 817.5 841.8 815.0 845.5 814.5 845.5Z"/><path fill-rule="evenodd" fill="#4a4af8" d="M810.5 566.6 806.5 566.1 804.5 565.0 802.5 562.9 799.3 556.5 798.1 550.5 820.4 550.5 819.8 557.5 818.3 561.5 815.5 564.8 813.5 565.9 810.5 566.6ZM810.5 844.6 808.5 844.4 805.5 842.5 802.5 839.5 800.5 836.6 797.5 828.5 796.1 819.5 796.2 811.5 797.5 805.5 799.5 801.6 805.0 794.5 806.5 791.5 806.9 787.5 806.0 782.5 803.4 775.5 790.7 752.5 780.9 737.5 779.3 731.5 779.0 723.5 779.2 717.5 780.2 713.5 787.6 697.5 791.5 684.2 794.4 680.5 800.5 675.4 804.5 673.4 808.5 672.9 814.5 674.3 821.5 678.6 825.4 682.5 832.0 691.5 832.3 694.5 824.2 702.5 823.3 704.5 823.1 707.5 824.1 710.5 832.0 725.5 834.8 728.5 838.5 730.4 838.5 785.5 823.6 790.5 820.2 792.5 818.9 794.5 819.1 797.5 822.3 804.5 823.5 809.5 823.7 815.5 823.0 822.5 821.0 830.5 818.2 837.5 814.5 842.4 812.5 843.9 810.5 844.6Z"/><path fill-rule="evenodd" fill="#3030fa" d="M811.5 564.6 807.5 564.3 803.8 561.5 801.2 556.5 800.1 550.5 818.7 550.5 818.3 556.5 816.9 560.5 814.5 563.3 811.5 564.6ZM812.5 840.7 810.5 841.3 807.5 840.8 804.5 838.7 802.5 836.4 799.0 828.5 797.0 818.5 797.1 811.5 798.6 805.5 801.5 800.9 809.2 792.5 809.3 789.5 808.1 784.5 804.2 774.5 798.3 764.5 791.2 750.5 783.5 738.5 782.0 734.5 781.4 729.5 781.6 719.5 782.4 714.5 784.5 709.1 790.5 698.5 793.8 687.5 796.5 683.6 802.5 677.9 805.5 676.1 808.5 675.5 813.5 676.6 819.5 680.0 823.2 683.5 827.0 689.5 828.0 692.5 827.6 694.5 821.1 702.5 820.4 704.5 820.5 707.5 821.6 710.5 826.3 718.5 830.6 727.5 833.5 730.6 838.5 733.2 838.5 784.4 819.5 790.1 816.7 791.5 815.0 793.5 815.7 796.5 819.7 802.5 821.6 806.5 822.5 810.7 822.6 816.5 821.5 823.7 818.5 833.1 815.5 838.3 812.5 840.7Z"/><path fill-rule="evenodd" fill="#1c1cf5" d="M810.5 562.6 807.5 562.0 804.7 559.5 802.8 555.5 801.9 550.5 817.0 550.5 816.7 555.5 815.5 559.2 813.5 561.5 810.5 562.6ZM820.5 787.5 814.5 788.3 812.5 787.6 811.4 786.5 805.8 774.5 799.8 764.5 793.0 750.5 785.9 738.5 784.1 732.5 784.2 719.5 785.0 714.5 787.1 709.5 792.9 700.5 796.0 690.5 798.5 686.6 803.5 681.7 806.5 679.6 809.5 678.9 813.5 679.6 817.5 681.6 820.5 684.2 822.8 687.5 823.9 690.5 823.9 693.5 817.8 702.5 817.2 705.5 817.5 707.5 818.8 710.5 824.5 719.5 829.5 730.0 833.5 733.7 838.5 736.2 838.5 783.1 820.5 787.5ZM812.5 837.7 810.5 838.3 807.5 837.8 805.5 836.4 803.5 834.1 799.7 825.5 798.0 817.5 798.2 810.5 800.4 804.5 804.5 799.9 809.5 797.3 812.5 797.9 817.7 802.5 820.5 807.3 821.5 812.5 820.8 820.5 818.5 828.5 815.5 834.8 812.5 837.7Z"/><path fill-rule="evenodd" fill="#0808f0" d="M811.5 559.8 808.5 559.7 806.5 558.3 804.5 554.5 803.9 550.5 815.1 550.5 814.3 556.5 813.2 558.5 811.5 559.8ZM826.5 784.6 816.5 785.3 814.5 784.8 812.5 783.3 807.2 773.5 800.5 762.6 788.9 738.5 787.2 733.5 786.9 719.5 788.5 712.9 796.0 702.5 797.8 694.5 799.5 690.5 804.5 685.5 809.5 682.9 812.5 682.8 816.5 684.5 819.2 687.5 820.2 690.5 819.3 694.5 813.6 703.5 813.3 705.5 814.2 708.5 821.9 719.5 826.1 729.5 827.9 732.5 831.5 735.8 838.5 740.2 838.5 781.2 826.5 784.6ZM811.5 834.6 809.5 834.9 807.5 834.3 804.5 831.3 800.5 823.2 799.0 815.5 799.5 809.9 801.5 805.3 805.5 801.4 809.5 800.2 813.5 801.4 817.1 804.5 819.4 808.5 820.2 812.5 819.7 819.5 817.5 826.2 814.5 832.0 811.5 834.6Z"/><path fill-rule="evenodd" fill="#0404d8" d="M810.5 556.0 808.5 555.7 807.5 554.6 806.3 550.5 812.6 550.5 811.8 554.5 810.5 556.0ZM806.5 702.7 804.5 703.3 802.5 701.4 801.3 697.5 801.9 693.5 803.5 691.1 806.5 688.7 809.5 687.4 812.7 687.5 815.1 689.5 815.6 691.5 815.2 693.5 811.5 698.8 806.5 702.7ZM825.5 782.5 817.5 782.3 815.5 781.5 813.3 779.5 809.3 772.5 802.5 762.5 795.3 746.5 791.6 736.5 790.6 731.5 790.2 723.5 790.3 718.5 791.0 715.5 792.5 712.8 794.5 710.6 802.5 705.7 804.5 705.5 805.5 706.1 812.5 712.3 817.3 717.5 820.6 722.5 824.7 733.5 827.2 736.5 833.9 742.5 836.2 746.5 837.5 764.5 837.6 776.5 836.1 778.5 833.0 780.5 825.5 782.5ZM810.5 830.6 807.5 829.8 804.5 826.7 801.5 821.1 800.3 815.5 800.7 810.5 802.5 806.6 805.5 803.8 808.5 802.7 812.5 803.4 815.5 805.5 817.6 808.5 818.7 812.5 818.5 817.5 816.5 823.7 813.5 828.6 810.5 830.6Z"/><path fill-rule="evenodd" fill="#0000c0" d="M825.5 778.7 820.5 778.4 818.3 777.5 816.5 775.9 812.8 770.5 807.5 765.3 804.6 761.5 798.4 748.5 796.7 743.5 795.8 738.5 795.0 721.5 795.4 718.5 796.3 716.5 799.5 714.0 802.5 713.4 806.5 714.2 810.4 716.5 814.5 720.3 817.5 724.5 821.6 735.5 827.9 742.5 829.9 745.5 830.8 749.5 830.8 773.5 829.5 776.8 827.5 778.1 825.5 778.7ZM810.5 825.8 808.5 825.7 805.5 823.5 802.9 819.5 801.9 815.5 802.2 811.5 803.4 808.5 805.5 806.4 808.5 805.3 811.5 805.7 814.5 807.6 816.4 810.5 817.0 813.5 816.6 817.5 815.5 820.7 813.5 823.8 810.5 825.8Z"/><path fill-rule="evenodd" fill="#00009c" d="M818.5 762.6 813.5 763.1 810.5 762.3 808.5 761.1 804.5 756.2 800.6 748.5 799.1 742.5 799.5 736.5 801.5 732.0 803.5 730.0 805.5 728.9 809.5 728.4 811.5 728.9 813.5 730.2 825.0 746.5 825.9 751.5 824.6 757.5 822.5 760.5 818.5 762.6ZM811.5 820.6 809.5 821.2 807.5 820.6 805.5 818.7 804.5 816.7 804.1 814.5 804.5 811.9 805.5 810.1 807.5 808.7 809.5 808.4 811.5 809.0 813.3 810.5 814.3 812.5 814.3 816.5 813.5 818.5 811.5 820.6Z"/><path fill-rule="evenodd" fill="#000078" d="M815.5 757.5 811.5 757.6 808.5 756.1 805.5 752.8 803.1 748.5 801.9 743.5 802.3 739.5 803.9 736.5 806.5 734.6 809.5 734.4 812.5 735.9 816.6 740.5 820.2 746.5 821.0 750.5 820.3 753.5 818.5 755.9 815.5 757.5Z"/><path fill-rule="evenodd" fill="#000054" d="M812.5 752.5 810.5 752.3 808.5 751.1 806.5 748.7 805.5 746.6 805.2 742.5 806.2 740.5 807.5 739.5 809.5 739.4 811.5 740.3 813.6 742.5 815.3 745.5 815.9 748.5 815.5 750.2 814.5 751.7 812.5 752.5Z"/></g><line x1="83.20" y1="74.00" x2="90.70" y2="74.00" stroke="#000" stroke-width="1.3"/><line x1="497.00" y1="74.00" x2="504.00" y2="74.00" stroke="#000" stroke-width="1.3"/><line x1="86.70" y1="116.97" x2="90.70" y2="116.97" stroke="#000" stroke-width="1.3"/><line x1="500.50" y1="116.97" x2="504.00" y2="116.97" stroke="#000" stroke-width="1.3"/><line x1="83.20" y1="159.93" x2="90.70" y2="159.93" stroke="#000" stroke-width="1.3"/><line x1="497.00" y1="159.93" x2="504.00" y2="159.93" stroke="#000" stroke-width="1.3"/><line x1="86.70" y1="202.89" x2="90.70" y2="202.89" stroke="#000" stroke-width="1.3"/><line x1="500.50" y1="202.89" x2="504.00" y2="202.89" stroke="#000" stroke-width="1.3"/><line x1="83.20" y1="245.86" x2="90.70" y2="245.86" stroke="#000" stroke-width="1.3"/><line x1="497.00" y1="245.86" x2="504.00" y2="245.86" stroke="#000" stroke-width="1.3"/><line x1="86.70" y1="288.82" x2="90.70" y2="288.82" stroke="#000" stroke-width="1.3"/><line x1="500.50" y1="288.82" x2="504.00" y2="288.82" stroke="#000" stroke-width="1.3"/><line x1="83.20" y1="331.79" x2="90.70" y2="331.79" stroke="#000" stroke-width="1.3"/><line x1="497.00" y1="331.79" x2="504.00" y2="331.79" stroke="#000" stroke-width="1.3"/><line x1="96.40" y1="367.20" x2="96.40" y2="371.80" stroke="#000" stroke-width="1.3"/><line x1="96.40" y1="72.00" x2="96.40" y2="75.50" stroke="#000" stroke-width="1.3"/><line x1="124.20" y1="367.20" x2="124.20" y2="375.20" stroke="#000" stroke-width="1.3"/><line x1="124.20" y1="72.00" x2="124.20" y2="79.00" stroke="#000" stroke-width="1.3"/><line x1="152.00" y1="367.20" x2="152.00" y2="371.80" stroke="#000" stroke-width="1.3"/><line x1="152.00" y1="72.00" x2="152.00" y2="75.50" stroke="#000" stroke-width="1.3"/><line x1="179.80" y1="367.20" x2="179.80" y2="375.20" stroke="#000" stroke-width="1.3"/><line x1="179.80" y1="72.00" x2="179.80" y2="79.00" stroke="#000" stroke-width="1.3"/><line x1="207.60" y1="367.20" x2="207.60" y2="371.80" stroke="#000" stroke-width="1.3"/><line x1="207.60" y1="72.00" x2="207.60" y2="75.50" stroke="#000" stroke-width="1.3"/><line x1="260.13" y1="367.20" x2="260.13" y2="371.80" stroke="#000" stroke-width="1.3"/><line x1="260.13" y1="72.00" x2="260.13" y2="75.50" stroke="#000" stroke-width="1.3"/><line x1="274.66" y1="367.20" x2="274.66" y2="371.80" stroke="#000" stroke-width="1.3"/><line x1="274.66" y1="72.00" x2="274.66" y2="75.50" stroke="#000" stroke-width="1.3"/><line x1="284.97" y1="367.20" x2="284.97" y2="371.80" stroke="#000" stroke-width="1.3"/><line x1="284.97" y1="72.00" x2="284.97" y2="75.50" stroke="#000" stroke-width="1.3"/><line x1="292.97" y1="367.20" x2="292.97" y2="371.80" stroke="#000" stroke-width="1.3"/><line x1="292.97" y1="72.00" x2="292.97" y2="75.50" stroke="#000" stroke-width="1.3"/><line x1="299.50" y1="367.20" x2="299.50" y2="371.80" stroke="#000" stroke-width="1.3"/><line x1="299.50" y1="72.00" x2="299.50" y2="75.50" stroke="#000" stroke-width="1.3"/><line x1="305.02" y1="367.20" x2="305.02" y2="371.80" stroke="#000" stroke-width="1.3"/><line x1="305.02" y1="72.00" x2="305.02" y2="75.50" stroke="#000" stroke-width="1.3"/><line x1="309.80" y1="367.20" x2="309.80" y2="371.80" stroke="#000" stroke-width="1.3"/><line x1="309.80" y1="72.00" x2="309.80" y2="75.50" stroke="#000" stroke-width="1.3"/><line x1="314.03" y1="367.20" x2="314.03" y2="371.80" stroke="#000" stroke-width="1.3"/><line x1="314.03" y1="72.00" x2="314.03" y2="75.50" stroke="#000" stroke-width="1.3"/><line x1="317.80" y1="367.20" x2="317.80" y2="375.20" stroke="#000" stroke-width="1.3"/><line x1="317.80" y1="72.00" x2="317.80" y2="79.00" stroke="#000" stroke-width="1.3"/><line x1="342.63" y1="367.20" x2="342.63" y2="371.80" stroke="#000" stroke-width="1.3"/><line x1="342.63" y1="72.00" x2="342.63" y2="75.50" stroke="#000" stroke-width="1.3"/><line x1="357.16" y1="367.20" x2="357.16" y2="371.80" stroke="#000" stroke-width="1.3"/><line x1="357.16" y1="72.00" x2="357.16" y2="75.50" stroke="#000" stroke-width="1.3"/><line x1="367.47" y1="367.20" x2="367.47" y2="371.80" stroke="#000" stroke-width="1.3"/><line x1="367.47" y1="72.00" x2="367.47" y2="75.50" stroke="#000" stroke-width="1.3"/><line x1="375.47" y1="367.20" x2="375.47" y2="371.80" stroke="#000" stroke-width="1.3"/><line x1="375.47" y1="72.00" x2="375.47" y2="75.50" stroke="#000" stroke-width="1.3"/><line x1="382.00" y1="367.20" x2="382.00" y2="371.80" stroke="#000" stroke-width="1.3"/><line x1="382.00" y1="72.00" x2="382.00" y2="75.50" stroke="#000" stroke-width="1.3"/><line x1="387.52" y1="367.20" x2="387.52" y2="371.80" stroke="#000" stroke-width="1.3"/><line x1="387.52" y1="72.00" x2="387.52" y2="75.50" stroke="#000" stroke-width="1.3"/><line x1="392.30" y1="367.20" x2="392.30" y2="371.80" stroke="#000" stroke-width="1.3"/><line x1="392.30" y1="72.00" x2="392.30" y2="75.50" stroke="#000" stroke-width="1.3"/><line x1="396.53" y1="367.20" x2="396.53" y2="371.80" stroke="#000" stroke-width="1.3"/><line x1="396.53" y1="72.00" x2="396.53" y2="75.50" stroke="#000" stroke-width="1.3"/><line x1="400.30" y1="367.20" x2="400.30" y2="375.20" stroke="#000" stroke-width="1.3"/><line x1="400.30" y1="72.00" x2="400.30" y2="79.00" stroke="#000" stroke-width="1.3"/><line x1="425.13" y1="367.20" x2="425.13" y2="371.80" stroke="#000" stroke-width="1.3"/><line x1="425.13" y1="72.00" x2="425.13" y2="75.50" stroke="#000" stroke-width="1.3"/><line x1="439.66" y1="367.20" x2="439.66" y2="371.80" stroke="#000" stroke-width="1.3"/><line x1="439.66" y1="72.00" x2="439.66" y2="75.50" stroke="#000" stroke-width="1.3"/><line x1="449.97" y1="367.20" x2="449.97" y2="371.80" stroke="#000" stroke-width="1.3"/><line x1="449.97" y1="72.00" x2="449.97" y2="75.50" stroke="#000" stroke-width="1.3"/><line x1="457.97" y1="367.20" x2="457.97" y2="371.80" stroke="#000" stroke-width="1.3"/><line x1="457.97" y1="72.00" x2="457.97" y2="75.50" stroke="#000" stroke-width="1.3"/><line x1="464.50" y1="367.20" x2="464.50" y2="371.80" stroke="#000" stroke-width="1.3"/><line x1="464.50" y1="72.00" x2="464.50" y2="75.50" stroke="#000" stroke-width="1.3"/><line x1="470.02" y1="367.20" x2="470.02" y2="371.80" stroke="#000" stroke-width="1.3"/><line x1="470.02" y1="72.00" x2="470.02" y2="75.50" stroke="#000" stroke-width="1.3"/><line x1="474.80" y1="367.20" x2="474.80" y2="371.80" stroke="#000" stroke-width="1.3"/><line x1="474.80" y1="72.00" x2="474.80" y2="75.50" stroke="#000" stroke-width="1.3"/><line x1="479.03" y1="367.20" x2="479.03" y2="371.80" stroke="#000" stroke-width="1.3"/><line x1="479.03" y1="72.00" x2="479.03" y2="75.50" stroke="#000" stroke-width="1.3"/><line x1="482.80" y1="367.20" x2="482.80" y2="375.20" stroke="#000" stroke-width="1.3"/><line x1="482.80" y1="72.00" x2="482.80" y2="79.00" stroke="#000" stroke-width="1.3"/><line x1="235.40" y1="72.00" x2="235.40" y2="367.20" stroke="#000" stroke-width="1.3"/><line x1="231.80" y1="80.30" x2="238.80" y2="64.20" stroke="#000" stroke-width="1.3"/><line x1="231.80" y1="375.50" x2="238.80" y2="359.40" stroke="#000" stroke-width="1.3"/><rect x="90.7" y="72.0" width="413.30" height="295.20" fill="none" stroke="#000" stroke-width="1.5"/><text x="80.60" y="82.80" font-size="27" text-anchor="end" >750</text><text x="80.60" y="168.73" font-size="27" text-anchor="end" >650</text><text x="80.60" y="254.66" font-size="27" text-anchor="end" >550</text><text x="80.60" y="340.59" font-size="27" text-anchor="end" >450</text><text x="124.20" y="401.20" font-size="27" text-anchor="middle" >0.0</text><text x="179.80" y="401.20" font-size="27" text-anchor="middle" >0.5</text><text x="235.40" y="401.20" font-size="27" text-anchor="middle" >1.0</text><text x="317.80" y="401.20" font-size="27" text-anchor="middle" >10</text><text x="400.30" y="401.20" font-size="27" text-anchor="middle" >100</text><text x="482.80" y="401.20" font-size="27" text-anchor="middle" >1000</text><text x="297.50" y="429.40" font-size="27.5" text-anchor="middle" >Time [ps]</text><text x="0" y="0" font-size="27.6" text-anchor="middle" transform="translate(22.3,218.5) rotate(-90)">Wavelength [nm]</text><text x="88.30" y="39.30" font-size="36.5" text-anchor="start" >a</text><text x="328.00" y="349.20" font-size="32" text-anchor="start" >GAF1–PHY</text><line x1="543.20" y1="367.69" x2="547.70" y2="367.69" stroke="#000" stroke-width="1.3"/><line x1="839.00" y1="367.69" x2="844.00" y2="367.69" stroke="#000" stroke-width="1.3"/><line x1="543.20" y1="360.62" x2="547.70" y2="360.62" stroke="#000" stroke-width="1.3"/><line x1="839.00" y1="360.62" x2="844.00" y2="360.62" stroke="#000" stroke-width="1.3"/><line x1="543.20" y1="355.14" x2="547.70" y2="355.14" stroke="#000" stroke-width="1.3"/><line x1="839.00" y1="355.14" x2="844.00" y2="355.14" stroke="#000" stroke-width="1.3"/><line x1="543.20" y1="350.66" x2="547.70" y2="350.66" stroke="#000" stroke-width="1.3"/><line x1="839.00" y1="350.66" x2="844.00" y2="350.66" stroke="#000" stroke-width="1.3"/><line x1="543.20" y1="346.87" x2="547.70" y2="346.87" stroke="#000" stroke-width="1.3"/><line x1="839.00" y1="346.87" x2="844.00" y2="346.87" stroke="#000" stroke-width="1.3"/><line x1="543.20" y1="343.59" x2="547.70" y2="343.59" stroke="#000" stroke-width="1.3"/><line x1="839.00" y1="343.59" x2="844.00" y2="343.59" stroke="#000" stroke-width="1.3"/><line x1="543.20" y1="340.69" x2="547.70" y2="340.69" stroke="#000" stroke-width="1.3"/><line x1="839.00" y1="340.69" x2="844.00" y2="340.69" stroke="#000" stroke-width="1.3"/><line x1="543.20" y1="338.10" x2="551.20" y2="338.10" stroke="#000" stroke-width="1.3"/><line x1="839.00" y1="338.10" x2="847.00" y2="338.10" stroke="#000" stroke-width="1.3"/><line x1="543.20" y1="321.06" x2="547.70" y2="321.06" stroke="#000" stroke-width="1.3"/><line x1="839.00" y1="321.06" x2="844.00" y2="321.06" stroke="#000" stroke-width="1.3"/><line x1="543.20" y1="311.09" x2="547.70" y2="311.09" stroke="#000" stroke-width="1.3"/><line x1="839.00" y1="311.09" x2="844.00" y2="311.09" stroke="#000" stroke-width="1.3"/><line x1="543.20" y1="304.02" x2="547.70" y2="304.02" stroke="#000" stroke-width="1.3"/><line x1="839.00" y1="304.02" x2="844.00" y2="304.02" stroke="#000" stroke-width="1.3"/><line x1="543.20" y1="298.54" x2="547.70" y2="298.54" stroke="#000" stroke-width="1.3"/><line x1="839.00" y1="298.54" x2="844.00" y2="298.54" stroke="#000" stroke-width="1.3"/><line x1="543.20" y1="294.06" x2="547.70" y2="294.06" stroke="#000" stroke-width="1.3"/><line x1="839.00" y1="294.06" x2="844.00" y2="294.06" stroke="#000" stroke-width="1.3"/><line x1="543.20" y1="290.27" x2="547.70" y2="290.27" stroke="#000" stroke-width="1.3"/><line x1="839.00" y1="290.27" x2="844.00" y2="290.27" stroke="#000" stroke-width="1.3"/><line x1="543.20" y1="286.99" x2="547.70" y2="286.99" stroke="#000" stroke-width="1.3"/><line x1="839.00" y1="286.99" x2="844.00" y2="286.99" stroke="#000" stroke-width="1.3"/><line x1="543.20" y1="284.09" x2="547.70" y2="284.09" stroke="#000" stroke-width="1.3"/><line x1="839.00" y1="284.09" x2="844.00" y2="284.09" stroke="#000" stroke-width="1.3"/><line x1="543.20" y1="281.50" x2="551.20" y2="281.50" stroke="#000" stroke-width="1.3"/><line x1="839.00" y1="281.50" x2="847.00" y2="281.50" stroke="#000" stroke-width="1.3"/><line x1="543.20" y1="264.46" x2="547.70" y2="264.46" stroke="#000" stroke-width="1.3"/><line x1="839.00" y1="264.46" x2="844.00" y2="264.46" stroke="#000" stroke-width="1.3"/><line x1="543.20" y1="254.49" x2="547.70" y2="254.49" stroke="#000" stroke-width="1.3"/><line x1="839.00" y1="254.49" x2="844.00" y2="254.49" stroke="#000" stroke-width="1.3"/><line x1="543.20" y1="247.42" x2="547.70" y2="247.42" stroke="#000" stroke-width="1.3"/><line x1="839.00" y1="247.42" x2="844.00" y2="247.42" stroke="#000" stroke-width="1.3"/><line x1="543.20" y1="241.94" x2="547.70" y2="241.94" stroke="#000" stroke-width="1.3"/><line x1="839.00" y1="241.94" x2="844.00" y2="241.94" stroke="#000" stroke-width="1.3"/><line x1="543.20" y1="237.46" x2="547.70" y2="237.46" stroke="#000" stroke-width="1.3"/><line x1="839.00" y1="237.46" x2="844.00" y2="237.46" stroke="#000" stroke-width="1.3"/><line x1="543.20" y1="233.67" x2="547.70" y2="233.67" stroke="#000" stroke-width="1.3"/><line x1="839.00" y1="233.67" x2="844.00" y2="233.67" stroke="#000" stroke-width="1.3"/><line x1="543.20" y1="230.39" x2="547.70" y2="230.39" stroke="#000" stroke-width="1.3"/><line x1="839.00" y1="230.39" x2="844.00" y2="230.39" stroke="#000" stroke-width="1.3"/><line x1="543.20" y1="227.49" x2="547.70" y2="227.49" stroke="#000" stroke-width="1.3"/><line x1="839.00" y1="227.49" x2="844.00" y2="227.49" stroke="#000" stroke-width="1.3"/><line x1="543.20" y1="224.90" x2="551.20" y2="224.90" stroke="#000" stroke-width="1.3"/><line x1="839.00" y1="224.90" x2="847.00" y2="224.90" stroke="#000" stroke-width="1.3"/><line x1="543.20" y1="207.86" x2="547.70" y2="207.86" stroke="#000" stroke-width="1.3"/><line x1="839.00" y1="207.86" x2="844.00" y2="207.86" stroke="#000" stroke-width="1.3"/><line x1="543.20" y1="197.89" x2="547.70" y2="197.89" stroke="#000" stroke-width="1.3"/><line x1="839.00" y1="197.89" x2="844.00" y2="197.89" stroke="#000" stroke-width="1.3"/><line x1="543.20" y1="190.82" x2="547.70" y2="190.82" stroke="#000" stroke-width="1.3"/><line x1="839.00" y1="190.82" x2="844.00" y2="190.82" stroke="#000" stroke-width="1.3"/><line x1="543.20" y1="185.34" x2="547.70" y2="185.34" stroke="#000" stroke-width="1.3"/><line x1="839.00" y1="185.34" x2="844.00" y2="185.34" stroke="#000" stroke-width="1.3"/><line x1="543.20" y1="180.86" x2="547.70" y2="180.86" stroke="#000" stroke-width="1.3"/><line x1="839.00" y1="180.86" x2="844.00" y2="180.86" stroke="#000" stroke-width="1.3"/><line x1="543.20" y1="177.07" x2="547.70" y2="177.07" stroke="#000" stroke-width="1.3"/><line x1="839.00" y1="177.07" x2="844.00" y2="177.07" stroke="#000" stroke-width="1.3"/><line x1="543.20" y1="173.79" x2="547.70" y2="173.79" stroke="#000" stroke-width="1.3"/><line x1="839.00" y1="173.79" x2="844.00" y2="173.79" stroke="#000" stroke-width="1.3"/><line x1="543.20" y1="170.89" x2="547.70" y2="170.89" stroke="#000" stroke-width="1.3"/><line x1="839.00" y1="170.89" x2="844.00" y2="170.89" stroke="#000" stroke-width="1.3"/><line x1="543.20" y1="168.30" x2="551.20" y2="168.30" stroke="#000" stroke-width="1.3"/><line x1="839.00" y1="168.30" x2="847.00" y2="168.30" stroke="#000" stroke-width="1.3"/><line x1="543.20" y1="151.26" x2="547.70" y2="151.26" stroke="#000" stroke-width="1.3"/><line x1="839.00" y1="151.26" x2="844.00" y2="151.26" stroke="#000" stroke-width="1.3"/><line x1="543.20" y1="141.29" x2="547.70" y2="141.29" stroke="#000" stroke-width="1.3"/><line x1="839.00" y1="141.29" x2="844.00" y2="141.29" stroke="#000" stroke-width="1.3"/><line x1="543.20" y1="134.22" x2="547.70" y2="134.22" stroke="#000" stroke-width="1.3"/><line x1="839.00" y1="134.22" x2="844.00" y2="134.22" stroke="#000" stroke-width="1.3"/><line x1="543.20" y1="128.74" x2="547.70" y2="128.74" stroke="#000" stroke-width="1.3"/><line x1="839.00" y1="128.74" x2="844.00" y2="128.74" stroke="#000" stroke-width="1.3"/><line x1="543.20" y1="124.26" x2="547.70" y2="124.26" stroke="#000" stroke-width="1.3"/><line x1="839.00" y1="124.26" x2="844.00" y2="124.26" stroke="#000" stroke-width="1.3"/><line x1="543.20" y1="120.47" x2="547.70" y2="120.47" stroke="#000" stroke-width="1.3"/><line x1="839.00" y1="120.47" x2="844.00" y2="120.47" stroke="#000" stroke-width="1.3"/><line x1="543.20" y1="117.19" x2="547.70" y2="117.19" stroke="#000" stroke-width="1.3"/><line x1="839.00" y1="117.19" x2="844.00" y2="117.19" stroke="#000" stroke-width="1.3"/><line x1="543.20" y1="114.29" x2="547.70" y2="114.29" stroke="#000" stroke-width="1.3"/><line x1="839.00" y1="114.29" x2="844.00" y2="114.29" stroke="#000" stroke-width="1.3"/><line x1="543.20" y1="111.70" x2="551.20" y2="111.70" stroke="#000" stroke-width="1.3"/><line x1="839.00" y1="111.70" x2="847.00" y2="111.70" stroke="#000" stroke-width="1.3"/><line x1="543.20" y1="94.66" x2="547.70" y2="94.66" stroke="#000" stroke-width="1.3"/><line x1="839.00" y1="94.66" x2="844.00" y2="94.66" stroke="#000" stroke-width="1.3"/><line x1="543.20" y1="84.69" x2="547.70" y2="84.69" stroke="#000" stroke-width="1.3"/><line x1="839.00" y1="84.69" x2="844.00" y2="84.69" stroke="#000" stroke-width="1.3"/><line x1="543.20" y1="77.62" x2="547.70" y2="77.62" stroke="#000" stroke-width="1.3"/><line x1="839.00" y1="77.62" x2="844.00" y2="77.62" stroke="#000" stroke-width="1.3"/><line x1="543.20" y1="72.14" x2="547.70" y2="72.14" stroke="#000" stroke-width="1.3"/><line x1="839.00" y1="72.14" x2="844.00" y2="72.14" stroke="#000" stroke-width="1.3"/><line x1="577.50" y1="367.30" x2="577.50" y2="375.30" stroke="#000" stroke-width="1.3"/><line x1="577.50" y1="72.00" x2="577.50" y2="79.40" stroke="#000" stroke-width="1.3"/><line x1="620.76" y1="367.30" x2="620.76" y2="371.80" stroke="#000" stroke-width="1.3"/><line x1="620.76" y1="72.00" x2="620.76" y2="75.60" stroke="#000" stroke-width="1.3"/><line x1="664.03" y1="367.30" x2="664.03" y2="375.30" stroke="#000" stroke-width="1.3"/><line x1="664.03" y1="72.00" x2="664.03" y2="79.40" stroke="#000" stroke-width="1.3"/><line x1="707.29" y1="367.30" x2="707.29" y2="371.80" stroke="#000" stroke-width="1.3"/><line x1="707.29" y1="72.00" x2="707.29" y2="75.60" stroke="#000" stroke-width="1.3"/><line x1="750.56" y1="367.30" x2="750.56" y2="375.30" stroke="#000" stroke-width="1.3"/><line x1="750.56" y1="72.00" x2="750.56" y2="79.40" stroke="#000" stroke-width="1.3"/><line x1="793.83" y1="367.30" x2="793.83" y2="371.80" stroke="#000" stroke-width="1.3"/><line x1="793.83" y1="72.00" x2="793.83" y2="75.60" stroke="#000" stroke-width="1.3"/><line x1="837.09" y1="367.30" x2="837.09" y2="375.30" stroke="#000" stroke-width="1.3"/><line x1="837.09" y1="72.00" x2="837.09" y2="79.40" stroke="#000" stroke-width="1.3"/><rect x="543.2" y="72.0" width="295.80" height="295.30" fill="none" stroke="#000" stroke-width="1.5"/><text x="577.50" y="401.50" font-size="27" text-anchor="middle" >450</text><text x="664.03" y="401.50" font-size="27" text-anchor="middle" >550</text><text x="750.56" y="401.50" font-size="27" text-anchor="middle" >650</text><text x="837.09" y="401.50" font-size="27" text-anchor="middle" >750</text><text x="690.80" y="430.60" font-size="27.6" text-anchor="middle" >Wavelength [nm]</text><text x="848.5" y="121.20" font-size="25">10<tspan font-size="19" dx="0.5" dy="-11">3</tspan></text><text x="848.5" y="177.80" font-size="25">10<tspan font-size="19" dx="0.5" dy="-11">2</tspan></text><text x="848.5" y="234.40" font-size="25">10<tspan font-size="19" dx="0.5" dy="-11">1</tspan></text><text x="848.5" y="291.00" font-size="25">10<tspan font-size="19" dx="0.5" dy="-11">0</tspan></text><text x="848.5" y="347.60" font-size="25">10<tspan font-size="19" dx="0.5" dy="-11">−1</tspan></text><text x="0" y="0" font-size="27.3" text-anchor="middle" transform="translate(908.8,219.5) rotate(90)">Lifetime [ps]</text><text x="538.20" y="39.30" font-size="36.5" text-anchor="start" >b</text><line x1="83.20" y1="552.00" x2="90.70" y2="552.00" stroke="#000" stroke-width="1.3"/><line x1="497.00" y1="552.00" x2="504.00" y2="552.00" stroke="#000" stroke-width="1.3"/><line x1="86.70" y1="594.97" x2="90.70" y2="594.97" stroke="#000" stroke-width="1.3"/><line x1="500.50" y1="594.97" x2="504.00" y2="594.97" stroke="#000" stroke-width="1.3"/><line x1="83.20" y1="637.93" x2="90.70" y2="637.93" stroke="#000" stroke-width="1.3"/><line x1="497.00" y1="637.93" x2="504.00" y2="637.93" stroke="#000" stroke-width="1.3"/><line x1="86.70" y1="680.89" x2="90.70" y2="680.89" stroke="#000" stroke-width="1.3"/><line x1="500.50" y1="680.89" x2="504.00" y2="680.89" stroke="#000" stroke-width="1.3"/><line x1="83.20" y1="723.86" x2="90.70" y2="723.86" stroke="#000" stroke-width="1.3"/><line x1="497.00" y1="723.86" x2="504.00" y2="723.86" stroke="#000" stroke-width="1.3"/><line x1="86.70" y1="766.83" x2="90.70" y2="766.83" stroke="#000" stroke-width="1.3"/><line x1="500.50" y1="766.83" x2="504.00" y2="766.83" stroke="#000" stroke-width="1.3"/><line x1="83.20" y1="809.79" x2="90.70" y2="809.79" stroke="#000" stroke-width="1.3"/><line x1="497.00" y1="809.79" x2="504.00" y2="809.79" stroke="#000" stroke-width="1.3"/><line x1="96.40" y1="845.20" x2="96.40" y2="849.80" stroke="#000" stroke-width="1.3"/><line x1="96.40" y1="550.00" x2="96.40" y2="553.50" stroke="#000" stroke-width="1.3"/><line x1="124.20" y1="845.20" x2="124.20" y2="853.20" stroke="#000" stroke-width="1.3"/><line x1="124.20" y1="550.00" x2="124.20" y2="557.00" stroke="#000" stroke-width="1.3"/><line x1="152.00" y1="845.20" x2="152.00" y2="849.80" stroke="#000" stroke-width="1.3"/><line x1="152.00" y1="550.00" x2="152.00" y2="553.50" stroke="#000" stroke-width="1.3"/><line x1="179.80" y1="845.20" x2="179.80" y2="853.20" stroke="#000" stroke-width="1.3"/><line x1="179.80" y1="550.00" x2="179.80" y2="557.00" stroke="#000" stroke-width="1.3"/><line x1="207.60" y1="845.20" x2="207.60" y2="849.80" stroke="#000" stroke-width="1.3"/><line x1="207.60" y1="550.00" x2="207.60" y2="553.50" stroke="#000" stroke-width="1.3"/><line x1="260.13" y1="845.20" x2="260.13" y2="849.80" stroke="#000" stroke-width="1.3"/><line x1="260.13" y1="550.00" x2="260.13" y2="553.50" stroke="#000" stroke-width="1.3"/><line x1="274.66" y1="845.20" x2="274.66" y2="849.80" stroke="#000" stroke-width="1.3"/><line x1="274.66" y1="550.00" x2="274.66" y2="553.50" stroke="#000" stroke-width="1.3"/><line x1="284.97" y1="845.20" x2="284.97" y2="849.80" stroke="#000" stroke-width="1.3"/><line x1="284.97" y1="550.00" x2="284.97" y2="553.50" stroke="#000" stroke-width="1.3"/><line x1="292.97" y1="845.20" x2="292.97" y2="849.80" stroke="#000" stroke-width="1.3"/><line x1="292.97" y1="550.00" x2="292.97" y2="553.50" stroke="#000" stroke-width="1.3"/><line x1="299.50" y1="845.20" x2="299.50" y2="849.80" stroke="#000" stroke-width="1.3"/><line x1="299.50" y1="550.00" x2="299.50" y2="553.50" stroke="#000" stroke-width="1.3"/><line x1="305.02" y1="845.20" x2="305.02" y2="849.80" stroke="#000" stroke-width="1.3"/><line x1="305.02" y1="550.00" x2="305.02" y2="553.50" stroke="#000" stroke-width="1.3"/><line x1="309.80" y1="845.20" x2="309.80" y2="849.80" stroke="#000" stroke-width="1.3"/><line x1="309.80" y1="550.00" x2="309.80" y2="553.50" stroke="#000" stroke-width="1.3"/><line x1="314.03" y1="845.20" x2="314.03" y2="849.80" stroke="#000" stroke-width="1.3"/><line x1="314.03" y1="550.00" x2="314.03" y2="553.50" stroke="#000" stroke-width="1.3"/><line x1="317.80" y1="845.20" x2="317.80" y2="853.20" stroke="#000" stroke-width="1.3"/><line x1="317.80" y1="550.00" x2="317.80" y2="557.00" stroke="#000" stroke-width="1.3"/><line x1="342.63" y1="845.20" x2="342.63" y2="849.80" stroke="#000" stroke-width="1.3"/><line x1="342.63" y1="550.00" x2="342.63" y2="553.50" stroke="#000" stroke-width="1.3"/><line x1="357.16" y1="845.20" x2="357.16" y2="849.80" stroke="#000" stroke-width="1.3"/><line x1="357.16" y1="550.00" x2="357.16" y2="553.50" stroke="#000" stroke-width="1.3"/><line x1="367.47" y1="845.20" x2="367.47" y2="849.80" stroke="#000" stroke-width="1.3"/><line x1="367.47" y1="550.00" x2="367.47" y2="553.50" stroke="#000" stroke-width="1.3"/><line x1="375.47" y1="845.20" x2="375.47" y2="849.80" stroke="#000" stroke-width="1.3"/><line x1="375.47" y1="550.00" x2="375.47" y2="553.50" stroke="#000" stroke-width="1.3"/><line x1="382.00" y1="845.20" x2="382.00" y2="849.80" stroke="#000" stroke-width="1.3"/><line x1="382.00" y1="550.00" x2="382.00" y2="553.50" stroke="#000" stroke-width="1.3"/><line x1="387.52" y1="845.20" x2="387.52" y2="849.80" stroke="#000" stroke-width="1.3"/><line x1="387.52" y1="550.00" x2="387.52" y2="553.50" stroke="#000" stroke-width="1.3"/><line x1="392.30" y1="845.20" x2="392.30" y2="849.80" stroke="#000" stroke-width="1.3"/><line x1="392.30" y1="550.00" x2="392.30" y2="553.50" stroke="#000" stroke-width="1.3"/><line x1="396.53" y1="845.20" x2="396.53" y2="849.80" stroke="#000" stroke-width="1.3"/><line x1="396.53" y1="550.00" x2="396.53" y2="553.50" stroke="#000" stroke-width="1.3"/><line x1="400.30" y1="845.20" x2="400.30" y2="853.20" stroke="#000" stroke-width="1.3"/><line x1="400.30" y1="550.00" x2="400.30" y2="557.00" stroke="#000" stroke-width="1.3"/><line x1="425.13" y1="845.20" x2="425.13" y2="849.80" stroke="#000" stroke-width="1.3"/><line x1="425.13" y1="550.00" x2="425.13" y2="553.50" stroke="#000" stroke-width="1.3"/><line x1="439.66" y1="845.20" x2="439.66" y2="849.80" stroke="#000" stroke-width="1.3"/><line x1="439.66" y1="550.00" x2="439.66" y2="553.50" stroke="#000" stroke-width="1.3"/><line x1="449.97" y1="845.20" x2="449.97" y2="849.80" stroke="#000" stroke-width="1.3"/><line x1="449.97" y1="550.00" x2="449.97" y2="553.50" stroke="#000" stroke-width="1.3"/><line x1="457.97" y1="845.20" x2="457.97" y2="849.80" stroke="#000" stroke-width="1.3"/><line x1="457.97" y1="550.00" x2="457.97" y2="553.50" stroke="#000" stroke-width="1.3"/><line x1="464.50" y1="845.20" x2="464.50" y2="849.80" stroke="#000" stroke-width="1.3"/><line x1="464.50" y1="550.00" x2="464.50" y2="553.50" stroke="#000" stroke-width="1.3"/><line x1="470.02" y1="845.20" x2="470.02" y2="849.80" stroke="#000" stroke-width="1.3"/><line x1="470.02" y1="550.00" x2="470.02" y2="553.50" stroke="#000" stroke-width="1.3"/><line x1="474.80" y1="845.20" x2="474.80" y2="849.80" stroke="#000" stroke-width="1.3"/><line x1="474.80" y1="550.00" x2="474.80" y2="553.50" stroke="#000" stroke-width="1.3"/><line x1="479.03" y1="845.20" x2="479.03" y2="849.80" stroke="#000" stroke-width="1.3"/><line x1="479.03" y1="550.00" x2="479.03" y2="553.50" stroke="#000" stroke-width="1.3"/><line x1="482.80" y1="845.20" x2="482.80" y2="853.20" stroke="#000" stroke-width="1.3"/><line x1="482.80" y1="550.00" x2="482.80" y2="557.00" stroke="#000" stroke-width="1.3"/><line x1="235.40" y1="550.00" x2="235.40" y2="845.20" stroke="#000" stroke-width="1.3"/><line x1="231.80" y1="558.30" x2="238.80" y2="542.20" stroke="#000" stroke-width="1.3"/><line x1="231.80" y1="853.50" x2="238.80" y2="837.40" stroke="#000" stroke-width="1.3"/><rect x="90.7" y="550.0" width="413.30" height="295.20" fill="none" stroke="#000" stroke-width="1.5"/><text x="80.60" y="560.80" font-size="27" text-anchor="end" >750</text><text x="80.60" y="646.73" font-size="27" text-anchor="end" >650</text><text x="80.60" y="732.66" font-size="27" text-anchor="end" >550</text><text x="80.60" y="818.59" font-size="27" text-anchor="end" >450</text><text x="124.20" y="879.20" font-size="27" text-anchor="middle" >0.0</text><text x="179.80" y="879.20" font-size="27" text-anchor="middle" >0.5</text><text x="235.40" y="879.20" font-size="27" text-anchor="middle" >1.0</text><text x="317.80" y="879.20" font-size="27" text-anchor="middle" >10</text><text x="400.30" y="879.20" font-size="27" text-anchor="middle" >100</text><text x="482.80" y="879.20" font-size="27" text-anchor="middle" >1000</text><text x="297.50" y="907.40" font-size="27.5" text-anchor="middle" >Time [ps]</text><text x="0" y="0" font-size="27.6" text-anchor="middle" transform="translate(22.3,696.5) rotate(-90)">Wavelength [nm]</text><text x="88.30" y="517.30" font-size="36.5" text-anchor="start" >c</text><text x="328.00" y="827.20" font-size="32" text-anchor="start" >GAF1-only</text><line x1="543.20" y1="845.69" x2="547.70" y2="845.69" stroke="#000" stroke-width="1.3"/><line x1="839.00" y1="845.69" x2="844.00" y2="845.69" stroke="#000" stroke-width="1.3"/><line x1="543.20" y1="838.62" x2="547.70" y2="838.62" stroke="#000" stroke-width="1.3"/><line x1="839.00" y1="838.62" x2="844.00" y2="838.62" stroke="#000" stroke-width="1.3"/><line x1="543.20" y1="833.14" x2="547.70" y2="833.14" stroke="#000" stroke-width="1.3"/><line x1="839.00" y1="833.14" x2="844.00" y2="833.14" stroke="#000" stroke-width="1.3"/><line x1="543.20" y1="828.66" x2="547.70" y2="828.66" stroke="#000" stroke-width="1.3"/><line x1="839.00" y1="828.66" x2="844.00" y2="828.66" stroke="#000" stroke-width="1.3"/><line x1="543.20" y1="824.87" x2="547.70" y2="824.87" stroke="#000" stroke-width="1.3"/><line x1="839.00" y1="824.87" x2="844.00" y2="824.87" stroke="#000" stroke-width="1.3"/><line x1="543.20" y1="821.59" x2="547.70" y2="821.59" stroke="#000" stroke-width="1.3"/><line x1="839.00" y1="821.59" x2="844.00" y2="821.59" stroke="#000" stroke-width="1.3"/><line x1="543.20" y1="818.69" x2="547.70" y2="818.69" stroke="#000" stroke-width="1.3"/><line x1="839.00" y1="818.69" x2="844.00" y2="818.69" stroke="#000" stroke-width="1.3"/><line x1="543.20" y1="816.10" x2="551.20" y2="816.10" stroke="#000" stroke-width="1.3"/><line x1="839.00" y1="816.10" x2="847.00" y2="816.10" stroke="#000" stroke-width="1.3"/><line x1="543.20" y1="799.06" x2="547.70" y2="799.06" stroke="#000" stroke-width="1.3"/><line x1="839.00" y1="799.06" x2="844.00" y2="799.06" stroke="#000" stroke-width="1.3"/><line x1="543.20" y1="789.09" x2="547.70" y2="789.09" stroke="#000" stroke-width="1.3"/><line x1="839.00" y1="789.09" x2="844.00" y2="789.09" stroke="#000" stroke-width="1.3"/><line x1="543.20" y1="782.02" x2="547.70" y2="782.02" stroke="#000" stroke-width="1.3"/><line x1="839.00" y1="782.02" x2="844.00" y2="782.02" stroke="#000" stroke-width="1.3"/><line x1="543.20" y1="776.54" x2="547.70" y2="776.54" stroke="#000" stroke-width="1.3"/><line x1="839.00" y1="776.54" x2="844.00" y2="776.54" stroke="#000" stroke-width="1.3"/><line x1="543.20" y1="772.06" x2="547.70" y2="772.06" stroke="#000" stroke-width="1.3"/><line x1="839.00" y1="772.06" x2="844.00" y2="772.06" stroke="#000" stroke-width="1.3"/><line x1="543.20" y1="768.27" x2="547.70" y2="768.27" stroke="#000" stroke-width="1.3"/><line x1="839.00" y1="768.27" x2="844.00" y2="768.27" stroke="#000" stroke-width="1.3"/><line x1="543.20" y1="764.99" x2="547.70" y2="764.99" stroke="#000" stroke-width="1.3"/><line x1="839.00" y1="764.99" x2="844.00" y2="764.99" stroke="#000" stroke-width="1.3"/><line x1="543.20" y1="762.09" x2="547.70" y2="762.09" stroke="#000" stroke-width="1.3"/><line x1="839.00" y1="762.09" x2="844.00" y2="762.09" stroke="#000" stroke-width="1.3"/><line x1="543.20" y1="759.50" x2="551.20" y2="759.50" stroke="#000" stroke-width="1.3"/><line x1="839.00" y1="759.50" x2="847.00" y2="759.50" stroke="#000" stroke-width="1.3"/><line x1="543.20" y1="742.46" x2="547.70" y2="742.46" stroke="#000" stroke-width="1.3"/><line x1="839.00" y1="742.46" x2="844.00" y2="742.46" stroke="#000" stroke-width="1.3"/><line x1="543.20" y1="732.49" x2="547.70" y2="732.49" stroke="#000" stroke-width="1.3"/><line x1="839.00" y1="732.49" x2="844.00" y2="732.49" stroke="#000" stroke-width="1.3"/><line x1="543.20" y1="725.42" x2="547.70" y2="725.42" stroke="#000" stroke-width="1.3"/><line x1="839.00" y1="725.42" x2="844.00" y2="725.42" stroke="#000" stroke-width="1.3"/><line x1="543.20" y1="719.94" x2="547.70" y2="719.94" stroke="#000" stroke-width="1.3"/><line x1="839.00" y1="719.94" x2="844.00" y2="719.94" stroke="#000" stroke-width="1.3"/><line x1="543.20" y1="715.46" x2="547.70" y2="715.46" stroke="#000" stroke-width="1.3"/><line x1="839.00" y1="715.46" x2="844.00" y2="715.46" stroke="#000" stroke-width="1.3"/><line x1="543.20" y1="711.67" x2="547.70" y2="711.67" stroke="#000" stroke-width="1.3"/><line x1="839.00" y1="711.67" x2="844.00" y2="711.67" stroke="#000" stroke-width="1.3"/><line x1="543.20" y1="708.39" x2="547.70" y2="708.39" stroke="#000" stroke-width="1.3"/><line x1="839.00" y1="708.39" x2="844.00" y2="708.39" stroke="#000" stroke-width="1.3"/><line x1="543.20" y1="705.49" x2="547.70" y2="705.49" stroke="#000" stroke-width="1.3"/><line x1="839.00" y1="705.49" x2="844.00" y2="705.49" stroke="#000" stroke-width="1.3"/><line x1="543.20" y1="702.90" x2="551.20" y2="702.90" stroke="#000" stroke-width="1.3"/><line x1="839.00" y1="702.90" x2="847.00" y2="702.90" stroke="#000" stroke-width="1.3"/><line x1="543.20" y1="685.86" x2="547.70" y2="685.86" stroke="#000" stroke-width="1.3"/><line x1="839.00" y1="685.86" x2="844.00" y2="685.86" stroke="#000" stroke-width="1.3"/><line x1="543.20" y1="675.89" x2="547.70" y2="675.89" stroke="#000" stroke-width="1.3"/><line x1="839.00" y1="675.89" x2="844.00" y2="675.89" stroke="#000" stroke-width="1.3"/><line x1="543.20" y1="668.82" x2="547.70" y2="668.82" stroke="#000" stroke-width="1.3"/><line x1="839.00" y1="668.82" x2="844.00" y2="668.82" stroke="#000" stroke-width="1.3"/><line x1="543.20" y1="663.34" x2="547.70" y2="663.34" stroke="#000" stroke-width="1.3"/><line x1="839.00" y1="663.34" x2="844.00" y2="663.34" stroke="#000" stroke-width="1.3"/><line x1="543.20" y1="658.86" x2="547.70" y2="658.86" stroke="#000" stroke-width="1.3"/><line x1="839.00" y1="658.86" x2="844.00" y2="658.86" stroke="#000" stroke-width="1.3"/><line x1="543.20" y1="655.07" x2="547.70" y2="655.07" stroke="#000" stroke-width="1.3"/><line x1="839.00" y1="655.07" x2="844.00" y2="655.07" stroke="#000" stroke-width="1.3"/><line x1="543.20" y1="651.79" x2="547.70" y2="651.79" stroke="#000" stroke-width="1.3"/><line x1="839.00" y1="651.79" x2="844.00" y2="651.79" stroke="#000" stroke-width="1.3"/><line x1="543.20" y1="648.89" x2="547.70" y2="648.89" stroke="#000" stroke-width="1.3"/><line x1="839.00" y1="648.89" x2="844.00" y2="648.89" stroke="#000" stroke-width="1.3"/><line x1="543.20" y1="646.30" x2="551.20" y2="646.30" stroke="#000" stroke-width="1.3"/><line x1="839.00" y1="646.30" x2="847.00" y2="646.30" stroke="#000" stroke-width="1.3"/><line x1="543.20" y1="629.26" x2="547.70" y2="629.26" stroke="#000" stroke-width="1.3"/><line x1="839.00" y1="629.26" x2="844.00" y2="629.26" stroke="#000" stroke-width="1.3"/><line x1="543.20" y1="619.29" x2="547.70" y2="619.29" stroke="#000" stroke-width="1.3"/><line x1="839.00" y1="619.29" x2="844.00" y2="619.29" stroke="#000" stroke-width="1.3"/><line x1="543.20" y1="612.22" x2="547.70" y2="612.22" stroke="#000" stroke-width="1.3"/><line x1="839.00" y1="612.22" x2="844.00" y2="612.22" stroke="#000" stroke-width="1.3"/><line x1="543.20" y1="606.74" x2="547.70" y2="606.74" stroke="#000" stroke-width="1.3"/><line x1="839.00" y1="606.74" x2="844.00" y2="606.74" stroke="#000" stroke-width="1.3"/><line x1="543.20" y1="602.26" x2="547.70" y2="602.26" stroke="#000" stroke-width="1.3"/><line x1="839.00" y1="602.26" x2="844.00" y2="602.26" stroke="#000" stroke-width="1.3"/><line x1="543.20" y1="598.47" x2="547.70" y2="598.47" stroke="#000" stroke-width="1.3"/><line x1="839.00" y1="598.47" x2="844.00" y2="598.47" stroke="#000" stroke-width="1.3"/><line x1="543.20" y1="595.19" x2="547.70" y2="595.19" stroke="#000" stroke-width="1.3"/><line x1="839.00" y1="595.19" x2="844.00" y2="595.19" stroke="#000" stroke-width="1.3"/><line x1="543.20" y1="592.29" x2="547.70" y2="592.29" stroke="#000" stroke-width="1.3"/><line x1="839.00" y1="592.29" x2="844.00" y2="592.29" stroke="#000" stroke-width="1.3"/><line x1="543.20" y1="589.70" x2="551.20" y2="589.70" stroke="#000" stroke-width="1.3"/><line x1="839.00" y1="589.70" x2="847.00" y2="589.70" stroke="#000" stroke-width="1.3"/><line x1="543.20" y1="572.66" x2="547.70" y2="572.66" stroke="#000" stroke-width="1.3"/><line x1="839.00" y1="572.66" x2="844.00" y2="572.66" stroke="#000" stroke-width="1.3"/><line x1="543.20" y1="562.69" x2="547.70" y2="562.69" stroke="#000" stroke-width="1.3"/><line x1="839.00" y1="562.69" x2="844.00" y2="562.69" stroke="#000" stroke-width="1.3"/><line x1="543.20" y1="555.62" x2="547.70" y2="555.62" stroke="#000" stroke-width="1.3"/><line x1="839.00" y1="555.62" x2="844.00" y2="555.62" stroke="#000" stroke-width="1.3"/><line x1="543.20" y1="550.14" x2="547.70" y2="550.14" stroke="#000" stroke-width="1.3"/><line x1="839.00" y1="550.14" x2="844.00" y2="550.14" stroke="#000" stroke-width="1.3"/><line x1="577.50" y1="845.30" x2="577.50" y2="853.30" stroke="#000" stroke-width="1.3"/><line x1="577.50" y1="542.80" x2="577.50" y2="550.00" stroke="#000" stroke-width="1.3"/><line x1="620.76" y1="845.30" x2="620.76" y2="849.80" stroke="#000" stroke-width="1.3"/><line x1="620.76" y1="546.20" x2="620.76" y2="550.00" stroke="#000" stroke-width="1.3"/><line x1="664.03" y1="845.30" x2="664.03" y2="853.30" stroke="#000" stroke-width="1.3"/><line x1="664.03" y1="542.80" x2="664.03" y2="550.00" stroke="#000" stroke-width="1.3"/><line x1="707.29" y1="845.30" x2="707.29" y2="849.80" stroke="#000" stroke-width="1.3"/><line x1="707.29" y1="546.20" x2="707.29" y2="550.00" stroke="#000" stroke-width="1.3"/><line x1="750.56" y1="845.30" x2="750.56" y2="853.30" stroke="#000" stroke-width="1.3"/><line x1="750.56" y1="542.80" x2="750.56" y2="550.00" stroke="#000" stroke-width="1.3"/><line x1="793.83" y1="845.30" x2="793.83" y2="849.80" stroke="#000" stroke-width="1.3"/><line x1="793.83" y1="546.20" x2="793.83" y2="550.00" stroke="#000" stroke-width="1.3"/><line x1="837.09" y1="845.30" x2="837.09" y2="853.30" stroke="#000" stroke-width="1.3"/><line x1="837.09" y1="542.80" x2="837.09" y2="550.00" stroke="#000" stroke-width="1.3"/><rect x="543.2" y="550.0" width="295.80" height="295.30" fill="none" stroke="#000" stroke-width="1.5"/><text x="577.50" y="879.50" font-size="27" text-anchor="middle" >450</text><text x="664.03" y="879.50" font-size="27" text-anchor="middle" >550</text><text x="750.56" y="879.50" font-size="27" text-anchor="middle" >650</text><text x="837.09" y="879.50" font-size="27" text-anchor="middle" >750</text><text x="690.80" y="908.60" font-size="27.6" text-anchor="middle" >Wavelength [nm]</text><text x="848.5" y="599.20" font-size="25">10<tspan font-size="19" dx="0.5" dy="-11">3</tspan></text><text x="848.5" y="655.80" font-size="25">10<tspan font-size="19" dx="0.5" dy="-11">2</tspan></text><text x="848.5" y="712.40" font-size="25">10<tspan font-size="19" dx="0.5" dy="-11">1</tspan></text><text x="848.5" y="769.00" font-size="25">10<tspan font-size="19" dx="0.5" dy="-11">0</tspan></text><text x="848.5" y="825.60" font-size="25">10<tspan font-size="19" dx="0.5" dy="-11">−1</tspan></text><text x="0" y="0" font-size="27.3" text-anchor="middle" transform="translate(908.8,697.5) rotate(90)">Lifetime [ps]</text><text x="538.20" y="517.30" font-size="36.5" text-anchor="start" >d</text><rect x="344.5" y="32" width="158.50" height="9.80" fill="url(#cba0)" stroke="#000" stroke-width="2"/><line x1="346.80" y1="32" x2="346.80" y2="34.5" stroke="#000" stroke-width="1.2"/><line x1="346.80" y1="39.3" x2="346.80" y2="41.8" stroke="#000" stroke-width="1.2"/><line x1="376.50" y1="32" x2="376.50" y2="34.5" stroke="#000" stroke-width="1.2"/><line x1="376.50" y1="39.3" x2="376.50" y2="41.8" stroke="#000" stroke-width="1.2"/><line x1="406.50" y1="32" x2="406.50" y2="34.5" stroke="#000" stroke-width="1.2"/><line x1="406.50" y1="39.3" x2="406.50" y2="41.8" stroke="#000" stroke-width="1.2"/><line x1="435.70" y1="32" x2="435.70" y2="34.5" stroke="#000" stroke-width="1.2"/><line x1="435.70" y1="39.3" x2="435.70" y2="41.8" stroke="#000" stroke-width="1.2"/><line x1="465.00" y1="32" x2="465.00" y2="34.5" stroke="#000" stroke-width="1.2"/><line x1="465.00" y1="39.3" x2="465.00" y2="41.8" stroke="#000" stroke-width="1.2"/><line x1="494.80" y1="32" x2="494.80" y2="34.5" stroke="#000" stroke-width="1.2"/><line x1="494.80" y1="39.3" x2="494.80" y2="41.8" stroke="#000" stroke-width="1.2"/><rect x="700" y="32" width="132.00" height="9.80" fill="url(#cbb)" stroke="#000" stroke-width="2"/><line x1="720.80" y1="32" x2="720.80" y2="34.5" stroke="#000" stroke-width="1.2"/><line x1="720.80" y1="39.3" x2="720.80" y2="41.8" stroke="#000" stroke-width="1.2"/><line x1="733.70" y1="32" x2="733.70" y2="34.5" stroke="#000" stroke-width="1.2"/><line x1="733.70" y1="39.3" x2="733.70" y2="41.8" stroke="#000" stroke-width="1.2"/><line x1="746.20" y1="32" x2="746.20" y2="34.5" stroke="#000" stroke-width="1.2"/><line x1="746.20" y1="39.3" x2="746.20" y2="41.8" stroke="#000" stroke-width="1.2"/><line x1="758.70" y1="32" x2="758.70" y2="34.5" stroke="#000" stroke-width="1.2"/><line x1="758.70" y1="39.3" x2="758.70" y2="41.8" stroke="#000" stroke-width="1.2"/><line x1="771.40" y1="32" x2="771.40" y2="34.5" stroke="#000" stroke-width="1.2"/><line x1="771.40" y1="39.3" x2="771.40" y2="41.8" stroke="#000" stroke-width="1.2"/><line x1="783.50" y1="32" x2="783.50" y2="34.5" stroke="#000" stroke-width="1.2"/><line x1="783.50" y1="39.3" x2="783.50" y2="41.8" stroke="#000" stroke-width="1.2"/><line x1="796.00" y1="32" x2="796.00" y2="34.5" stroke="#000" stroke-width="1.2"/><line x1="796.00" y1="39.3" x2="796.00" y2="41.8" stroke="#000" stroke-width="1.2"/><line x1="808.90" y1="32" x2="808.90" y2="34.5" stroke="#000" stroke-width="1.2"/><line x1="808.90" y1="39.3" x2="808.90" y2="41.8" stroke="#000" stroke-width="1.2"/><line x1="821.40" y1="32" x2="821.40" y2="34.5" stroke="#000" stroke-width="1.2"/><line x1="821.40" y1="39.3" x2="821.40" y2="41.8" stroke="#000" stroke-width="1.2"/><rect x="344.5" y="506" width="158.50" height="9.50" fill="url(#cbc)" stroke="#000" stroke-width="2"/><line x1="375.00" y1="506" x2="375.00" y2="508.5" stroke="#000" stroke-width="1.2"/><line x1="375.00" y1="513.0" x2="375.00" y2="515.5" stroke="#000" stroke-width="1.2"/><line x1="415.50" y1="506" x2="415.50" y2="508.5" stroke="#000" stroke-width="1.2"/><line x1="415.50" y1="513.0" x2="415.50" y2="515.5" stroke="#000" stroke-width="1.2"/><line x1="456.50" y1="506" x2="456.50" y2="508.5" stroke="#000" stroke-width="1.2"/><line x1="456.50" y1="513.0" x2="456.50" y2="515.5" stroke="#000" stroke-width="1.2"/><line x1="497.10" y1="506" x2="497.10" y2="508.5" stroke="#000" stroke-width="1.2"/><line x1="497.10" y1="513.0" x2="497.10" y2="515.5" stroke="#000" stroke-width="1.2"/><rect x="700" y="505.8" width="132.00" height="9.70" fill="url(#cbd)" stroke="#000" stroke-width="2"/><line x1="706.70" y1="505.8" x2="706.70" y2="508.3" stroke="#000" stroke-width="1.2"/><line x1="706.70" y1="513.0" x2="706.70" y2="515.5" stroke="#000" stroke-width="1.2"/><line x1="729.60" y1="505.8" x2="729.60" y2="508.3" stroke="#000" stroke-width="1.2"/><line x1="729.60" y1="513.0" x2="729.60" y2="515.5" stroke="#000" stroke-width="1.2"/><line x1="752.20" y1="505.8" x2="752.20" y2="508.3" stroke="#000" stroke-width="1.2"/><line x1="752.20" y1="513.0" x2="752.20" y2="515.5" stroke="#000" stroke-width="1.2"/><line x1="774.70" y1="505.8" x2="774.70" y2="508.3" stroke="#000" stroke-width="1.2"/><line x1="774.70" y1="513.0" x2="774.70" y2="515.5" stroke="#000" stroke-width="1.2"/><line x1="796.80" y1="505.8" x2="796.80" y2="508.3" stroke="#000" stroke-width="1.2"/><line x1="796.80" y1="513.0" x2="796.80" y2="515.5" stroke="#000" stroke-width="1.2"/><line x1="819.80" y1="505.8" x2="819.80" y2="508.3" stroke="#000" stroke-width="1.2"/><line x1="819.80" y1="513.0" x2="819.80" y2="515.5" stroke="#000" stroke-width="1.2"/><text x="419.80" y="20.60" font-size="23.5" text-anchor="middle" >ΔmOD</text><text x="348.00" y="63.90" font-size="19" text-anchor="middle" >−8</text><text x="406.50" y="63.90" font-size="19" text-anchor="middle" >−4</text><text x="465.50" y="63.90" font-size="19" text-anchor="middle" >0</text><text x="769.00" y="20.20" font-size="23.8" text-anchor="middle" >Amplitude</text><text x="721.50" y="64.00" font-size="19" text-anchor="middle" >−4</text><text x="746.50" y="64.00" font-size="19" text-anchor="middle" >−2</text><text x="771.80" y="64.00" font-size="19" text-anchor="middle" >0</text><text x="797.00" y="64.00" font-size="19" text-anchor="middle" >2</text><text x="821.50" y="64.00" font-size="19" text-anchor="middle" >4</text><text x="419.80" y="494.50" font-size="23.5" text-anchor="middle" >ΔmOD</text><text x="375.40" y="537.80" font-size="19" text-anchor="middle" >−8</text><text x="415.80" y="537.80" font-size="19" text-anchor="middle" >−4</text><text x="456.80" y="537.80" font-size="19" text-anchor="middle" >0</text><text x="497.30" y="537.80" font-size="19" text-anchor="middle" >4</text><text x="769.00" y="494.00" font-size="23.8" text-anchor="middle" >Amplitude</text><text x="730.30" y="538.40" font-size="19" text-anchor="middle" >−2</text><text x="774.70" y="538.40" font-size="19" text-anchor="middle" >0</text><text x="819.20" y="538.40" font-size="19" text-anchor="middle" >2</text></svg></body></html>
